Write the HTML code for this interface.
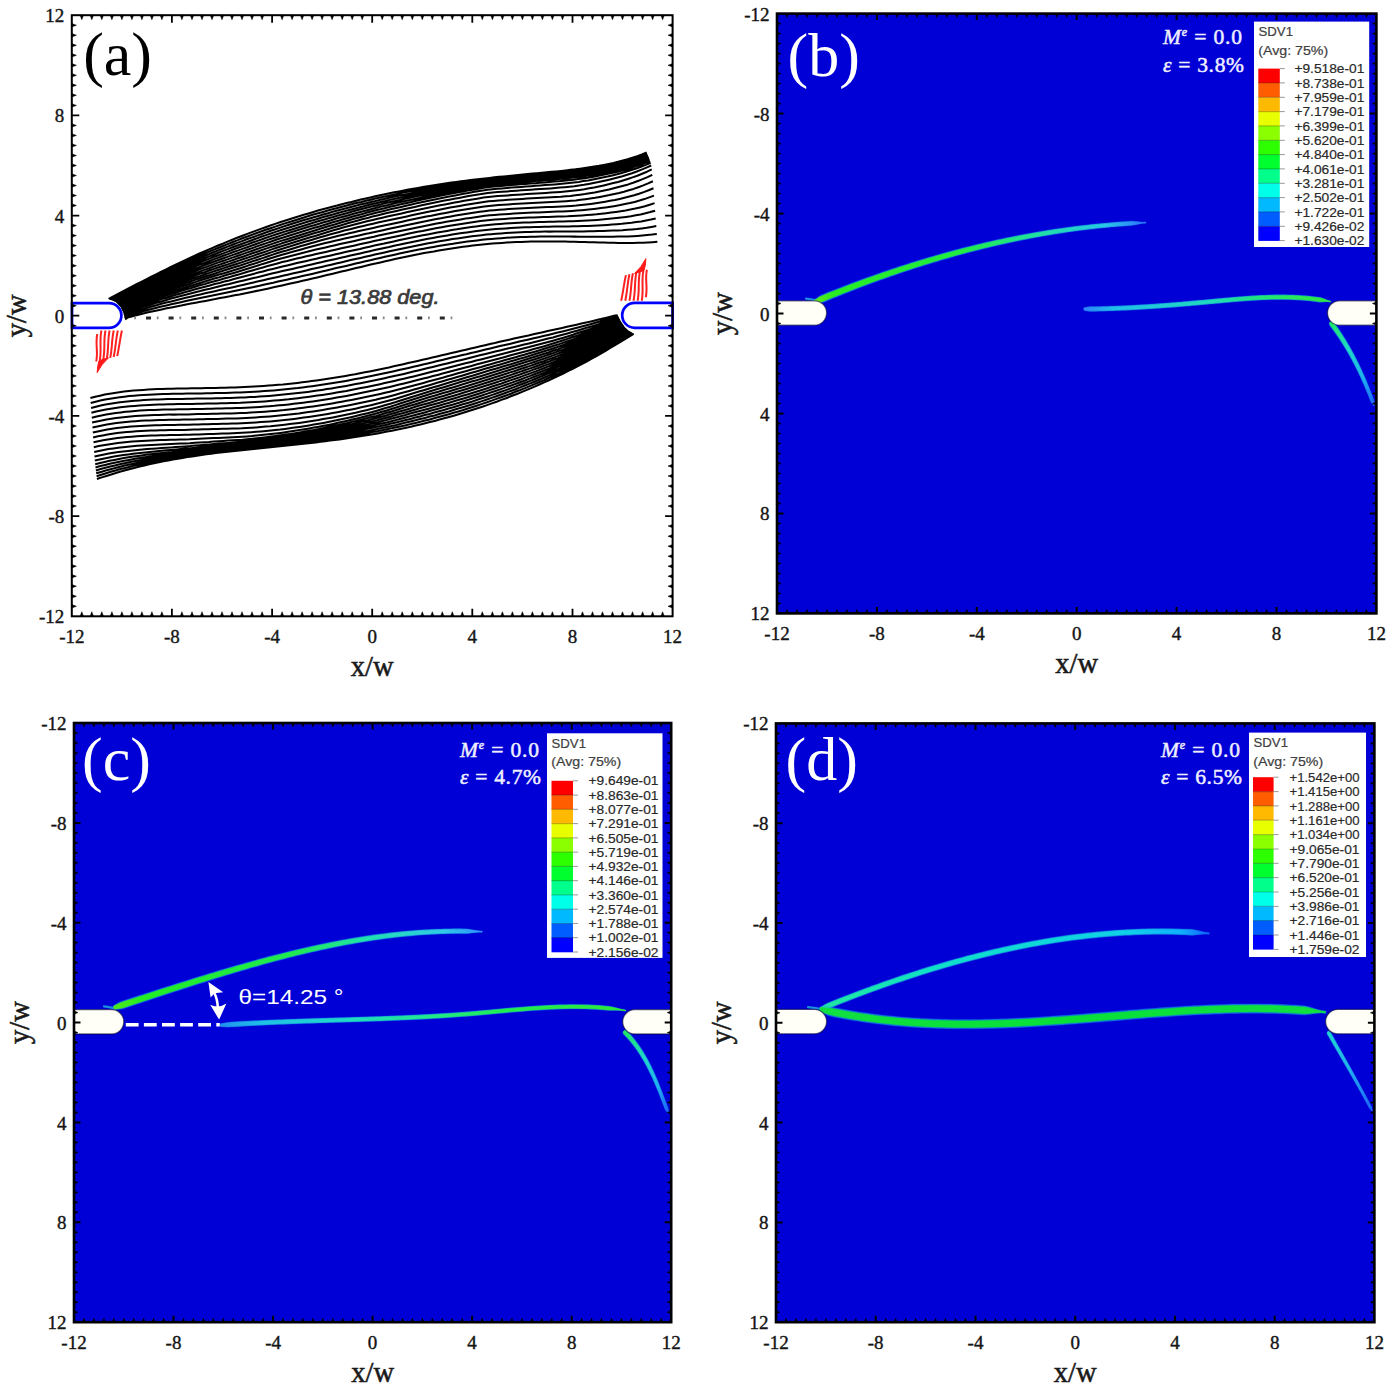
<!DOCTYPE html><html><head><meta charset="utf-8"><title>Figure</title><style>html,body{margin:0;padding:0;background:#fff;overflow:hidden;}svg{display:block;font-family:"Liberation Serif",serif;}</style></head><body><svg width="1395" height="1390" viewBox="0 0 1395 1390"><rect x="71.8" y="15.2" width="600.8" height="601.1" fill="#ffffff"/><path d="M125.2 319.4L127.7 317.5 132.6 316.2 137.4 315 142.3 313.7 147.1 312.6 152 311.5 156.9 310.4 161.7 309.4 166.6 308.3 171.4 307.4 176.3 306.4 181.2 305.5 186 304.5 190.9 303.6 195.7 302.7 200.6 301.8 205.5 300.9 210.3 300 215.2 299.1 220 298.1 224.9 297.2 229.8 296.3 234.6 295.3 239.5 294.4 244.3 293.4 249.2 292.4 254.1 291.4 258.9 290.4 263.8 289.4 268.6 288.4 273.5 287.3 278.3 286.3 283.2 285.2 288.1 284.1 292.9 283 297.8 281.9 302.6 280.8 307.5 279.7 312.4 278.5 317.2 277.4 322.1 276.2 326.9 275.1 331.8 273.9 336.7 272.7 341.5 271.6 346.4 270.4 351.2 269.2 356.1 268.1 361 266.9 365.8 265.8 370.7 264.6 375.5 263.5 380.4 262.4 385.3 261.3 390.1 260.2 395 259.1 399.8 258.1 404.7 257 409.6 256 414.4 255 419.3 254.1 424.1 253.1 429 252.2 433.9 251.4 438.7 250.5 443.6 249.7 448.4 248.9 453.3 248.2 458.2 247.5 463 246.8 467.9 246.2 472.7 245.6 477.6 245 482.5 244.5 487.3 244.1 492.2 243.6 497 243.2 501.9 242.9 506.8 242.6 511.6 242.3 516.5 242.1 521.3 241.9 526.2 241.7 531 241.6 535.9 241.5 540.8 241.4 545.6 241.4 550.5 241.4 555.3 241.4 560.2 241.5 565.1 241.6 569.9 241.7 574.8 241.8 579.6 241.9 584.5 242 589.4 242.2 594.2 242.3 599.1 242.5 603.9 242.6 608.8 242.7 613.7 242.8 618.5 242.9 623.4 242.9 628.2 242.9 633.1 242.9 638 242.8 642.8 242.7 647.7 242.5 652.5 242.2 657.4 241.8M124.8 318L127.5 315.8 132.4 314.3 137.2 312.9 142.1 311.5 146.9 310.2 151.8 308.9 156.6 307.7 161.5 306.6 166.4 305.4 171.2 304.3 176.1 303.2 180.9 302.2 185.8 301.1 190.6 300.1 195.5 299.1 200.3 298.1 205.2 297.1 210.1 296.1 214.9 295.1 219.8 294.1 224.6 293.1 229.5 292.1 234.3 291.1 239.2 290.1 244.1 289 248.9 288 253.8 286.9 258.6 285.9 263.5 284.8 268.3 283.7 273.2 282.7 278 281.6 282.9 280.5 287.8 279.4 292.6 278.3 297.5 277.2 302.3 276.1 307.2 275 312 273.9 316.9 272.7 321.8 271.6 326.6 270.4 331.5 269.3 336.3 268.1 341.2 267 346 265.9 350.9 264.7 355.7 263.6 360.6 262.4 365.5 261.3 370.3 260.2 375.2 259 380 257.9 384.9 256.8 389.7 255.8 394.6 254.7 399.5 253.6 404.3 252.6 409.2 251.6 414 250.6 418.9 249.6 423.7 248.7 428.6 247.8 433.4 246.9 438.3 246 443.2 245.2 448 244.4 452.9 243.7 457.7 242.9 462.6 242.2 467.4 241.6 472.3 241 477.2 240.4 482 239.8 486.9 239.3 491.7 238.9 496.6 238.5 501.4 238.2 506.3 237.8 511.1 237.5 516 237.3 520.9 237.1 525.7 236.9 530.6 236.8 535.4 236.7 540.3 236.6 545.1 236.5 550 236.5 554.9 236.5 559.7 236.5 564.6 236.5 569.4 236.6 574.3 236.6 579.1 236.7 584 236.7 588.8 236.7 593.7 236.8 598.6 236.8 603.4 236.8 608.3 236.8 613.1 236.7 618 236.6 622.8 236.5 627.7 236.4 632.6 236.2 637.4 235.9 642.3 235.5 647.1 235.1 652 234.6 656.8 234M124.5 316.5L127.5 314 132.4 312.4 137.2 310.9 142.1 309.4 146.9 307.9 151.8 306.5 156.6 305.2 161.5 303.8 166.3 302.6 171.2 301.4 176 300.2 180.9 299 185.7 297.8 190.6 296.7 195.4 295.6 200.3 294.4 205.1 293.3 210 292.2 214.8 291.2 219.7 290.1 224.5 289 229.4 287.9 234.2 286.9 239.1 285.8 243.9 284.7 248.8 283.6 253.6 282.4 258.5 281.3 263.3 280.2 268.2 279.1 273 278 277.9 276.9 282.7 275.8 287.6 274.7 292.4 273.6 297.3 272.5 302.1 271.4 307 270.3 311.8 269.1 316.7 268 321.5 266.9 326.4 265.8 331.2 264.7 336.1 263.5 340.9 262.4 345.8 261.3 350.7 260.1 355.5 259 360.4 257.9 365.2 256.8 370.1 255.7 374.9 254.6 379.8 253.5 384.6 252.4 389.5 251.3 394.3 250.3 399.2 249.2 404 248.2 408.9 247.2 413.7 246.2 418.6 245.2 423.4 244.2 428.3 243.3 433.1 242.4 438 241.5 442.8 240.7 447.7 239.9 452.5 239.1 457.4 238.4 462.2 237.7 467.1 237 471.9 236.3 476.8 235.7 481.6 235.2 486.5 234.6 491.3 234.2 496.2 233.8 501 233.4 505.9 233.1 510.7 232.8 515.6 232.5 520.4 232.3 525.3 232.1 530.1 232 535 231.8 539.8 231.7 544.7 231.6 549.5 231.6 554.4 231.5 559.3 231.5 564.1 231.5 569 231.5 573.8 231.4 578.7 231.4 583.5 231.4 588.4 231.3 593.2 231.2 598.1 231.1 602.9 231 607.8 230.8 612.6 230.6 617.5 230.4 622.3 230.2 627.2 229.8 632 229.4 636.9 229 641.7 228.4 646.6 227.8 651.4 227 656.3 226.1M124.1 315.1L127.5 312.4 132.3 310.7 137.2 309 142 307.4 146.9 305.8 151.7 304.3 156.6 302.8 161.4 301.4 166.3 300 171.1 298.6 176 297.3 180.8 296 185.7 294.8 190.5 293.5 195.3 292.3 200.2 291.1 205 289.8 209.9 288.7 214.7 287.5 219.6 286.3 224.4 285.1 229.3 284 234.1 282.8 239 281.6 243.8 280.4 248.6 279.3 253.5 278.1 258.3 276.9 263.2 275.7 268 274.5 272.9 273.3 277.7 272.2 282.6 271.1 287.4 270 292.3 268.9 297.1 267.8 302 266.7 306.8 265.6 311.6 264.4 316.5 263.3 321.3 262.2 326.2 261.1 331 260 335.9 258.9 340.7 257.8 345.6 256.7 350.4 255.6 355.3 254.5 360.1 253.4 365 252.3 369.8 251.2 374.6 250.1 379.5 249 384.3 247.9 389.2 246.9 394 245.8 398.9 244.8 403.7 243.7 408.6 242.7 413.4 241.7 418.3 240.7 423.1 239.8 428 238.8 432.8 237.9 437.6 237.1 442.5 236.2 447.3 235.4 452.2 234.6 457 233.8 461.9 233.1 466.7 232.4 471.6 231.7 476.4 231.1 481.3 230.5 486.1 229.9 490.9 229.5 495.8 229.1 500.6 228.7 505.5 228.4 510.3 228.1 515.2 227.8 520 227.6 524.9 227.3 529.7 227.2 534.6 227 539.4 226.9 544.3 226.8 549.1 226.7 553.9 226.6 558.8 226.5 563.6 226.5 568.5 226.4 573.3 226.3 578.2 226.2 583 226 587.9 225.9 592.7 225.7 597.6 225.5 602.4 225.2 607.3 224.9 612.1 224.6 616.9 224.2 621.8 223.8 626.6 223.3 631.5 222.8 636.3 222.1 641.2 221.4 646 220.5 650.9 219.5 655.7 218.4M123.8 313.6L127.5 310.9 132.3 309.1 137.2 307.3 142 305.6 146.9 303.9 151.7 302.3 156.5 300.7 161.4 299.1 166.2 297.7 171.1 296.2 175.9 294.8 180.7 293.4 185.6 292 190.4 290.7 195.3 289.3 200.1 288 205 286.7 209.8 285.4 214.6 284.1 219.5 282.9 224.3 281.6 229.2 280.4 234 279.1 238.8 277.8 243.7 276.5 248.5 275.2 253.4 273.9 258.2 272.6 263 271.4 267.9 270.1 272.7 268.9 277.6 267.7 282.4 266.5 287.2 265.4 292.1 264.2 296.9 263.1 301.8 262 306.6 260.9 311.5 259.8 316.3 258.7 321.1 257.6 326 256.5 330.8 255.4 335.7 254.3 340.5 253.2 345.3 252.1 350.2 251 355 249.9 359.9 248.9 364.7 247.8 369.5 246.7 374.4 245.6 379.2 244.5 384.1 243.5 388.9 242.4 393.7 241.4 398.6 240.3 403.4 239.3 408.3 238.3 413.1 237.3 417.9 236.3 422.8 235.3 427.6 234.4 432.5 233.5 437.3 232.6 442.2 231.7 447 230.9 451.8 230 456.7 229.3 461.5 228.5 466.4 227.8 471.2 227.1 476 226.4 480.9 225.8 485.7 225.2 490.6 224.7 495.4 224.3 500.2 224 505.1 223.6 509.9 223.3 514.8 223 519.6 222.8 524.4 222.6 529.3 222.4 534.1 222.2 539 222 543.8 221.9 548.6 221.8 553.5 221.7 558.3 221.5 563.2 221.4 568 221.3 572.9 221.2 577.7 221 582.5 220.7 587.4 220.5 592.2 220.2 597.1 219.9 601.9 219.5 606.7 219.1 611.6 218.6 616.4 218.1 621.3 217.5 626.1 216.9 630.9 216.2 635.8 215.3 640.6 214.4 645.5 213.3 650.3 212.1 655.1 210.7M123.2 312.2L127.5 309.4 132.3 307.5 137.2 305.7 142 303.9 146.8 302.2 151.7 300.5 156.5 298.8 161.3 297.1 166.2 295.6 171 294 175.9 292.5 180.7 291.1 185.5 289.6 190.4 288.2 195.2 286.7 200 285.3 204.9 284 209.7 282.6 214.5 281.2 219.4 279.9 224.2 278.5 229 277.2 233.9 275.8 238.7 274.5 243.6 273.1 248.4 271.6 253.2 270.2 258.1 268.8 262.9 267.4 267.7 266 272.6 264.7 277.4 263.4 282.2 262.1 287.1 261 291.9 259.8 296.7 258.6 301.6 257.5 306.4 256.3 311.3 255.2 316.1 254.1 320.9 253 325.8 251.9 330.6 250.8 335.4 249.7 340.3 248.6 345.1 247.5 349.9 246.5 354.8 245.4 359.6 244.3 364.4 243.3 369.3 242.2 374.1 241.1 379 240.1 383.8 239 388.6 238 393.5 236.9 398.3 235.9 403.1 234.9 408 233.8 412.8 232.8 417.6 231.8 422.5 230.9 427.3 229.9 432.1 229 437 228.1 441.8 227.2 446.7 226.3 451.5 225.5 456.3 224.7 461.2 223.9 466 223.2 470.8 222.5 475.7 221.8 480.5 221.1 485.3 220.5 490.2 220 495 219.6 499.8 219.2 504.7 218.9 509.5 218.6 514.4 218.3 519.2 218 524 217.8 528.9 217.6 533.7 217.4 538.5 217.2 543.4 217 548.2 216.9 553 216.7 557.9 216.6 562.7 216.4 567.5 216.3 572.4 216 577.2 215.8 582 215.5 586.9 215.1 591.7 214.7 596.6 214.3 601.4 213.8 606.2 213.2 611.1 212.6 615.9 212 620.7 211.3 625.6 210.5 630.4 209.6 635.2 208.6 640.1 207.4 644.9 206.2 649.7 204.7 654.6 203.1M122.6 310.9L127.5 307.9 132.3 306 137.2 304.2 142 302.3 146.8 300.5 151.7 298.7 156.5 297 161.3 295.3 166.1 293.6 171 292 175.8 290.4 180.6 288.9 185.5 287.4 190.3 285.9 195.1 284.4 200 282.9 204.8 281.5 209.6 280 214.4 278.6 219.3 277.2 224.1 275.7 228.9 274.3 233.8 272.9 238.6 271.5 243.4 270 248.3 268.5 253.1 267 257.9 265.5 262.8 263.9 267.6 262.5 272.4 261 277.2 259.6 282.1 258.2 286.9 256.9 291.7 255.7 296.6 254.4 301.4 253.2 306.2 252 311.1 250.8 315.9 249.6 320.7 248.5 325.5 247.4 330.4 246.3 335.2 245.2 340 244.1 344.9 243 349.7 242 354.5 240.9 359.4 239.8 364.2 238.8 369 237.7 373.9 236.7 378.7 235.6 383.5 234.6 388.3 233.5 393.2 232.5 398 231.5 402.8 230.4 407.7 229.4 412.5 228.4 417.3 227.4 422.2 226.4 427 225.5 431.8 224.5 436.6 223.6 441.5 222.7 446.3 221.8 451.1 221 456 220.2 460.8 219.4 465.6 218.6 470.5 217.9 475.3 217.2 480.1 216.5 485 215.8 489.8 215.3 494.6 214.9 499.4 214.5 504.3 214.2 509.1 213.9 513.9 213.6 518.8 213.3 523.6 213 528.4 212.8 533.3 212.6 538.1 212.4 542.9 212.2 547.8 212 552.6 211.8 557.4 211.6 562.2 211.4 567.1 211.2 571.9 210.9 576.7 210.6 581.6 210.2 586.4 209.8 591.2 209.3 596.1 208.7 600.9 208.1 605.7 207.4 610.5 206.7 615.4 205.9 620.2 205.1 625 204.1 629.9 203.1 634.7 201.9 639.5 200.6 644.4 199.1 649.2 197.4 654 195.6M122 309.6L127.5 306.5 132.3 304.5 137.2 302.6 142 300.7 146.8 298.8 151.6 297 156.5 295.2 161.3 293.4 166.1 291.7 170.9 290.1 175.8 288.4 180.6 286.8 185.4 285.2 190.2 283.7 195.1 282.1 199.9 280.6 204.7 279.1 209.5 277.6 214.4 276.1 219.2 274.6 224 273.2 228.8 271.7 233.7 270.2 238.5 268.7 243.3 267.2 248.1 265.6 253 264.1 257.8 262.5 262.6 260.9 267.4 259.3 272.3 257.8 277.1 256.3 281.9 254.8 286.7 253.4 291.6 252.1 296.4 250.7 301.2 249.4 306 248.1 310.9 246.8 315.7 245.5 320.5 244.3 325.3 243.1 330.2 241.9 335 240.8 339.8 239.7 344.6 238.6 349.5 237.5 354.3 236.4 359.1 235.4 363.9 234.3 368.8 233.3 373.6 232.2 378.4 231.2 383.2 230.2 388.1 229.1 392.9 228.1 397.7 227.1 402.5 226 407.4 225 412.2 224 417 223 421.8 222 426.7 221 431.5 220.1 436.3 219.1 441.1 218.2 446 217.3 450.8 216.5 455.6 215.6 460.4 214.8 465.3 214 470.1 213.3 474.9 212.5 479.7 211.8 484.6 211.2 489.4 210.6 494.2 210.2 499 209.8 503.9 209.5 508.7 209.1 513.5 208.8 518.3 208.5 523.2 208.3 528 208 532.8 207.8 537.7 207.5 542.5 207.3 547.3 207.1 552.1 206.9 557 206.7 561.8 206.5 566.6 206.2 571.4 205.9 576.3 205.5 581.1 205 585.9 204.5 590.7 203.9 595.6 203.2 600.4 202.5 605.2 201.7 610 200.8 614.9 199.9 619.7 198.9 624.5 197.8 629.3 196.6 634.2 195.3 639 193.8 643.8 192.1 648.6 190.3 653.5 188.3M121.3 308.2L127.5 305 132.3 303 137.1 301.1 142 299.1 146.8 297.2 151.6 295.3 156.4 293.4 161.2 291.6 166.1 289.9 170.9 288.1 175.7 286.4 180.5 284.8 185.3 283.1 190.2 281.5 195 279.9 199.8 278.3 204.6 276.8 209.4 275.2 214.3 273.7 219.1 272.1 223.9 270.6 228.7 269.1 233.5 267.6 238.4 266.1 243.2 264.5 248 262.9 252.8 261.3 257.6 259.7 262.5 258.1 267.3 256.5 272.1 254.9 276.9 253.3 281.7 251.8 286.6 250.4 291.4 248.9 296.2 247.5 301 246.1 305.8 244.7 310.7 243.3 315.5 241.9 320.3 240.6 325.1 239.2 329.9 238 334.8 236.8 339.6 235.6 344.4 234.4 349.2 233.3 354 232.2 358.9 231.1 363.7 230 368.5 228.9 373.3 227.9 378.1 226.8 383 225.8 387.8 224.8 392.6 223.7 397.4 222.7 402.2 221.7 407.1 220.6 411.9 219.6 416.7 218.6 421.5 217.6 426.3 216.6 431.2 215.7 436 214.7 440.8 213.8 445.6 212.9 450.4 212 455.3 211.1 460.1 210.3 464.9 209.5 469.7 208.7 474.5 208 479.4 207.2 484.2 206.5 489 205.9 493.8 205.5 498.7 205.1 503.5 204.8 508.3 204.5 513.1 204.1 517.9 203.8 522.8 203.6 527.6 203.3 532.4 203 537.2 202.8 542 202.5 546.9 202.3 551.7 202 556.5 201.8 561.3 201.5 566.1 201.2 571 200.8 575.8 200.4 580.6 199.8 585.4 199.2 590.2 198.5 595.1 197.8 599.9 196.9 604.7 196 609.5 195.1 614.3 194 619.2 192.9 624 191.7 628.8 190.3 633.6 188.9 638.4 187.2 643.3 185.4 648.1 183.4 652.9 181.2M120.7 306.9L127.5 303.5 132.3 301.5 137.1 299.5 141.9 297.5 146.8 295.5 151.6 293.6 156.4 291.7 161.2 289.8 166 288 170.8 286.2 175.6 284.5 180.5 282.8 185.3 281 190.1 279.4 194.9 277.7 199.7 276.1 204.5 274.5 209.4 272.9 214.2 271.3 219 269.7 223.8 268.1 228.6 266.6 233.4 265 238.2 263.5 243.1 261.9 247.9 260.3 252.7 258.6 257.5 257 262.3 255.4 267.1 253.7 271.9 252.1 276.8 250.5 281.6 249 286.4 247.5 291.2 246.1 296 244.6 300.8 243.1 305.7 241.6 310.5 240.2 315.3 238.7 320.1 237.3 324.9 235.9 329.7 234.5 334.5 233.2 339.4 231.9 344.2 230.6 349 229.4 353.8 228.2 358.6 227 363.4 225.9 368.2 224.8 373.1 223.7 377.9 222.6 382.7 221.6 387.5 220.5 392.3 219.5 397.1 218.4 402 217.4 406.8 216.4 411.6 215.3 416.4 214.3 421.2 213.3 426 212.3 430.8 211.3 435.7 210.4 440.5 209.4 445.3 208.5 450.1 207.6 454.9 206.7 459.7 205.9 464.5 205.1 469.4 204.2 474.2 203.5 479 202.7 483.8 202 488.6 201.3 493.4 200.9 498.3 200.5 503.1 200.2 507.9 199.8 512.7 199.5 517.5 199.2 522.3 198.9 527.1 198.6 532 198.3 536.8 198 541.6 197.8 546.4 197.5 551.2 197.2 556 196.9 560.8 196.7 565.7 196.3 570.5 195.9 575.3 195.3 580.1 194.7 584.9 194.1 589.7 193.3 594.6 192.5 599.4 191.5 604.2 190.5 609 189.5 613.8 188.3 618.6 187.1 623.4 185.8 628.3 184.4 633.1 182.8 637.9 181 642.7 179.1 647.5 177.1 652.3 174.8M119.7 305.7L127.5 302.1 132.3 300 137.1 298 141.9 295.9 146.7 293.9 151.5 291.9 156.4 290 161.2 288 166 286.2 170.8 284.3 175.6 282.5 180.4 280.7 185.2 279 190 277.2 194.8 275.5 199.6 273.8 204.5 272.2 209.3 270.5 214.1 268.9 218.9 267.3 223.7 265.7 228.5 264.1 233.3 262.5 238.1 260.9 242.9 259.3 247.7 257.6 252.6 256 257.4 254.3 262.2 252.7 267 251.1 271.8 249.4 276.6 247.8 281.4 246.3 286.2 244.8 291 243.3 295.8 241.8 300.7 240.3 305.5 238.8 310.3 237.3 315.1 235.9 319.9 234.4 324.7 232.9 329.5 231.5 334.3 230.1 339.1 228.7 343.9 227.3 348.8 226 353.6 224.7 358.4 223.5 363.2 222.3 368 221.1 372.8 219.9 377.6 218.8 382.4 217.7 387.2 216.6 392 215.5 396.8 214.5 401.7 213.4 406.5 212.3 411.3 211.3 416.1 210.3 420.9 209.2 425.7 208.2 430.5 207.2 435.3 206.3 440.1 205.3 444.9 204.4 449.8 203.4 454.6 202.5 459.4 201.7 464.2 200.8 469 200 473.8 199.2 478.6 198.4 483.4 197.6 488.2 196.9 493 196.5 497.9 196.1 502.7 195.7 507.5 195.4 512.3 195.1 517.1 194.7 521.9 194.4 526.7 194.1 531.5 193.8 536.3 193.5 541.1 193.2 546 192.9 550.8 192.6 555.6 192.3 560.4 192 565.2 191.6 570 191.1 574.8 190.5 579.6 189.9 584.4 189.2 589.2 188.3 594.1 187.5 598.9 186.5 603.7 185.4 608.5 184.3 613.3 183.1 618.1 181.9 622.9 180.5 627.7 179 632.5 177.4 637.3 175.7 642.1 173.7 647 171.7 651.8 169.4M118.7 304.7L127.5 300.6 132.3 298.5 137.1 296.4 141.9 294.3 146.7 292.3 151.5 290.2 156.3 288.2 161.1 286.2 165.9 284.3 170.7 282.4 175.5 280.6 180.4 278.7 185.2 276.9 190 275.1 194.8 273.4 199.6 271.6 204.4 269.9 209.2 268.2 214 266.5 218.8 264.9 223.6 263.2 228.4 261.6 233.2 260 238 258.3 242.8 256.7 247.6 255 252.4 253.3 257.2 251.7 262 250 266.8 248.4 271.6 246.8 276.4 245.2 281.2 243.6 286.1 242.1 290.9 240.6 295.7 239.1 300.5 237.6 305.3 236.1 310.1 234.6 314.9 233.1 319.7 231.7 324.5 230.2 329.3 228.7 334.1 227.3 338.9 225.9 343.7 224.5 348.5 223.1 353.3 221.7 358.1 220.4 362.9 219.1 367.7 217.9 372.5 216.6 377.3 215.4 382.1 214.3 387 213.1 391.8 212 396.6 210.9 401.4 209.8 406.2 208.8 411 207.7 415.8 206.7 420.6 205.6 425.4 204.6 430.2 203.6 435 202.6 439.8 201.6 444.6 200.6 449.4 199.7 454.2 198.8 459 197.9 463.8 197 468.6 196.1 473.4 195.3 478.2 194.5 483 193.7 487.8 193 492.7 192.5 497.5 192.1 502.3 191.7 507.1 191.4 511.9 191 516.7 190.7 521.5 190.3 526.3 190 531.1 189.7 535.9 189.3 540.7 189 545.5 188.7 550.3 188.4 555.1 188 559.9 187.6 564.7 187.2 569.5 186.7 574.3 186.2 579.1 185.5 583.9 184.8 588.7 183.9 593.5 183 598.4 182.1 603.2 181 608 179.9 612.8 178.7 617.6 177.5 622.4 176.2 627.2 174.7 632 173.2 636.8 171.5 641.6 169.6 646.4 167.6 651.2 165.5M117.6 303.6L127.5 299.2 132.3 297 137.1 294.9 141.9 292.7 146.7 290.6 151.5 288.5 156.3 286.5 161.1 284.5 165.9 282.5 170.7 280.5 175.5 278.6 180.3 276.7 185.1 274.8 189.9 273 194.7 271.2 199.5 269.4 204.3 267.6 209.1 265.9 213.9 264.1 218.7 262.4 223.5 260.7 228.3 259.1 233.1 257.4 237.9 255.7 242.7 254.1 247.5 252.4 252.3 250.7 257.1 249 261.9 247.4 266.7 245.7 271.5 244.1 276.3 242.5 281.1 240.9 285.9 239.4 290.7 237.9 295.5 236.4 300.3 234.9 305.1 233.4 309.9 232 314.7 230.5 319.5 229 324.3 227.5 329.1 226.1 333.9 224.7 338.7 223.2 343.5 221.8 348.3 220.4 353.1 219.1 357.9 217.7 362.7 216.4 367.5 215.1 372.3 213.8 377.1 212.6 381.9 211.4 386.7 210.2 391.5 209.1 396.3 207.9 401.1 206.9 405.9 205.8 410.7 204.7 415.5 203.6 420.3 202.6 425.1 201.6 429.9 200.5 434.7 199.5 439.5 198.5 444.3 197.6 449.1 196.6 453.9 195.7 458.7 194.7 463.5 193.8 468.3 193 473.1 192.1 477.9 191.3 482.7 190.5 487.5 189.7 492.3 189.2 497.1 188.8 501.9 188.4 506.7 188 511.5 187.6 516.3 187.2 521.1 186.9 525.9 186.5 530.7 186.2 535.5 185.8 540.3 185.5 545.1 185.1 549.9 184.8 554.7 184.4 559.5 184 564.3 183.6 569.1 183.1 573.9 182.5 578.7 181.9 583.4 181.1 588.2 180.4 593 179.5 597.8 178.6 602.6 177.6 607.4 176.6 612.2 175.4 617 174.3 621.8 173 626.6 171.6 631.4 170.1 636.2 168.5 641 166.8 645.8 164.9 650.6 162.8M116.6 302.6L127.5 297.7 132.3 295.5 137.1 293.3 141.9 291.1 146.7 289 151.5 286.8 156.3 284.7 161.1 282.7 165.9 280.6 170.6 278.6 175.4 276.6 180.2 274.7 185 272.8 189.8 270.9 194.6 269 199.4 267.2 204.2 265.3 209 263.5 213.8 261.8 218.6 260 223.4 258.3 228.2 256.6 233 254.9 237.8 253.2 242.6 251.5 247.4 249.8 252.2 248.1 256.9 246.4 261.7 244.7 266.5 243.1 271.3 241.5 276.1 239.8 280.9 238.3 285.7 236.8 290.5 235.2 295.3 233.7 300.1 232.3 304.9 230.8 309.7 229.3 314.5 227.8 319.3 226.4 324.1 224.9 328.9 223.5 333.7 222.1 338.4 220.7 343.2 219.3 348 217.9 352.8 216.5 357.6 215.2 362.4 213.9 367.2 212.6 372 211.3 376.8 210.1 381.6 208.9 386.4 207.7 391.2 206.5 396 205.4 400.8 204.3 405.6 203.2 410.4 202.2 415.2 201.1 420 200.1 424.7 199.1 429.5 198 434.3 197 439.1 196.1 443.9 195.1 448.7 194.1 453.5 193.2 458.3 192.3 463.1 191.4 467.9 190.5 472.7 189.7 477.5 188.9 482.3 188.1 487.1 187.3 491.9 186.7 496.7 186.3 501.5 185.9 506.2 185.5 511 185 515.8 184.7 520.6 184.3 525.4 183.9 530.2 183.5 535 183.2 539.8 182.8 544.6 182.4 549.4 182 554.2 181.6 559 181.2 563.8 180.8 568.6 180.3 573.4 179.7 578.2 179.1 583 178.4 587.8 177.7 592.5 176.9 597.3 176 602.1 175.1 606.9 174.1 611.7 173.1 616.5 171.9 621.3 170.7 626.1 169.4 630.9 168 635.7 166.4 640.5 164.7 645.3 162.9 650.1 160.9M115.5 301.5L127.5 296.3 132.3 294 137.1 291.8 141.9 289.5 146.7 287.3 151.4 285.2 156.2 283 161 280.9 165.8 278.8 170.6 276.7 175.4 274.7 180.2 272.7 185 270.7 189.8 268.8 194.5 266.8 199.3 264.9 204.1 263.1 208.9 261.2 213.7 259.4 218.5 257.6 223.3 255.8 228.1 254.1 232.9 252.3 237.7 250.6 242.4 248.9 247.2 247.2 252 245.5 256.8 243.8 261.6 242.1 266.4 240.4 271.2 238.8 276 237.2 280.8 235.6 285.5 234.1 290.3 232.6 295.1 231.1 299.9 229.6 304.7 228.1 309.5 226.6 314.3 225.2 319.1 223.7 323.9 222.3 328.6 220.9 333.4 219.5 338.2 218.1 343 216.8 347.8 215.4 352.6 214.1 357.4 212.8 362.2 211.5 367 210.2 371.7 209 376.5 207.7 381.3 206.5 386.1 205.4 390.9 204.2 395.7 203.1 400.5 202 405.3 201 410.1 199.9 414.8 198.9 419.6 197.9 424.4 196.9 429.2 195.9 434 194.9 438.8 194 443.6 193 448.4 192.1 453.2 191.2 458 190.3 462.7 189.4 467.5 188.6 472.3 187.8 477.1 187 481.9 186.2 486.7 185.4 491.5 184.9 496.3 184.4 501.1 184 505.8 183.5 510.6 183.1 515.4 182.7 520.2 182.3 525 181.9 529.8 181.5 534.6 181.1 539.4 180.7 544.2 180.3 548.9 179.9 553.7 179.5 558.5 179.1 563.3 178.7 568.1 178.2 572.9 177.6 577.7 177 582.5 176.4 587.3 175.7 592 174.9 596.8 174.1 601.6 173.2 606.4 172.3 611.2 171.3 616 170.2 620.8 169 625.6 167.7 630.4 166.3 635.1 164.8 639.9 163.1 644.7 161.3 649.5 159.3M114.1 301L127.5 294.8 132.3 292.5 137.1 290.2 141.9 288 146.6 285.7 151.4 283.5 156.2 281.3 161 279.1 165.8 276.9 170.6 274.8 175.3 272.7 180.1 270.7 184.9 268.6 189.7 266.6 194.5 264.7 199.3 262.7 204 260.8 208.8 258.9 213.6 257 218.4 255.2 223.2 253.4 228 251.6 232.7 249.8 237.5 248 242.3 246.3 247.1 244.6 251.9 242.8 256.7 241.1 261.5 239.5 266.2 237.8 271 236.1 275.8 234.5 280.6 233 285.4 231.4 290.2 229.9 294.9 228.4 299.7 226.9 304.5 225.5 309.3 224 314.1 222.6 318.9 221.1 323.6 219.7 328.4 218.3 333.2 217 338 215.6 342.8 214.3 347.6 212.9 352.3 211.6 357.1 210.3 361.9 209.1 366.7 207.8 371.5 206.6 376.3 205.4 381.1 204.3 385.8 203.1 390.6 202 395.4 200.9 400.2 199.9 405 198.8 409.8 197.8 414.5 196.8 419.3 195.8 424.1 194.9 428.9 193.9 433.7 193 438.5 192 443.2 191.1 448 190.3 452.8 189.4 457.6 188.5 462.4 187.7 467.2 186.9 471.9 186.1 476.7 185.4 481.5 184.6 486.3 183.9 491.1 183.3 495.9 182.8 500.6 182.4 505.4 181.9 510.2 181.5 515 181.1 519.8 180.7 524.6 180.2 529.4 179.8 534.1 179.4 538.9 179 543.7 178.6 548.5 178.2 553.3 177.8 558.1 177.4 562.8 176.9 567.6 176.4 572.4 175.9 577.2 175.3 582 174.7 586.8 174 591.5 173.3 596.3 172.5 601.1 171.6 605.9 170.7 610.7 169.7 615.5 168.6 620.2 167.4 625 166.2 629.8 164.8 634.6 163.3 639.4 161.6 644.2 159.8 649 157.9M112.8 300.4L127.5 293.4 132.3 291 137.1 288.7 141.8 286.4 146.6 284.1 151.4 281.8 156.2 279.5 161 277.3 165.7 275.1 170.5 272.9 175.3 270.8 180.1 268.7 184.8 266.6 189.6 264.5 194.4 262.5 199.2 260.5 204 258.5 208.7 256.6 213.5 254.7 218.3 252.8 223.1 250.9 227.9 249.1 232.6 247.3 237.4 245.5 242.2 243.7 247 242 251.7 240.2 256.5 238.5 261.3 236.8 266.1 235.1 270.9 233.5 275.6 231.9 280.4 230.3 285.2 228.8 290 227.2 294.8 225.7 299.5 224.3 304.3 222.8 309.1 221.3 313.9 219.9 318.7 218.5 323.4 217.1 328.2 215.7 333 214.4 337.8 213.1 342.5 211.8 347.3 210.5 352.1 209.2 356.9 207.9 361.7 206.7 366.4 205.5 371.2 204.3 376 203.2 380.8 202 385.6 200.9 390.3 199.8 395.1 198.8 399.9 197.7 404.7 196.7 409.4 195.8 414.2 194.8 419 193.8 423.8 192.9 428.6 192 433.3 191.1 438.1 190.2 442.9 189.3 447.7 188.5 452.5 187.7 457.2 186.9 462 186.1 466.8 185.3 471.6 184.6 476.4 183.9 481.1 183.2 485.9 182.5 490.7 181.9 495.5 181.4 500.2 180.9 505 180.5 509.8 180 514.6 179.6 519.4 179.2 524.1 178.8 528.9 178.3 533.7 177.9 538.5 177.5 543.3 177.1 548 176.7 552.8 176.3 557.6 175.8 562.4 175.3 567.1 174.8 571.9 174.3 576.7 173.7 581.5 173.1 586.3 172.4 591 171.7 595.8 170.9 600.6 170.1 605.4 169.2 610.2 168.2 614.9 167.1 619.7 166 624.5 164.7 629.3 163.4 634.1 161.9 638.8 160.2 643.6 158.5 648.4 156.5M111.4 299.9L127.5 291.9 132.3 289.5 137 287.1 141.8 284.8 146.6 282.4 151.4 280.1 156.1 277.8 160.9 275.5 165.7 273.2 170.5 271 175.2 268.8 180 266.7 184.8 264.5 189.6 262.4 194.3 260.3 199.1 258.3 203.9 256.2 208.7 254.3 213.4 252.3 218.2 250.4 223 248.5 227.7 246.6 232.5 244.7 237.3 242.9 242.1 241.1 246.8 239.3 251.6 237.6 256.4 235.9 261.2 234.2 265.9 232.5 270.7 230.8 275.5 229.2 280.3 227.6 285 226.1 289.8 224.6 294.6 223.1 299.4 221.6 304.1 220.1 308.9 218.7 313.7 217.3 318.4 215.9 323.2 214.5 328 213.2 332.8 211.8 337.5 210.5 342.3 209.3 347.1 208 351.9 206.7 356.6 205.5 361.4 204.3 366.2 203.2 371 202 375.7 200.9 380.5 199.8 385.3 198.7 390 197.6 394.8 196.6 399.6 195.6 404.4 194.7 409.1 193.7 413.9 192.8 418.7 191.8 423.5 190.9 428.2 190.1 433 189.2 437.8 188.4 442.6 187.6 447.3 186.8 452.1 186 456.9 185.2 461.7 184.5 466.4 183.8 471.2 183.1 476 182.4 480.7 181.7 485.5 181.1 490.3 180.5 495.1 180 499.8 179.6 504.6 179.1 509.4 178.6 514.2 178.2 518.9 177.8 523.7 177.3 528.5 176.9 533.3 176.5 538 176.1 542.8 175.6 547.6 175.2 552.4 174.8 557.1 174.3 561.9 173.8 566.7 173.3 571.4 172.8 576.2 172.2 581 171.6 585.8 171 590.5 170.2 595.3 169.5 600.1 168.6 604.9 167.7 609.6 166.8 614.4 165.7 619.2 164.6 624 163.3 628.7 162 633.5 160.5 638.3 158.9 643.1 157.1 647.8 155.2M110 299.3L127.5 290.5 132.3 288 137 285.6 141.8 283.2 146.6 280.8 151.3 278.4 156.1 276 160.9 273.7 165.6 271.4 170.4 269.1 175.2 266.9 180 264.6 184.7 262.5 189.5 260.3 194.3 258.2 199 256 203.8 254 208.6 251.9 213.3 249.9 218.1 248 222.9 246 227.6 244.1 232.4 242.2 237.2 240.4 241.9 238.5 246.7 236.7 251.5 235 256.2 233.2 261 231.5 265.8 229.8 270.6 228.2 275.3 226.6 280.1 225 284.9 223.4 289.6 221.9 294.4 220.4 299.2 218.9 303.9 217.5 308.7 216 313.5 214.6 318.2 213.3 323 211.9 327.8 210.6 332.5 209.3 337.3 208 342.1 206.7 346.8 205.5 351.6 204.3 356.4 203.1 361.2 202 365.9 200.8 370.7 199.7 375.5 198.6 380.2 197.5 385 196.5 389.8 195.5 394.5 194.5 399.3 193.5 404.1 192.6 408.8 191.6 413.6 190.7 418.4 189.9 423.1 189 427.9 188.2 432.7 187.4 437.5 186.6 442.2 185.8 447 185 451.8 184.3 456.5 183.6 461.3 182.9 466.1 182.2 470.8 181.6 475.6 180.9 480.4 180.3 485.1 179.7 489.9 179.2 494.7 178.7 499.4 178.2 504.2 177.7 509 177.3 513.7 176.8 518.5 176.4 523.3 175.9 528.1 175.5 532.8 175.1 537.6 174.6 542.4 174.2 547.1 173.7 551.9 173.3 556.7 172.8 561.4 172.4 566.2 171.8 571 171.3 575.7 170.7 580.5 170.1 585.3 169.5 590 168.8 594.8 168 599.6 167.2 604.3 166.3 609.1 165.3 613.9 164.3 618.7 163.2 623.4 161.9 628.2 160.6 633 159.1 637.7 157.5 642.5 155.8 647.3 153.9M108.6 298.8L127.5 289 132.3 286.5 137 284 141.8 281.6 146.6 279.1 151.3 276.7 156.1 274.3 160.8 271.9 165.6 269.6 170.4 267.2 175.1 264.9 179.9 262.6 184.7 260.4 189.4 258.2 194.2 256 198.9 253.8 203.7 251.7 208.5 249.6 213.2 247.6 218 245.5 222.8 243.6 227.5 241.6 232.3 239.7 237.1 237.8 241.8 236 246.6 234.1 251.3 232.4 256.1 230.6 260.9 228.9 265.6 227.2 270.4 225.5 275.2 223.9 279.9 222.3 284.7 220.8 289.5 219.2 294.2 217.7 299 216.3 303.7 214.8 308.5 213.4 313.3 212 318 210.6 322.8 209.3 327.6 208 332.3 206.7 337.1 205.5 341.8 204.2 346.6 203 351.4 201.9 356.1 200.7 360.9 199.6 365.7 198.5 370.4 197.4 375.2 196.3 380 195.3 384.7 194.3 389.5 193.3 394.2 192.3 399 191.4 403.8 190.5 408.5 189.6 413.3 188.7 418.1 187.9 422.8 187.1 427.6 186.3 432.4 185.5 437.1 184.7 441.9 184 446.6 183.3 451.4 182.6 456.2 181.9 460.9 181.3 465.7 180.7 470.5 180.1 475.2 179.5 480 178.9 484.7 178.4 489.5 177.9 494.3 177.3 499 176.8 503.8 176.4 508.6 175.9 513.3 175.4 518.1 175 522.9 174.5 527.6 174.1 532.4 173.6 537.1 173.2 541.9 172.8 546.7 172.3 551.4 171.8 556.2 171.4 561 170.9 565.7 170.4 570.5 169.8 575.3 169.3 580 168.7 584.8 168 589.5 167.3 594.3 166.6 599.1 165.8 603.8 164.9 608.6 163.9 613.4 162.9 618.1 161.8 622.9 160.5 627.6 159.2 632.4 157.7 637.2 156.1 641.9 154.4 646.7 152.5M90.4 398.1 95.2 396.8 100 395.7 104.8 394.6 109.7 393.7 114.5 392.9 119.3 392.2 124.1 391.6 128.9 391.1 133.7 390.6 138.5 390.2 143.4 389.9 148.2 389.6 153 389.3 157.8 389.1 162.6 388.9 167.4 388.8 172.2 388.7 177 388.6 181.9 388.5 186.7 388.4 191.5 388.3 196.3 388.3 201.1 388.2 205.9 388.1 210.7 388 215.6 387.9 220.4 387.8 225.2 387.7 230 387.6 234.8 387.4 239.6 387.2 244.4 387 249.3 386.8 254.1 386.6 258.9 386.3 263.7 386 268.5 385.6 273.3 385.2 278.1 384.8 283 384.4 287.8 383.9 292.6 383.4 297.4 382.9 302.2 382.3 307 381.7 311.8 381.1 316.6 380.5 321.5 379.8 326.3 379.1 331.1 378.3 335.9 377.5 340.7 376.7 345.5 375.9 350.3 375 355.2 374.2 360 373.2 364.8 372.3 369.6 371.4 374.4 370.4 379.2 369.4 384 368.4 388.9 367.4 393.7 366.3 398.5 365.3 403.3 364.2 408.1 363.1 412.9 362 417.7 360.9 422.5 359.8 427.4 358.7 432.2 357.6 437 356.4 441.8 355.3 446.6 354.2 451.4 353.1 456.2 351.9 461.1 350.8 465.9 349.7 470.7 348.5 475.5 347.4 480.3 346.3 485.1 345.2 489.9 344.1 494.8 343 499.6 341.8 504.4 340.8 509.2 339.7 514 338.6 518.8 337.5 523.6 336.4 528.5 335.4 533.3 334.3 538.1 333.2 542.9 332.2 547.7 331.1 552.5 330 557.3 329 562.1 327.9 567 326.8 571.8 325.8 576.6 324.7 581.4 323.6 586.2 322.5 591 321.4 595.8 320.2 600.7 319.1 605.5 317.9 610.3 316.7 615.1 315.4L617.6 315.2M90.7 403 95.6 401.7 100.4 400.6 105.2 399.6 110 398.7 114.8 397.9 119.6 397.3 124.4 396.7 129.3 396.1 134.1 395.7 138.9 395.3 143.7 395 148.5 394.7 153.3 394.5 158.1 394.3 163 394.1 167.8 394 172.6 393.8 177.4 393.7 182.2 393.7 187 393.6 191.8 393.5 196.7 393.4 201.5 393.4 206.3 393.3 211.1 393.2 215.9 393.1 220.7 393 225.5 392.9 230.4 392.7 235.2 392.6 240 392.4 244.8 392.2 249.6 392 254.4 391.7 259.2 391.4 264.1 391.1 268.9 390.7 273.7 390.4 278.5 390 283.3 389.5 288.1 389 292.9 388.5 297.8 388 302.6 387.4 307.4 386.8 312.2 386.2 317 385.5 321.8 384.8 326.6 384.1 331.5 383.3 336.3 382.5 341.1 381.7 345.9 380.9 350.7 380 355.5 379.1 360.3 378.2 365.2 377.2 370 376.3 374.8 375.3 379.6 374.3 384.4 373.3 389.2 372.2 394 371.2 398.9 370.1 403.7 369 408.5 367.9 413.3 366.8 418.1 365.7 422.9 364.5 427.7 363.4 432.6 362.3 437.4 361.1 442.2 360 447 358.8 451.8 357.6 456.6 356.5 461.4 355.3 466.3 354.2 471.1 353 475.9 351.9 480.7 350.7 485.5 349.6 490.3 348.4 495.1 347.3 500 346.1 504.8 345 509.6 343.9 514.4 342.8 519.2 341.6 524 340.5 528.8 339.4 533.7 338.3 538.5 337.2 543.3 336 548.1 334.9 552.9 333.8 557.7 332.6 562.5 331.4 567.4 330.2 572.2 329 577 327.7 581.8 326.5 586.6 325.2 591.4 323.9 596.2 322.6 601.1 321.3 605.9 319.9 610.7 318.6 615.5 317.2L618.2 316.4M91.1 407.9 95.9 406.7 100.7 405.6 105.5 404.6 110.3 403.7 115.1 403 120 402.3 124.8 401.7 129.6 401.2 134.4 400.8 139.2 400.4 144 400.1 148.8 399.8 153.6 399.6 158.4 399.4 163.3 399.3 168.1 399.1 172.9 399 177.7 398.9 182.5 398.9 187.3 398.8 192.1 398.7 196.9 398.6 201.7 398.5 206.6 398.4 211.4 398.4 216.2 398.3 221 398.2 225.8 398 230.6 397.9 235.4 397.7 240.2 397.6 245 397.4 249.9 397.1 254.7 396.9 259.5 396.6 264.3 396.2 269.1 395.9 273.9 395.5 278.7 395.1 283.5 394.6 288.3 394.1 293.2 393.6 298 393.1 302.8 392.5 307.6 391.9 312.4 391.2 317.2 390.6 322 389.9 326.8 389.1 331.6 388.4 336.5 387.6 341.3 386.7 346.1 385.9 350.9 385 355.7 384.1 360.5 383.2 365.3 382.2 370.1 381.2 374.9 380.3 379.8 379.2 384.6 378.2 389.4 377.1 394.2 376.1 399 375 403.8 373.9 408.6 372.7 413.4 371.6 418.2 370.5 423.1 369.3 427.9 368.1 432.7 367 437.5 365.8 442.3 364.6 447.1 363.4 451.9 362.3 456.7 361.1 461.5 359.9 466.4 358.7 471.2 357.5 476 356.3 480.8 355.1 485.6 353.9 490.4 352.8 495.2 351.6 500 350.4 504.8 349.2 509.7 348.1 514.5 346.9 519.3 345.7 524.1 344.6 528.9 343.4 533.7 342.2 538.5 341 543.3 339.8 548.1 338.6 553 337.4 557.8 336.1 562.6 334.8 567.4 333.5 572.2 332.1 577 330.7 581.8 329.3 586.6 327.8 591.4 326.4 596.3 324.9 601.1 323.5 605.9 322 610.7 320.5 615.5 318.9L618.8 317.6M91.4 412.8 96.2 411.6 101 410.5 105.9 409.6 110.7 408.7 115.5 408 120.3 407.3 125.1 406.8 129.9 406.3 134.7 405.9 139.5 405.5 144.3 405.2 149.1 405 153.9 404.7 158.7 404.6 163.5 404.4 168.4 404.3 173.2 404.2 178 404.1 182.8 404 187.6 404 192.4 403.9 197.2 403.8 202 403.7 206.8 403.6 211.6 403.5 216.4 403.4 221.2 403.3 226.1 403.2 230.9 403.1 235.7 402.9 240.5 402.8 245.3 402.5 250.1 402.3 254.9 402 259.7 401.7 264.5 401.4 269.3 401 274.1 400.6 278.9 400.2 283.7 399.7 288.6 399.3 293.4 398.7 298.2 398.2 303 397.6 307.8 397 312.6 396.3 317.4 395.6 322.2 394.9 327 394.2 331.8 393.4 336.6 392.6 341.4 391.7 346.3 390.9 351.1 390 355.9 389.1 360.7 388.1 365.5 387.2 370.3 386.2 375.1 385.2 379.9 384.2 384.7 383.1 389.5 382 394.3 380.9 399.1 379.8 403.9 378.7 408.8 377.5 413.6 376.4 418.4 375.2 423.2 374 428 372.8 432.8 371.6 437.6 370.4 442.4 369.2 447.2 368 452 366.8 456.8 365.5 461.6 364.3 466.5 363.1 471.3 361.9 476.1 360.6 480.9 359.4 485.7 358.2 490.5 356.9 495.3 355.7 500.1 354.5 504.9 353.2 509.7 352 514.5 350.8 519.3 349.6 524.1 348.3 529 347.1 533.8 345.8 538.6 344.6 543.4 343.3 548.2 342 553 340.7 557.8 339.3 562.6 337.9 567.4 336.4 572.2 334.9 577 333.3 581.8 331.8 586.7 330.2 591.5 328.6 596.3 327 601.1 325.5 605.9 323.9 610.7 322.2 615.5 320.6L619.4 318.8M91.8 417.7 96.6 416.5 101.4 415.5 106.2 414.6 111 413.7 115.8 413 120.6 412.4 125.4 411.8 130.2 411.4 135 411 139.8 410.6 144.6 410.3 149.4 410.1 154.2 409.9 159 409.7 163.8 409.6 168.6 409.5 173.5 409.4 178.3 409.3 183.1 409.2 187.9 409.2 192.7 409.1 197.5 409 202.3 408.9 207.1 408.8 211.9 408.7 216.7 408.6 221.5 408.5 226.3 408.3 231.1 408.2 235.9 408.1 240.7 407.9 245.5 407.7 250.3 407.5 255.1 407.2 259.9 406.9 264.7 406.5 269.5 406.2 274.4 405.8 279.2 405.3 284 404.9 288.8 404.4 293.6 403.8 298.4 403.3 303.2 402.7 308 402 312.8 401.4 317.6 400.7 322.4 400 327.2 399.2 332 398.4 336.8 397.6 341.6 396.7 346.4 395.9 351.2 395 356 394.1 360.8 393.1 365.6 392.1 370.5 391.1 375.3 390.1 380.1 389.1 384.9 388 389.7 386.9 394.5 385.8 399.3 384.6 404.1 383.5 408.9 382.3 413.7 381.1 418.5 379.8 423.3 378.6 428.1 377.4 432.9 376.1 437.7 374.9 442.5 373.6 447.3 372.3 452.1 371.1 456.9 369.8 461.7 368.5 466.5 367.2 471.4 365.9 476.2 364.6 481 363.3 485.8 362 490.6 360.7 495.4 359.4 500.2 358.2 505 356.9 509.8 355.6 514.6 354.3 519.4 353 524.2 351.7 529 350.4 533.8 349.1 538.6 347.7 543.4 346.4 548.2 345 553 343.6 557.8 342.1 562.6 340.5 567.5 338.9 572.3 337.3 577.1 335.7 581.9 334 586.7 332.3 591.5 330.7 596.3 329 601.1 327.3 605.9 325.6 610.7 323.9 615.5 322.2L620 319.9M92.1 422.6 96.9 421.5 101.7 420.5 106.5 419.5 111.3 418.8 116.1 418 120.9 417.4 125.7 416.9 130.5 416.5 135.3 416.1 140.1 415.7 144.9 415.5 149.7 415.2 154.5 415 159.3 414.9 164.1 414.7 168.9 414.6 173.7 414.6 178.5 414.5 183.3 414.4 188.1 414.4 192.9 414.2 197.7 414.1 202.6 414 207.4 413.9 212.2 413.8 217 413.7 221.8 413.6 226.6 413.5 231.4 413.4 236.2 413.2 241 413.1 245.8 412.9 250.6 412.6 255.4 412.3 260.2 412 265 411.7 269.8 411.3 274.6 410.9 279.4 410.4 284.2 410 289 409.4 293.8 408.9 298.6 408.3 303.4 407.7 308.2 407.1 313 406.4 317.8 405.7 322.6 405 327.4 404.2 332.2 403.4 337 402.6 341.8 401.7 346.6 400.8 351.4 399.9 356.2 399 361 398 365.8 397 370.6 396 375.4 395 380.2 393.9 385 392.8 389.8 391.7 394.6 390.5 399.4 389.3 404.2 388.1 409 386.8 413.8 385.5 418.6 384.2 423.4 382.9 428.2 381.6 433 380.3 437.8 379 442.6 377.7 447.4 376.3 452.2 375 457 373.6 461.8 372.3 466.6 370.9 471.4 369.6 476.2 368.2 481.1 366.9 485.9 365.5 490.7 364.2 495.5 362.8 500.3 361.4 505.1 360.1 509.9 358.8 514.7 357.4 519.5 356 524.3 354.7 529.1 353.3 533.9 351.9 538.7 350.5 543.5 349.1 548.3 347.6 553.1 346.1 557.9 344.6 562.7 342.9 567.5 341.3 572.3 339.6 577.1 337.9 581.9 336.1 586.7 334.4 591.5 332.6 596.3 330.9 601.1 329.1 605.9 327.3 610.7 325.5 615.5 323.7L620.6 321.1M92.5 427.5 97.3 426.4 102 425.4 106.8 424.5 111.6 423.8 116.4 423.1 121.2 422.5 126 422 130.8 421.5 135.6 421.2 140.4 420.8 145.2 420.6 150 420.4 154.8 420.2 159.6 420 164.4 419.9 169.2 419.8 174 419.7 178.8 419.7 183.6 419.6 188.4 419.5 193.2 419.4 198 419.3 202.8 419.2 207.6 419.1 212.4 419 217.2 418.9 222 418.7 226.8 418.6 231.6 418.5 236.4 418.4 241.2 418.2 246 418 250.8 417.7 255.6 417.4 260.4 417.1 265.2 416.8 270 416.4 274.8 416 279.6 415.5 284.4 415 289.2 414.5 294 413.9 298.8 413.4 303.6 412.7 308.4 412.1 313.2 411.4 318 410.7 322.8 409.9 327.6 409.1 332.4 408.3 337.2 407.5 342 406.6 346.8 405.7 351.6 404.8 356.4 403.8 361.2 402.8 366 401.8 370.8 400.7 375.6 399.7 380.4 398.5 385.2 397.4 390 396.2 394.8 394.9 399.6 393.6 404.4 392.3 409.2 391 414 389.6 418.8 388.2 423.6 386.8 428.4 385.4 433.2 384 438 382.6 442.8 381.2 447.5 379.8 452.3 378.4 457.1 377.1 461.9 375.7 466.7 374.3 471.5 372.8 476.3 371.4 481.1 370 485.9 368.6 490.7 367.2 495.5 365.8 500.3 364.4 505.1 363 509.9 361.6 514.7 360.2 519.5 358.8 524.3 357.4 529.1 356 533.9 354.5 538.7 353.1 543.5 351.6 548.3 350.1 553.1 348.5 557.9 346.9 562.7 345.2 567.5 343.5 572.3 341.7 577.1 339.9 581.9 338.1 586.7 336.3 591.5 334.5 596.3 332.7 601.1 330.9 605.9 329 610.7 327.1 615.5 325.2L621.3 322.2M92.8 432.5 97.6 431.4 102.4 430.4 107.2 429.5 112 428.8 116.8 428.1 121.6 427.5 126.4 427 131.2 426.6 136 426.2 140.7 425.9 145.5 425.7 150.3 425.5 155.1 425.3 159.9 425.2 164.7 425.1 169.5 425 174.3 424.9 179.1 424.8 183.9 424.8 188.7 424.7 193.5 424.6 198.3 424.4 203.1 424.3 207.9 424.2 212.7 424.1 217.5 424 222.3 423.8 227.1 423.7 231.9 423.6 236.7 423.5 241.5 423.3 246.2 423.1 251 422.8 255.8 422.5 260.6 422.1 265.4 421.8 270.2 421.4 275 420.9 279.8 420.5 284.6 420 289.4 419.4 294.2 418.9 299 418.3 303.8 417.6 308.6 416.9 313.4 416.2 318.2 415.5 323 414.7 327.8 413.9 332.6 413.1 337.4 412.2 342.2 411.3 347 410.3 351.7 409.4 356.5 408.4 361.3 407.3 366.1 406.3 370.9 405.2 375.7 404 380.5 402.8 385.3 401.6 390.1 400.3 394.9 398.9 399.7 397.5 404.5 396.1 409.3 394.6 414.1 393.1 418.9 391.6 423.7 390.2 428.5 388.7 433.3 387.3 438.1 385.9 442.9 384.4 447.7 383 452.5 381.6 457.2 380.2 462 378.7 466.8 377.3 471.6 375.9 476.4 374.4 481.2 373 486 371.6 490.8 370.1 495.6 368.7 500.4 367.3 505.2 365.8 510 364.4 514.8 363 519.6 361.5 524.4 360.1 529.2 358.6 534 357.1 538.8 355.6 543.6 354 548.4 352.5 553.2 350.8 558 349.2 562.7 347.4 567.5 345.7 572.3 343.8 577.1 342 581.9 340.1 586.7 338.3 591.5 336.4 596.3 334.5 601.1 332.6 605.9 330.7 610.7 328.7 615.5 326.7L622 323.3M93.1 437.4 97.9 436.3 102.7 435.4 107.5 434.5 112.3 433.8 117.1 433.1 121.9 432.6 126.7 432.1 131.5 431.7 136.3 431.3 141.1 431 145.9 430.8 150.6 430.6 155.4 430.4 160.2 430.3 165 430.2 169.8 430.1 174.6 430 179.4 429.9 184.2 429.9 189 429.8 193.8 429.6 198.6 429.5 203.4 429.3 208.2 429.2 212.9 429.1 217.7 428.9 222.5 428.8 227.3 428.7 232.1 428.5 236.9 428.4 241.7 428.3 246.5 428 251.3 427.7 256.1 427.4 260.9 427 265.7 426.6 270.5 426.2 275.2 425.7 280 425.2 284.8 424.7 289.6 424.1 294.4 423.5 299.2 422.9 304 422.2 308.8 421.5 313.6 420.7 318.4 420 323.2 419.1 328 418.3 332.8 417.4 337.5 416.5 342.3 415.5 347.1 414.5 351.9 413.5 356.7 412.4 361.5 411.3 366.3 410.2 371.1 409 375.9 407.8 380.7 406.5 385.5 405.1 390.3 403.7 395.1 402.3 399.8 400.8 404.6 399.3 409.4 397.7 414.2 396.2 419 394.7 423.8 393.2 428.6 391.7 433.4 390.3 438.2 388.8 443 387.4 447.8 386 452.6 384.5 457.4 383.1 462.1 381.6 466.9 380.2 471.7 378.8 476.5 377.3 481.3 375.9 486.1 374.4 490.9 373 495.7 371.5 500.5 370 505.3 368.6 510.1 367.1 514.9 365.6 519.7 364.1 524.4 362.6 529.2 361.1 534 359.6 538.8 358 543.6 356.4 548.4 354.8 553.2 353.1 558 351.4 562.8 349.6 567.6 347.8 572.4 345.9 577.2 344 582 342.1 586.7 340.2 591.5 338.2 596.3 336.3 601.1 334.3 605.9 332.3 610.7 330.3 615.5 328.2L622.8 324.4M93.5 442.3 98.3 441.2 103.1 440.3 107.8 439.5 112.6 438.7 117.4 438.1 122.2 437.6 127 437.1 131.8 436.7 136.6 436.3 141.4 436.1 146.2 435.8 150.9 435.6 155.7 435.4 160.5 435.3 165.3 435.2 170.1 435.1 174.9 435 179.7 434.9 184.5 434.8 189.3 434.7 194.1 434.5 198.8 434.4 203.6 434.2 208.4 434 213.2 433.9 218 433.7 222.8 433.5 227.6 433.4 232.4 433.2 237.2 433 241.9 432.8 246.7 432.5 251.5 432.2 256.3 431.8 261.1 431.4 265.9 431 270.7 430.5 275.5 430 280.3 429.5 285 428.9 289.8 428.3 294.6 427.6 299.4 426.9 304.2 426.2 309 425.4 313.8 424.6 318.6 423.8 323.4 422.9 328.1 422 332.9 421 337.7 420 342.5 419 347.3 418 352.1 416.9 356.9 415.8 361.7 414.6 366.5 413.4 371.3 412.2 376 410.9 380.8 409.5 385.6 408.1 390.4 406.7 395.2 405.1 400 403.6 404.8 402.1 409.6 400.5 414.4 399 419.1 397.5 423.9 396 428.7 394.6 433.5 393.1 438.3 391.7 443.1 390.3 447.9 388.8 452.7 387.4 457.5 386 462.2 384.5 467 383.1 471.8 381.6 476.6 380.2 481.4 378.7 486.2 377.2 491 375.7 495.8 374.3 500.6 372.8 505.3 371.3 510.1 369.8 514.9 368.3 519.7 366.7 524.5 365.2 529.3 363.6 534.1 362 538.9 360.4 543.7 358.8 548.5 357.1 553.2 355.4 558 353.6 562.8 351.8 567.6 349.9 572.4 348 577.2 346.1 582 344.1 586.8 342.1 591.6 340.1 596.3 338.1 601.1 336 605.9 334 610.7 331.9 615.5 329.7L623.5 325.5M93.8 447.2 98.6 446.1 103.4 445.2 108.2 444.4 113 443.7 117.8 443 122.5 442.5 127.3 442 132.1 441.6 136.9 441.2 141.7 440.9 146.5 440.7 151.3 440.5 156 440.3 160.8 440.1 165.6 440 170.4 439.8 175.2 439.7 180 439.6 184.8 439.4 189.5 439.3 194.3 439 199.1 438.8 203.9 438.6 208.7 438.3 213.5 438.1 218.3 437.9 223 437.7 227.8 437.5 232.6 437.2 237.4 437 242.2 436.7 247 436.4 251.8 436 256.5 435.5 261.3 435.1 266.1 434.6 270.9 434 275.7 433.5 280.5 432.9 285.3 432.2 290 431.5 294.8 430.8 299.6 430.1 304.4 429.3 309.2 428.5 314 427.6 318.8 426.7 323.6 425.8 328.3 424.9 333.1 423.9 337.9 422.8 342.7 421.8 347.5 420.7 352.3 419.6 357.1 418.4 361.8 417.2 366.6 416 371.4 414.8 376.2 413.5 381 412.1 385.8 410.7 390.6 409.2 395.3 407.8 400.1 406.2 404.9 404.7 409.7 403.2 414.5 401.7 419.3 400.2 424.1 398.8 428.8 397.3 433.6 395.9 438.4 394.5 443.2 393.1 448 391.7 452.8 390.2 457.6 388.8 462.3 387.4 467.1 385.9 471.9 384.4 476.7 383 481.5 381.5 486.3 380 491.1 378.5 495.8 377 500.6 375.5 505.4 374 510.2 372.4 515 370.9 519.8 369.3 524.6 367.7 529.4 366.1 534.1 364.5 538.9 362.8 543.7 361.2 548.5 359.4 553.3 357.7 558.1 355.9 562.9 354 567.6 352 572.4 350.1 577.2 348.1 582 346.1 586.8 344 591.6 342 596.4 339.9 601.1 337.8 605.9 335.6 610.7 333.5 615.5 331.2L624.3 326.6M94.2 451.9 98.9 450.9 103.7 449.9 108.5 449.1 113.3 448.4 118.1 447.7 122.9 447.2 127.6 446.7 132.4 446.2 137.2 445.8 142 445.5 146.8 445.2 151.6 444.9 156.3 444.7 161.1 444.4 165.9 444.2 170.7 444 175.5 443.8 180.3 443.6 185 443.4 189.8 443.2 194.6 442.8 199.4 442.5 204.2 442.2 209 441.9 213.7 441.5 218.5 441.2 223.3 440.9 228.1 440.6 232.9 440.3 237.7 440 242.4 439.7 247.2 439.2 252 438.8 256.8 438.3 261.6 437.7 266.3 437.2 271.1 436.6 275.9 436 280.7 435.3 285.5 434.6 290.3 433.9 295 433.2 299.8 432.4 304.6 431.6 309.4 430.8 314.2 429.9 319 429 323.7 428.1 328.5 427.1 333.3 426.1 338.1 425.1 342.9 424 347.7 422.9 352.4 421.8 357.2 420.7 362 419.5 366.8 418.3 371.6 417.1 376.4 415.9 381.1 414.5 385.9 413.1 390.7 411.7 395.5 410.2 400.3 408.8 405.1 407.3 409.8 405.8 414.6 404.4 419.4 402.9 424.2 401.5 429 400.1 433.7 398.7 438.5 397.3 443.3 395.9 448.1 394.5 452.9 393.1 457.7 391.6 462.4 390.2 467.2 388.7 472 387.3 476.8 385.8 481.6 384.3 486.4 382.8 491.1 381.3 495.9 379.8 500.7 378.2 505.5 376.7 510.3 375.1 515.1 373.5 519.8 371.9 524.6 370.3 529.4 368.6 534.2 367 539 365.3 543.8 363.5 548.5 361.8 553.3 359.9 558.1 358.1 562.9 356.1 567.7 354.2 572.5 352.2 577.2 350.1 582 348 586.8 345.9 591.6 343.8 596.4 341.7 601.2 339.5 605.9 337.3 610.7 335 615.5 332.7L625.1 327.6M94.5 456.4 99.3 455.4 104.1 454.4 108.8 453.6 113.6 452.8 118.4 452.1 123.2 451.4 128 450.9 132.7 450.4 137.5 449.9 142.3 449.5 147.1 449.1 151.9 448.7 156.6 448.4 161.4 448 166.2 447.7 171 447.4 175.8 447.1 180.5 446.8 185.3 446.4 190.1 446.1 194.9 445.6 199.7 445.2 204.4 444.8 209.2 444.4 214 444 218.8 443.6 223.6 443.2 228.3 442.9 233.1 442.5 237.9 442.1 242.7 441.7 247.5 441.2 252.2 440.7 257 440.2 261.8 439.6 266.6 439 271.4 438.4 276.1 437.8 280.9 437.1 285.7 436.4 290.5 435.7 295.3 435 300 434.2 304.8 433.4 309.6 432.6 314.4 431.7 319.2 430.8 323.9 429.9 328.7 429 333.5 428 338.3 427 343.1 426 347.8 424.9 352.6 423.9 357.4 422.8 362.2 421.6 367 420.5 371.7 419.3 376.5 418.1 381.3 416.8 386.1 415.5 390.9 414.1 395.6 412.7 400.4 411.3 405.2 409.9 410 408.5 414.7 407 419.5 405.6 424.3 404.2 429.1 402.9 433.9 401.5 438.6 400.1 443.4 398.7 448.2 397.3 453 395.9 457.8 394.5 462.5 393 467.3 391.6 472.1 390.1 476.9 388.6 481.7 387.1 486.4 385.6 491.2 384 496 382.5 500.8 380.9 505.6 379.4 510.3 377.8 515.1 376.1 519.9 374.5 524.7 372.8 529.5 371.1 534.2 369.4 539 367.7 543.8 365.9 548.6 364.1 553.4 362.2 558.1 360.3 562.9 358.3 567.7 356.3 572.5 354.2 577.3 352.1 582 350 586.8 347.9 591.6 345.7 596.4 343.5 601.2 341.2 605.9 338.9 610.7 336.6 615.5 334.2L626.1 328.6M94.8 460.6 99.6 459.4 104.4 458.4 109.2 457.5 114 456.6 118.7 455.8 123.5 455.1 128.3 454.4 133.1 453.8 137.8 453.2 142.6 452.7 147.4 452.2 152.2 451.7 156.9 451.2 161.7 450.8 166.5 450.3 171.3 449.9 176.1 449.5 180.8 449.1 185.6 448.6 190.4 448.2 195.2 447.7 199.9 447.2 204.7 446.7 209.5 446.2 214.3 445.8 219 445.3 223.8 444.9 228.6 444.5 233.4 444.1 238.1 443.7 242.9 443.2 247.7 442.7 252.5 442.2 257.3 441.6 262 441 266.8 440.5 271.6 439.8 276.4 439.2 281.1 438.6 285.9 437.9 290.7 437.2 295.5 436.5 300.2 435.7 305 434.9 309.8 434.1 314.6 433.3 319.3 432.5 324.1 431.6 328.9 430.7 333.7 429.8 338.5 428.8 343.2 427.8 348 426.8 352.8 425.8 357.6 424.8 362.3 423.7 367.1 422.6 371.9 421.5 376.7 420.3 381.4 419 386.2 417.8 391 416.5 395.8 415.1 400.6 413.8 405.3 412.4 410.1 411 414.9 409.7 419.7 408.3 424.4 407 429.2 405.6 434 404.3 438.8 402.9 443.5 401.5 448.3 400.1 453.1 398.7 457.9 397.3 462.6 395.8 467.4 394.4 472.2 392.9 477 391.4 481.8 389.9 486.5 388.4 491.3 386.8 496.1 385.2 500.9 383.7 505.6 382 510.4 380.4 515.2 378.8 520 377.1 524.7 375.4 529.5 373.6 534.3 371.9 539.1 370.1 543.9 368.2 548.6 366.4 553.4 364.5 558.2 362.5 563 360.5 567.7 358.4 572.5 356.3 577.3 354.2 582.1 352 586.8 349.8 591.6 347.5 596.4 345.3 601.2 342.9 605.9 340.6 610.7 338.2 615.5 335.7L627 329.5M95.2 464.2 100 463 104.7 461.9 109.5 460.8 114.3 459.9 119.1 459 123.8 458.1 128.6 457.3 133.4 456.6 138.2 455.9 142.9 455.2 147.7 454.6 152.5 454 157.2 453.5 162 452.9 166.8 452.4 171.6 451.9 176.3 451.3 181.1 450.8 185.9 450.3 190.7 449.8 195.4 449.3 200.2 448.7 205 448.2 209.8 447.7 214.5 447.2 219.3 446.7 224.1 446.2 228.8 445.8 233.6 445.3 238.4 444.9 243.2 444.4 247.9 443.9 252.7 443.4 257.5 442.8 262.3 442.3 267 441.7 271.8 441.1 276.6 440.5 281.4 439.9 286.1 439.2 290.9 438.5 295.7 437.8 300.4 437.1 305.2 436.4 310 435.6 314.8 434.9 319.5 434 324.3 433.2 329.1 432.4 333.9 431.5 338.6 430.6 343.4 429.7 348.2 428.7 353 427.7 357.7 426.7 362.5 425.7 367.3 424.7 372.1 423.6 376.8 422.5 381.6 421.3 386.4 420.1 391.1 418.8 395.9 417.6 400.7 416.3 405.5 415 410.2 413.6 415 412.3 419.8 411 424.6 409.7 429.3 408.4 434.1 407 438.9 405.7 443.7 404.3 448.4 402.9 453.2 401.5 458 400.1 462.7 398.7 467.5 397.2 472.3 395.7 477.1 394.2 481.8 392.7 486.6 391.1 491.4 389.6 496.2 388 500.9 386.4 505.7 384.7 510.5 383.1 515.3 381.4 520 379.7 524.8 377.9 529.6 376.1 534.4 374.3 539.1 372.5 543.9 370.6 548.7 368.7 553.4 366.7 558.2 364.7 563 362.7 567.8 360.5 572.5 358.4 577.3 356.2 582.1 354 586.9 351.7 591.6 349.4 596.4 347 601.2 344.7 606 342.2 610.7 339.8 615.5 337.2L627.9 330.4M95.5 467.4 100.3 466.1 105.1 464.9 109.8 463.8 114.6 462.7 119.4 461.7 124.2 460.8 128.9 459.9 133.7 459 138.5 458.2 143.2 457.5 148 456.7 152.8 456 157.5 455.4 162.3 454.7 167.1 454.1 171.9 453.5 176.6 452.9 181.4 452.4 186.2 451.8 190.9 451.2 195.7 450.6 200.5 450.1 205.2 449.5 210 449 214.8 448.4 219.6 447.9 224.3 447.5 229.1 447 233.9 446.5 238.6 446 243.4 445.6 248.2 445 253 444.5 257.7 444 262.5 443.4 267.3 442.9 272 442.3 276.8 441.7 281.6 441.1 286.3 440.5 291.1 439.8 295.9 439.2 300.7 438.5 305.4 437.8 310.2 437.1 315 436.4 319.7 435.6 324.5 434.8 329.3 434 334 433.2 338.8 432.3 343.6 431.5 348.4 430.6 353.1 429.6 357.9 428.7 362.7 427.7 367.4 426.7 372.2 425.7 377 424.6 381.8 423.5 386.5 422.4 391.3 421.2 396.1 420 400.8 418.8 405.6 417.5 410.4 416.2 415.1 415 419.9 413.7 424.7 412.4 429.5 411.1 434.2 409.8 439 408.5 443.8 407.1 448.5 405.8 453.3 404.4 458.1 402.9 462.8 401.5 467.6 400 472.4 398.5 477.2 397 481.9 395.5 486.7 393.9 491.5 392.3 496.2 390.7 501 389.1 505.8 387.4 510.6 385.7 515.3 384 520.1 382.2 524.9 380.5 529.6 378.6 534.4 376.8 539.2 374.9 543.9 373 548.7 371 553.5 369 558.3 366.9 563 364.8 567.8 362.7 572.6 360.5 577.3 358.2 582.1 355.9 586.9 353.6 591.6 351.2 596.4 348.8 601.2 346.4 606 343.9 610.7 341.4 615.5 338.7L629 331.2M95.9 470.4 100.6 469.1 105.4 467.8 110.2 466.5 114.9 465.4 119.7 464.3 124.5 463.2 129.2 462.2 134 461.3 138.8 460.4 143.5 459.5 148.3 458.7 153.1 457.9 157.8 457.2 162.6 456.4 167.4 455.7 172.1 455.1 176.9 454.4 181.7 453.8 186.5 453.2 191.2 452.6 196 451.9 200.8 451.3 205.5 450.7 210.3 450.2 215.1 449.6 219.8 449.1 224.6 448.6 229.4 448.1 234.1 447.6 238.9 447.1 243.7 446.7 248.4 446.1 253.2 445.6 258 445.1 262.7 444.6 267.5 444 272.3 443.5 277 442.9 281.8 442.3 286.6 441.7 291.3 441.1 296.1 440.5 300.9 439.9 305.6 439.2 310.4 438.6 315.2 437.9 319.9 437.1 324.7 436.4 329.5 435.7 334.2 434.9 339 434.1 343.8 433.3 348.5 432.4 353.3 431.6 358.1 430.7 362.8 429.7 367.6 428.8 372.4 427.8 377.1 426.8 381.9 425.8 386.7 424.7 391.4 423.6 396.2 422.4 401 421.2 405.7 420.1 410.5 418.9 415.3 417.6 420 416.4 424.8 415.1 429.6 413.9 434.3 412.6 439.1 411.3 443.9 409.9 448.6 408.6 453.4 407.2 458.2 405.8 462.9 404.3 467.7 402.9 472.5 401.4 477.3 399.8 482 398.3 486.8 396.7 491.6 395.1 496.3 393.5 501.1 391.8 505.9 390.1 510.6 388.4 515.4 386.6 520.2 384.8 524.9 383 529.7 381.1 534.5 379.2 539.2 377.3 544 375.3 548.8 373.3 553.5 371.3 558.3 369.2 563.1 367 567.8 364.8 572.6 362.5 577.4 360.2 582.1 357.9 586.9 355.5 591.7 353.1 596.4 350.6 601.2 348.1 606 345.6 610.7 342.9 615.5 340.3L630.1 331.9M96.2 473.3 101 471.9 105.7 470.5 110.5 469.2 115.3 467.9 120 466.7 124.8 465.6 129.6 464.5 134.3 463.4 139.1 462.4 143.9 461.5 148.6 460.6 153.4 459.7 158.1 458.9 162.9 458.1 167.7 457.3 172.4 456.6 177.2 455.9 182 455.2 186.7 454.5 191.5 453.8 196.3 453.2 201 452.6 205.8 452 210.6 451.4 215.3 450.8 220.1 450.3 224.8 449.7 229.6 449.2 234.4 448.7 239.1 448.2 243.9 447.7 248.7 447.2 253.4 446.7 258.2 446.2 263 445.7 267.7 445.2 272.5 444.6 277.3 444.1 282 443.5 286.8 443 291.5 442.4 296.3 441.8 301.1 441.2 305.8 440.6 310.6 440 315.4 439.4 320.1 438.7 324.9 438 329.7 437.3 334.4 436.6 339.2 435.8 343.9 435.1 348.7 434.3 353.5 433.5 358.2 432.6 363 431.8 367.8 430.9 372.5 430 377.3 429 382.1 428 386.8 427 391.6 425.9 396.4 424.9 401.1 423.7 405.9 422.6 410.6 421.5 415.4 420.3 420.2 419.1 424.9 417.9 429.7 416.6 434.5 415.4 439.2 414.1 444 412.7 448.8 411.4 453.5 410 458.3 408.6 463 407.2 467.8 405.7 472.6 404.2 477.3 402.7 482.1 401.1 486.9 399.5 491.6 397.9 496.4 396.2 501.2 394.5 505.9 392.8 510.7 391 515.5 389.2 520.2 387.4 525 385.5 529.7 383.6 534.5 381.7 539.3 379.7 544 377.7 548.8 375.6 553.6 373.5 558.3 371.4 563.1 369.2 567.9 366.9 572.6 364.6 577.4 362.3 582.2 359.9 586.9 357.4 591.7 355 596.4 352.4 601.2 349.8 606 347.2 610.7 344.5 615.5 341.8L631.3 332.5M96.6 476.2 101.3 474.7 106.1 473.2 110.8 471.8 115.6 470.4 120.4 469.1 125.1 467.9 129.9 466.7 134.6 465.6 139.4 464.5 144.2 463.4 148.9 462.4 153.7 461.5 158.5 460.6 163.2 459.7 168 458.8 172.7 458 177.5 457.3 182.3 456.5 187 455.8 191.8 455.1 196.5 454.4 201.3 453.8 206.1 453.2 210.8 452.5 215.6 452 220.3 451.4 225.1 450.9 229.9 450.3 234.6 449.8 239.4 449.3 244.1 448.8 248.9 448.3 253.7 447.8 258.4 447.3 263.2 446.8 268 446.3 272.7 445.8 277.5 445.3 282.2 444.8 287 444.2 291.8 443.7 296.5 443.2 301.3 442.6 306 442 310.8 441.5 315.6 440.9 320.3 440.2 325.1 439.6 329.8 439 334.6 438.3 339.4 437.6 344.1 436.9 348.9 436.1 353.6 435.4 358.4 434.6 363.2 433.8 367.9 433 372.7 432.1 377.5 431.2 382.2 430.3 387 429.3 391.7 428.3 396.5 427.3 401.3 426.2 406 425.2 410.8 424.1 415.5 422.9 420.3 421.8 425.1 420.6 429.8 419.4 434.6 418.1 439.3 416.8 444.1 415.5 448.9 414.2 453.6 412.8 458.4 411.4 463.2 410 467.9 408.5 472.7 407 477.4 405.5 482.2 403.9 487 402.3 491.7 400.6 496.5 398.9 501.2 397.2 506 395.5 510.8 393.7 515.5 391.8 520.3 390 525 388.1 529.8 386.1 534.6 384.1 539.3 382.1 544.1 380.1 548.8 377.9 553.6 375.8 558.4 373.6 563.1 371.3 567.9 369 572.7 366.7 577.4 364.3 582.2 361.8 586.9 359.3 591.7 356.8 596.5 354.2 601.2 351.6 606 348.9 610.7 346.1 615.5 343.3L632.4 333.2M96.9 479 101.7 477.4 106.4 475.9 111.2 474.4 115.9 472.9 120.7 471.5 125.4 470.2 130.2 468.9 135 467.7 139.7 466.5 144.5 465.4 149.2 464.3 154 463.2 158.8 462.2 163.5 461.3 168.3 460.4 173 459.5 177.8 458.7 182.5 457.9 187.3 457.1 192.1 456.4 196.8 455.7 201.6 455 206.3 454.3 211.1 453.7 215.8 453.1 220.6 452.5 225.4 452 230.1 451.4 234.9 450.9 239.6 450.4 244.4 449.9 249.1 449.4 253.9 448.9 258.7 448.4 263.4 447.9 268.2 447.4 272.9 446.9 277.7 446.5 282.5 446 287.2 445.5 292 445 296.7 444.5 301.5 444 306.2 443.5 311 442.9 315.8 442.4 320.5 441.8 325.3 441.2 330 440.6 334.8 440 339.5 439.4 344.3 438.7 349.1 438 353.8 437.3 358.6 436.6 363.3 435.8 368.1 435 372.9 434.2 377.6 433.4 382.4 432.5 387.1 431.6 391.9 430.7 396.6 429.7 401.4 428.7 406.2 427.7 410.9 426.7 415.7 425.6 420.4 424.5 425.2 423.3 429.9 422.1 434.7 420.9 439.5 419.6 444.2 418.3 449 417 453.7 415.7 458.5 414.3 463.3 412.8 468 411.3 472.8 409.8 477.5 408.3 482.3 406.7 487 405.1 491.8 403.4 496.6 401.7 501.3 399.9 506.1 398.2 510.8 396.3 515.6 394.5 520.3 392.6 525.1 390.6 529.9 388.6 534.6 386.6 539.4 384.5 544.1 382.4 548.9 380.2 553.6 378 558.4 375.8 563.2 373.5 567.9 371.1 572.7 368.8 577.4 366.3 582.2 363.8 587 361.3 591.7 358.7 596.5 356 601.2 353.3 606 350.5 610.7 347.7 615.5 344.8L633.6 333.8" fill="none" stroke="#000" stroke-width="2.05" stroke-linejoin="round"/><path d="M108.6 298.8 111.6 297.3 114.7 295.7 117.7 294.1 120.7 292.5 123.8 290.9 126.8 289.4 129.9 287.8 132.9 286.2 135.9 284.6 139 283 142 281.5 142 312.7 140 314.2 137.5 314.9 135 315.5 132.5 316.2 130 316.8 127.5 317.5 125.2 319.4 123.6 313 120.5 306.5 115.5 301.5 108.6 298.8Z" fill="#000"/><path d="M634 332.8 630.9 334.9 627.8 336.9 624.7 338.9 621.6 340.9 618.5 342.9 615.5 344.8 612.4 346.7 609.3 348.6 606.2 350.4 603.1 352.2 600 354 600 320.3 602 318.8 604.7 318.2 607.4 317.5 610.1 316.8 612.8 316.1 615.5 315.4 617.6 315.2 620.5 321 624.5 327 628.5 331 633.6 333.8Z" fill="#000"/><line x1="146.0" y1="317.9" x2="453" y2="317.9" stroke="#2a2a2a" stroke-width="3" stroke-dasharray="5 17.6"/><line x1="134.2" y1="317.9" x2="453" y2="317.9" stroke="#8a8a8a" stroke-width="2.6" stroke-dasharray="1.8 20.8"/><text x="300.5" y="304.2" font-family="Liberation Sans" font-style="italic" font-size="19.5" fill="#3a3a3a" stroke="#3a3a3a" stroke-width="0.7" textLength="139" lengthAdjust="spacingAndGlyphs">θ = 13.88 deg.</text><g><path d="M97.3 334C95.1 344 98.4 351.5 96.2 361.5M101.4 330.5C99.2 340.5 101.9 350.6 99.7 360.6M105.5 330.5C103.3 340.5 105.4 349.7 103.2 359.7M109.6 330.5C107.4 340.5 108.9 348.8 106.7 358.8M113.7 330.5C111.5 340.5 112.4 347.9 110.2 357.9M117.8 330.5C115.6 340.5 115.9 347 113.7 357M121.9 330.5C119.7 340.5 119.4 346.1 117.2 356.1" fill="none" stroke="#ff2020" stroke-width="2.0"/><path d="M99 360.8Q104 359 108.5 357.8Q101.5 364 97.2 372.6Q97.4 365.5 99 360.8Z" fill="#ff1818" stroke="#ff1818" stroke-width="1" stroke-linejoin="round"/></g><g transform="rotate(180 371.55 315.6)"><path d="M97.3 334C95.1 344 98.4 351.5 96.2 361.5M101.4 330.5C99.2 340.5 101.9 350.6 99.7 360.6M105.5 330.5C103.3 340.5 105.4 349.7 103.2 359.7M109.6 330.5C107.4 340.5 108.9 348.8 106.7 358.8M113.7 330.5C111.5 340.5 112.4 347.9 110.2 357.9M117.8 330.5C115.6 340.5 115.9 347 113.7 357M121.9 330.5C119.7 340.5 119.4 346.1 117.2 356.1" fill="none" stroke="#ff2020" stroke-width="2.0"/><path d="M99 360.8Q104 359 108.5 357.8Q101.5 364 97.2 372.6Q97.4 365.5 99 360.8Z" fill="#ff1818" stroke="#ff1818" stroke-width="1" stroke-linejoin="round"/></g><path d="M72 303.2H109.1A12.3 12.3 0 0 1 109.1 327.8H72Z" fill="#fff" stroke="#0000ff" stroke-width="2.7"/><path d="M672.6 302.8H634.7A12.5 12.5 0 0 0 634.7 327.8H672.6Z" fill="#fff" stroke="#0000ff" stroke-width="2.7"/><rect x="71.8" y="15.2" width="600.8" height="601.1" fill="none" stroke="#000" stroke-width="2.0"/><path d="M80.1 616.3L81.8 611.7L83.5 616.3ZM80.1 15.2L81.8 19.8L83.5 15.2ZM71.8 23.5L76.4 25.2L71.8 26.9ZM672.6 23.5L668 25.2L672.6 26.9ZM90.1 616.3L91.8 611.7L93.5 616.3ZM90.1 15.2L91.8 19.8L93.5 15.2ZM71.8 33.5L76.4 35.2L71.8 36.9ZM672.6 33.5L668 35.2L672.6 36.9ZM100.1 616.3L101.8 611.7L103.5 616.3ZM100.1 15.2L101.8 19.8L103.5 15.2ZM71.8 43.6L76.4 45.3L71.8 47ZM672.6 43.6L668 45.3L672.6 47ZM110.2 616.3L111.9 611.7L113.6 616.3ZM110.2 15.2L111.9 19.8L113.6 15.2ZM71.8 53.6L76.4 55.3L71.8 57ZM672.6 53.6L668 55.3L672.6 57ZM120.2 616.3L121.9 611.7L123.6 616.3ZM120.2 15.2L121.9 19.8L123.6 15.2ZM71.8 63.6L76.4 65.3L71.8 67ZM672.6 63.6L668 65.3L672.6 67ZM130.2 616.3L131.9 611.7L133.6 616.3ZM130.2 15.2L131.9 19.8L133.6 15.2ZM71.8 73.6L76.4 75.3L71.8 77ZM672.6 73.6L668 75.3L672.6 77ZM140.2 616.3L141.9 611.7L143.6 616.3ZM140.2 15.2L141.9 19.8L143.6 15.2ZM71.8 83.6L76.4 85.3L71.8 87ZM672.6 83.6L668 85.3L672.6 87ZM150.2 616.3L151.9 611.7L153.6 616.3ZM150.2 15.2L151.9 19.8L153.6 15.2ZM71.8 93.6L76.4 95.3L71.8 97ZM672.6 93.6L668 95.3L672.6 97ZM160.2 616.3L161.9 611.7L163.6 616.3ZM160.2 15.2L161.9 19.8L163.6 15.2ZM71.8 103.7L76.4 105.4L71.8 107.1ZM672.6 103.7L668 105.4L672.6 107.1ZM180.2 616.3L181.9 611.7L183.6 616.3ZM180.2 15.2L181.9 19.8L183.6 15.2ZM71.8 123.7L76.4 125.4L71.8 127.1ZM672.6 123.7L668 125.4L672.6 127.1ZM190.3 616.3L192 611.7L193.7 616.3ZM190.3 15.2L192 19.8L193.7 15.2ZM71.8 133.7L76.4 135.4L71.8 137.1ZM672.6 133.7L668 135.4L672.6 137.1ZM200.3 616.3L202 611.7L203.7 616.3ZM200.3 15.2L202 19.8L203.7 15.2ZM71.8 143.7L76.4 145.4L71.8 147.1ZM672.6 143.7L668 145.4L672.6 147.1ZM210.3 616.3L212 611.7L213.7 616.3ZM210.3 15.2L212 19.8L213.7 15.2ZM71.8 153.8L76.4 155.5L71.8 157.2ZM672.6 153.8L668 155.5L672.6 157.2ZM220.3 616.3L222 611.7L223.7 616.3ZM220.3 15.2L222 19.8L223.7 15.2ZM71.8 163.8L76.4 165.5L71.8 167.2ZM672.6 163.8L668 165.5L672.6 167.2ZM230.3 616.3L232 611.7L233.7 616.3ZM230.3 15.2L232 19.8L233.7 15.2ZM71.8 173.8L76.4 175.5L71.8 177.2ZM672.6 173.8L668 175.5L672.6 177.2ZM240.3 616.3L242 611.7L243.7 616.3ZM240.3 15.2L242 19.8L243.7 15.2ZM71.8 183.8L76.4 185.5L71.8 187.2ZM672.6 183.8L668 185.5L672.6 187.2ZM250.3 616.3L252 611.7L253.7 616.3ZM250.3 15.2L252 19.8L253.7 15.2ZM71.8 193.8L76.4 195.5L71.8 197.2ZM672.6 193.8L668 195.5L672.6 197.2ZM260.4 616.3L262.1 611.7L263.8 616.3ZM260.4 15.2L262.1 19.8L263.8 15.2ZM71.8 203.8L76.4 205.5L71.8 207.2ZM672.6 203.8L668 205.5L672.6 207.2ZM280.4 616.3L282.1 611.7L283.8 616.3ZM280.4 15.2L282.1 19.8L283.8 15.2ZM71.8 223.9L76.4 225.6L71.8 227.3ZM672.6 223.9L668 225.6L672.6 227.3ZM290.4 616.3L292.1 611.7L293.8 616.3ZM290.4 15.2L292.1 19.8L293.8 15.2ZM71.8 233.9L76.4 235.6L71.8 237.3ZM672.6 233.9L668 235.6L672.6 237.3ZM300.4 616.3L302.1 611.7L303.8 616.3ZM300.4 15.2L302.1 19.8L303.8 15.2ZM71.8 243.9L76.4 245.6L71.8 247.3ZM672.6 243.9L668 245.6L672.6 247.3ZM310.4 616.3L312.1 611.7L313.8 616.3ZM310.4 15.2L312.1 19.8L313.8 15.2ZM71.8 253.9L76.4 255.6L71.8 257.3ZM672.6 253.9L668 255.6L672.6 257.3ZM320.4 616.3L322.1 611.7L323.8 616.3ZM320.4 15.2L322.1 19.8L323.8 15.2ZM71.8 264L76.4 265.7L71.8 267.4ZM672.6 264L668 265.7L672.6 267.4ZM330.4 616.3L332.1 611.7L333.8 616.3ZM330.4 15.2L332.1 19.8L333.8 15.2ZM71.8 274L76.4 275.7L71.8 277.4ZM672.6 274L668 275.7L672.6 277.4ZM340.5 616.3L342.2 611.7L343.9 616.3ZM340.5 15.2L342.2 19.8L343.9 15.2ZM71.8 284L76.4 285.7L71.8 287.4ZM672.6 284L668 285.7L672.6 287.4ZM350.5 616.3L352.2 611.7L353.9 616.3ZM350.5 15.2L352.2 19.8L353.9 15.2ZM71.8 294L76.4 295.7L71.8 297.4ZM672.6 294L668 295.7L672.6 297.4ZM360.5 616.3L362.2 611.7L363.9 616.3ZM360.5 15.2L362.2 19.8L363.9 15.2ZM71.8 304L76.4 305.7L71.8 307.4ZM672.6 304L668 305.7L672.6 307.4ZM380.5 616.3L382.2 611.7L383.9 616.3ZM380.5 15.2L382.2 19.8L383.9 15.2ZM71.8 324.1L76.4 325.8L71.8 327.5ZM672.6 324.1L668 325.8L672.6 327.5ZM390.5 616.3L392.2 611.7L393.9 616.3ZM390.5 15.2L392.2 19.8L393.9 15.2ZM71.8 334.1L76.4 335.8L71.8 337.5ZM672.6 334.1L668 335.8L672.6 337.5ZM400.5 616.3L402.2 611.7L403.9 616.3ZM400.5 15.2L402.2 19.8L403.9 15.2ZM71.8 344.1L76.4 345.8L71.8 347.5ZM672.6 344.1L668 345.8L672.6 347.5ZM410.6 616.3L412.3 611.7L414 616.3ZM410.6 15.2L412.3 19.8L414 15.2ZM71.8 354.1L76.4 355.8L71.8 357.5ZM672.6 354.1L668 355.8L672.6 357.5ZM420.6 616.3L422.3 611.7L424 616.3ZM420.6 15.2L422.3 19.8L424 15.2ZM71.8 364.1L76.4 365.8L71.8 367.5ZM672.6 364.1L668 365.8L672.6 367.5ZM430.6 616.3L432.3 611.7L434 616.3ZM430.6 15.2L432.3 19.8L434 15.2ZM71.8 374.2L76.4 375.9L71.8 377.6ZM672.6 374.2L668 375.9L672.6 377.6ZM440.6 616.3L442.3 611.7L444 616.3ZM440.6 15.2L442.3 19.8L444 15.2ZM71.8 384.2L76.4 385.9L71.8 387.6ZM672.6 384.2L668 385.9L672.6 387.6ZM450.6 616.3L452.3 611.7L454 616.3ZM450.6 15.2L452.3 19.8L454 15.2ZM71.8 394.2L76.4 395.9L71.8 397.6ZM672.6 394.2L668 395.9L672.6 397.6ZM460.6 616.3L462.3 611.7L464 616.3ZM460.6 15.2L462.3 19.8L464 15.2ZM71.8 404.2L76.4 405.9L71.8 407.6ZM672.6 404.2L668 405.9L672.6 407.6ZM480.6 616.3L482.3 611.7L484 616.3ZM480.6 15.2L482.3 19.8L484 15.2ZM71.8 424.3L76.4 426L71.8 427.7ZM672.6 424.3L668 426L672.6 427.7ZM490.7 616.3L492.4 611.7L494.1 616.3ZM490.7 15.2L492.4 19.8L494.1 15.2ZM71.8 434.3L76.4 436L71.8 437.7ZM672.6 434.3L668 436L672.6 437.7ZM500.7 616.3L502.4 611.7L504.1 616.3ZM500.7 15.2L502.4 19.8L504.1 15.2ZM71.8 444.3L76.4 446L71.8 447.7ZM672.6 444.3L668 446L672.6 447.7ZM510.7 616.3L512.4 611.7L514.1 616.3ZM510.7 15.2L512.4 19.8L514.1 15.2ZM71.8 454.3L76.4 456L71.8 457.7ZM672.6 454.3L668 456L672.6 457.7ZM520.7 616.3L522.4 611.7L524.1 616.3ZM520.7 15.2L522.4 19.8L524.1 15.2ZM71.8 464.3L76.4 466L71.8 467.7ZM672.6 464.3L668 466L672.6 467.7ZM530.7 616.3L532.4 611.7L534.1 616.3ZM530.7 15.2L532.4 19.8L534.1 15.2ZM71.8 474.3L76.4 476L71.8 477.7ZM672.6 474.3L668 476L672.6 477.7ZM540.7 616.3L542.4 611.7L544.1 616.3ZM540.7 15.2L542.4 19.8L544.1 15.2ZM71.8 484.4L76.4 486.1L71.8 487.8ZM672.6 484.4L668 486.1L672.6 487.8ZM550.7 616.3L552.4 611.7L554.1 616.3ZM550.7 15.2L552.4 19.8L554.1 15.2ZM71.8 494.4L76.4 496.1L71.8 497.8ZM672.6 494.4L668 496.1L672.6 497.8ZM560.8 616.3L562.5 611.7L564.2 616.3ZM560.8 15.2L562.5 19.8L564.2 15.2ZM71.8 504.4L76.4 506.1L71.8 507.8ZM672.6 504.4L668 506.1L672.6 507.8ZM580.8 616.3L582.5 611.7L584.2 616.3ZM580.8 15.2L582.5 19.8L584.2 15.2ZM71.8 524.4L76.4 526.1L71.8 527.8ZM672.6 524.4L668 526.1L672.6 527.8ZM590.8 616.3L592.5 611.7L594.2 616.3ZM590.8 15.2L592.5 19.8L594.2 15.2ZM71.8 534.5L76.4 536.2L71.8 537.9ZM672.6 534.5L668 536.2L672.6 537.9ZM600.8 616.3L602.5 611.7L604.2 616.3ZM600.8 15.2L602.5 19.8L604.2 15.2ZM71.8 544.5L76.4 546.2L71.8 547.9ZM672.6 544.5L668 546.2L672.6 547.9ZM610.8 616.3L612.5 611.7L614.2 616.3ZM610.8 15.2L612.5 19.8L614.2 15.2ZM71.8 554.5L76.4 556.2L71.8 557.9ZM672.6 554.5L668 556.2L672.6 557.9ZM620.8 616.3L622.5 611.7L624.2 616.3ZM620.8 15.2L622.5 19.8L624.2 15.2ZM71.8 564.5L76.4 566.2L71.8 567.9ZM672.6 564.5L668 566.2L672.6 567.9ZM630.8 616.3L632.5 611.7L634.2 616.3ZM630.8 15.2L632.5 19.8L634.2 15.2ZM71.8 574.5L76.4 576.2L71.8 577.9ZM672.6 574.5L668 576.2L672.6 577.9ZM640.9 616.3L642.6 611.7L644.3 616.3ZM640.9 15.2L642.6 19.8L644.3 15.2ZM71.8 584.5L76.4 586.2L71.8 587.9ZM672.6 584.5L668 586.2L672.6 587.9ZM650.9 616.3L652.6 611.7L654.3 616.3ZM650.9 15.2L652.6 19.8L654.3 15.2ZM71.8 594.6L76.4 596.3L71.8 598ZM672.6 594.6L668 596.3L672.6 598ZM660.9 616.3L662.6 611.7L664.3 616.3ZM660.9 15.2L662.6 19.8L664.3 15.2ZM71.8 604.6L76.4 606.3L71.8 608ZM672.6 604.6L668 606.3L672.6 608Z" fill="#000" stroke="#000" stroke-width="0.5" stroke-linejoin="round"/><path d="M171.9 616.3v-7.5M171.9 15.2v7.5M71.8 115.4h7.5M672.6 115.4h-7.5M272.1 616.3v-7.5M272.1 15.2v7.5M71.8 215.6h7.5M672.6 215.6h-7.5M372.2 616.3v-7.5M372.2 15.2v7.5M71.8 315.7h7.5M672.6 315.7h-7.5M472.3 616.3v-7.5M472.3 15.2v7.5M71.8 415.9h7.5M672.6 415.9h-7.5M572.5 616.3v-7.5M572.5 15.2v7.5M71.8 516.1h7.5M672.6 516.1h-7.5" stroke="#000" stroke-width="1.8" fill="none"/><g font-family="Liberation Serif" font-size="19" fill="#151515" stroke="#151515" stroke-width="0.4"><text x="71.8" y="643.1" text-anchor="middle">-12</text><text x="171.9" y="643.1" text-anchor="middle">-8</text><text x="272.1" y="643.1" text-anchor="middle">-4</text><text x="372.2" y="643.1" text-anchor="middle">0</text><text x="472.3" y="643.1" text-anchor="middle">4</text><text x="572.5" y="643.1" text-anchor="middle">8</text><text x="672.6" y="643.1" text-anchor="middle">12</text><text x="64.3" y="22.2" text-anchor="end">12</text><text x="64.3" y="122.4" text-anchor="end">8</text><text x="64.3" y="222.6" text-anchor="end">4</text><text x="64.3" y="322.7" text-anchor="end">0</text><text x="64.3" y="422.9" text-anchor="end">-4</text><text x="64.3" y="523.1" text-anchor="end">-8</text><text x="64.3" y="623.3" text-anchor="end">-12</text><text x="372.2" y="675.8" text-anchor="middle" font-size="28.5" fill="#1a1a1a" stroke="#1a1a1a" stroke-width="0.55">x/w</text><text transform="translate(26.3 315.8) rotate(-90)" text-anchor="middle" font-size="28.5" fill="#1a1a1a" stroke="#1a1a1a" stroke-width="0.55">y/w</text></g><text x="83.2" y="74.8" font-family="Liberation Serif" font-size="62" fill="#000">(a)</text><rect x="777" y="13.6" width="599.4" height="599.8" fill="#0000D6"/><path d="M806 298.6Q811 299.4 816 300.4" fill="none" stroke="#20a8e0" stroke-opacity="0.85" stroke-width="2.2" stroke-linecap="round"/><linearGradient id="gb1" gradientUnits="userSpaceOnUse" x1="815.3" y1="301.6" x2="1145.9" y2="222.6"><stop offset="0" stop-color="#60e818"/><stop offset="0.06" stop-color="#28ee22"/><stop offset="0.45" stop-color="#22ec40"/><stop offset="0.68" stop-color="#20e0a0"/><stop offset="0.88" stop-color="#28c8e8"/><stop offset="1" stop-color="#3070ff"/></linearGradient><path d="M816.1 303.6 819 303.2 821.9 302.7 824.7 301.9 827.3 300.8 830 299.7 832.6 298.6 835.2 297.5 837.9 296.5 840.6 295.4 843.2 294.3 845.9 293.3 848.5 292.2 851.2 291.2 853.9 290.2 856.5 289.1 859.2 288.1 861.9 287.1 864.6 286.1 867.2 285.1 869.9 284.1 872.6 283.1 875.3 282.1 878 281.1 880.7 280.1 883.4 279.2 886.1 278.2 888.8 277.3 891.5 276.3 894.2 275.4 896.9 274.5 899.6 273.5 902.3 272.6 905 271.7 907.7 270.8 910.5 269.9 913.2 269 915.9 268.1 918.6 267.3 921.4 266.4 924.1 265.5 926.8 264.7 929.6 263.9 932.3 263 935 262.2 937.8 261.4 940.5 260.6 943.3 259.7 946 259 948.8 258.2 951.5 257.4 954.3 256.6 957 255.8 959.8 255.1 962.5 254.3 965.3 253.6 968.1 252.8 970.8 252.1 973.6 251.4 976.4 250.7 979.2 250 981.9 249.3 984.7 248.6 987.5 247.9 990.3 247.3 993.1 246.6 995.8 246 998.6 245.3 1001.4 244.7 1004.2 244.1 1007 243.4 1009.8 242.8 1012.6 242.2 1015.4 241.6 1018.2 241.1 1021 240.5 1023.8 239.9 1026.6 239.4 1029.4 238.8 1032.2 238.3 1035 237.8 1037.9 237.2 1040.7 236.7 1043.5 236.2 1046.3 235.7 1049.1 235.3 1051.9 234.8 1054.8 234.3 1057.6 233.9 1060.4 233.4 1063.2 233 1066.1 232.6 1068.9 232.1 1071.7 231.7 1074.6 231.3 1077.4 231 1080.3 230.6 1083.1 230.2 1085.9 229.9 1088.8 229.5 1091.6 229.2 1094.5 228.9 1097.3 228.5 1100.2 228.2 1103 227.9 1105.9 227.7 1108.7 227.4 1111.6 227.1 1114.4 226.9 1117.3 226.6 1120.1 226.4 1123 226.2 1125.9 226 1128.7 225.8 1131.6 225.6 1134.4 225 1137.3 224.4 1140.1 223.8 1143 223.3 1145.9 223.2 L1145.8 222.1 1142.9 222.2 1140.1 221.9 1137.1 221.6 1134.2 221.3 1131.3 221.1 1128.4 221.3 1125.6 221.4 1122.7 221.6 1119.8 221.8 1116.9 222 1114.1 222.2 1111.2 222.5 1108.3 222.7 1105.4 223 1102.6 223.2 1099.7 223.5 1096.8 223.8 1094 224 1091.1 224.3 1088.2 224.7 1085.4 225 1082.5 225.3 1079.6 225.6 1076.8 226 1073.9 226.3 1071.1 226.7 1068.2 227.1 1065.4 227.5 1062.5 227.9 1059.6 228.3 1056.8 228.7 1054 229.1 1051.1 229.6 1048.3 230 1045.4 230.5 1042.6 230.9 1039.7 231.4 1036.9 231.9 1034.1 232.4 1031.2 232.9 1028.4 233.4 1025.6 233.9 1022.7 234.5 1019.9 235 1017.1 235.5 1014.3 236.1 1011.4 236.7 1008.6 237.2 1005.8 237.8 1003 238.4 1000.2 239 997.4 239.6 994.5 240.2 991.7 240.9 988.9 241.5 986.1 242.1 983.3 242.8 980.5 243.5 977.7 244.1 974.9 244.8 972.1 245.5 969.3 246.2 966.5 246.9 963.7 247.6 961 248.3 958.2 249.1 955.4 249.8 952.6 250.5 949.8 251.3 947 252 944.3 252.8 941.5 253.6 938.7 254.4 936 255.2 933.2 256 930.4 256.8 927.7 257.6 924.9 258.4 922.1 259.2 919.4 260.1 916.6 260.9 913.9 261.8 911.1 262.6 908.4 263.5 905.6 264.4 902.9 265.2 900.2 266.1 897.4 267 894.7 267.9 891.9 268.8 889.2 269.7 886.5 270.7 883.8 271.6 881 272.5 878.3 273.5 875.6 274.4 872.9 275.4 870.2 276.3 867.5 277.3 864.7 278.3 862 279.3 859.3 280.3 856.6 281.3 853.9 282.3 851.2 283.3 848.5 284.3 845.9 285.3 843.2 286.3 840.5 287.4 837.8 288.4 835.1 289.4 832.4 290.5 829.8 291.6 827.1 292.6 824.4 293.7 821.8 294.8 819.2 296.1 816.8 297.9 814.4 299.6Z" fill="#18c0e0" fill-opacity="0.6" stroke="#1880f0" stroke-opacity="0.3" stroke-width="0.8" stroke-linejoin="round"/><path d="M815.8 303 818.7 302.3 821.5 301.7 824.2 300.8 826.9 299.7 829.5 298.6 832.2 297.5 834.8 296.5 837.5 295.4 840.1 294.3 842.8 293.3 845.5 292.2 848.1 291.2 850.8 290.1 853.5 289.1 856.1 288.1 858.8 287.1 861.5 286 864.2 285 866.9 284 869.5 283 872.2 282 874.9 281.1 877.6 280.1 880.3 279.1 883 278.2 885.7 277.2 888.4 276.3 891.1 275.3 893.8 274.4 896.5 273.5 899.3 272.5 902 271.6 904.7 270.7 907.4 269.8 910.1 268.9 912.9 268 915.6 267.2 918.3 266.3 921.1 265.4 923.8 264.6 926.5 263.7 929.3 262.9 932 262.1 934.7 261.2 937.5 260.4 940.2 259.6 943 258.8 945.7 258 948.5 257.2 951.3 256.4 954 255.7 956.8 254.9 959.5 254.2 962.3 253.4 965.1 252.7 967.8 251.9 970.6 251.2 973.4 250.5 976.2 249.8 978.9 249.1 981.7 248.4 984.5 247.7 987.3 247.1 990.1 246.4 992.9 245.7 995.6 245.1 998.4 244.4 1001.2 243.8 1004 243.2 1006.8 242.6 1009.6 242 1012.4 241.4 1015.2 240.8 1018 240.2 1020.8 239.6 1023.6 239.1 1026.4 238.5 1029.3 238 1032.1 237.5 1034.9 236.9 1037.7 236.4 1040.5 235.9 1043.3 235.4 1046.2 234.9 1049 234.5 1051.8 234 1054.6 233.5 1057.5 233.1 1060.3 232.6 1063.1 232.2 1066 231.8 1068.8 231.4 1071.6 231 1074.5 230.6 1077.3 230.2 1080.2 229.8 1083 229.5 1085.8 229.1 1088.7 228.8 1091.5 228.4 1094.4 228.1 1097.2 227.8 1100.1 227.5 1102.9 227.2 1105.8 226.9 1108.7 226.7 1111.5 226.4 1114.4 226.2 1117.2 225.9 1120.1 225.7 1123 225.5 1125.8 225.3 1128.7 225.1 1131.6 224.9 1134.4 224.5 1137.3 224 1140.1 223.5 1143 223.1 1145.9 223 L1145.8 222.2 1143 222.4 1140.1 222.2 1137.2 222 1134.3 221.9 1131.4 221.8 1128.5 222 1125.6 222.1 1122.7 222.3 1119.9 222.5 1117 222.7 1114.1 222.9 1111.2 223.2 1108.4 223.4 1105.5 223.7 1102.6 223.9 1099.8 224.2 1096.9 224.5 1094 224.8 1091.2 225.1 1088.3 225.4 1085.4 225.7 1082.6 226.1 1079.7 226.4 1076.9 226.7 1074 227.1 1071.2 227.5 1068.3 227.9 1065.5 228.3 1062.6 228.7 1059.8 229.1 1056.9 229.5 1054.1 229.9 1051.2 230.4 1048.4 230.8 1045.6 231.3 1042.7 231.7 1039.9 232.2 1037 232.7 1034.2 233.2 1031.4 233.7 1028.6 234.2 1025.7 234.8 1022.9 235.3 1020.1 235.8 1017.3 236.4 1014.4 236.9 1011.6 237.5 1008.8 238.1 1006 238.7 1003.2 239.3 1000.4 239.9 997.6 240.5 994.7 241.1 991.9 241.7 989.1 242.4 986.3 243 983.5 243.7 980.7 244.4 977.9 245 975.1 245.7 972.3 246.4 969.6 247.1 966.8 247.8 964 248.5 961.2 249.2 958.4 250 955.6 250.7 952.9 251.5 950.1 252.2 947.3 253 944.5 253.7 941.8 254.5 939 255.3 936.2 256.1 933.5 256.9 930.7 257.7 927.9 258.5 925.2 259.4 922.4 260.2 919.7 261 916.9 261.9 914.2 262.7 911.4 263.6 908.7 264.5 906 265.3 903.2 266.2 900.5 267.1 897.7 268 895 268.9 892.3 269.8 889.6 270.7 886.8 271.7 884.1 272.6 881.4 273.5 878.7 274.5 876 275.4 873.2 276.4 870.5 277.4 867.8 278.3 865.1 279.3 862.4 280.3 859.7 281.3 857 282.3 854.3 283.3 851.6 284.3 849 285.3 846.3 286.4 843.6 287.4 840.9 288.4 838.2 289.5 835.5 290.5 832.9 291.6 830.2 292.6 827.5 293.7 824.9 294.8 822.2 295.9 819.6 297.1 817.2 298.7 814.7 300.2Z" fill="url(#gb1)" stroke="url(#gb1)" stroke-width="0.6" stroke-linejoin="round"/><linearGradient id="gb2" gradientUnits="userSpaceOnUse" x1="1084" y1="309.1" x2="1330.5" y2="301.6"><stop offset="0" stop-color="#3080ff"/><stop offset="0.12" stop-color="#20c0e8"/><stop offset="0.5" stop-color="#20d8c0"/><stop offset="0.75" stop-color="#20e870"/><stop offset="1" stop-color="#30e838"/></linearGradient><path d="M1084 310.4 1086.1 310.9 1088.1 311.3 1090.2 311.5 1092.3 311.4 1094.4 311.4 1096.5 311.4 1098.6 311.3 1100.7 311.3 1102.8 311.2 1104.9 311.2 1106.9 311.1 1109 311.1 1111.1 311 1113.2 310.9 1115.3 310.8 1117.4 310.8 1119.5 310.7 1121.5 310.6 1123.6 310.5 1125.7 310.4 1127.8 310.3 1129.9 310.2 1132 310.1 1134 310 1136.1 309.9 1138.2 309.8 1140.3 309.6 1142.4 309.5 1144.4 309.4 1146.5 309.3 1148.6 309.1 1150.7 309 1152.7 308.9 1154.8 308.7 1156.9 308.6 1159 308.4 1161.1 308.3 1163.1 308.1 1165.2 308 1167.3 307.8 1169.4 307.7 1171.4 307.5 1173.5 307.4 1175.6 307.2 1177.7 307 1179.7 306.9 1181.8 306.7 1183.9 306.5 1185.9 306.3 1188 306.2 1190.1 306 1192.2 305.8 1194.2 305.6 1196.3 305.4 1198.4 305.3 1200.4 305.1 1202.5 304.9 1204.6 304.7 1206.7 304.5 1208.7 304.3 1210.8 304.1 1212.9 304 1214.9 303.8 1217 303.6 1219.1 303.4 1221.1 303.2 1223.2 303 1225.3 302.8 1227.3 302.6 1229.4 302.4 1231.5 302.3 1233.5 302.1 1235.6 301.9 1237.6 301.7 1239.7 301.6 1241.8 301.4 1243.8 301.3 1245.9 301.1 1247.9 301 1250 300.8 1252.1 300.7 1254.1 300.6 1256.2 300.4 1258.2 300.3 1260.3 300.2 1262.4 300.1 1264.4 300.1 1266.5 300 1268.5 299.9 1270.6 299.8 1272.6 299.8 1274.7 299.8 1276.7 299.7 1278.8 299.7 1280.8 299.7 1282.9 299.7 1284.9 299.8 1287 299.8 1289 299.8 1291.1 299.9 1293.1 300 1295.2 300.1 1297.2 300.2 1299.3 300.3 1301.3 300.4 1303.4 300.6 1305.4 300.7 1307.5 300.9 1309.5 301.1 1311.6 301.3 1313.6 301.6 1315.7 301.8 1317.7 302.1 1319.8 302.4 1321.9 302.3 1324 302.1 1326.1 301.9 1328.3 301.8 1330.4 302.2 L1330.6 300.9 1328.5 300.5 1326.5 299.7 1324.5 298.8 1322.5 298 1320.5 297.2 1318.4 297 1316.3 296.7 1314.2 296.4 1312.1 296.2 1310 296 1308 295.8 1305.9 295.6 1303.8 295.4 1301.7 295.3 1299.6 295.1 1297.5 295 1295.4 294.9 1293.3 294.8 1291.3 294.8 1289.2 294.7 1287.1 294.7 1285 294.6 1282.9 294.6 1280.8 294.6 1278.8 294.6 1276.7 294.6 1274.6 294.6 1272.5 294.7 1270.4 294.7 1268.4 294.8 1266.3 294.9 1264.2 295 1262.1 295 1260 295.1 1258 295.2 1255.9 295.4 1253.8 295.5 1251.7 295.6 1249.7 295.7 1247.6 295.9 1245.5 296 1243.4 296.2 1241.4 296.4 1239.3 296.5 1237.2 296.7 1235.2 296.9 1233.1 297 1231 297.2 1228.9 297.4 1226.9 297.6 1224.8 297.8 1222.7 298 1220.7 298.2 1218.6 298.3 1216.5 298.5 1214.5 298.7 1212.4 298.9 1210.3 299.1 1208.3 299.3 1206.2 299.5 1204.1 299.7 1202.1 299.9 1200 300.1 1197.9 300.3 1195.9 300.4 1193.8 300.6 1191.7 300.8 1189.7 301 1187.6 301.2 1185.5 301.3 1183.4 301.5 1181.4 301.7 1179.3 301.9 1177.2 302 1175.2 302.2 1173.1 302.4 1171 302.5 1169 302.7 1166.9 302.9 1164.8 303 1162.8 303.2 1160.7 303.3 1158.6 303.5 1156.6 303.6 1154.5 303.8 1152.4 303.9 1150.3 304 1148.3 304.2 1146.2 304.3 1144.1 304.4 1142.1 304.6 1140 304.7 1137.9 304.8 1135.8 304.9 1133.8 305 1131.7 305.2 1129.6 305.3 1127.5 305.4 1125.5 305.5 1123.4 305.6 1121.3 305.7 1119.3 305.7 1117.2 305.8 1115.1 305.9 1113 306 1111 306.1 1108.9 306.1 1106.8 306.2 1104.7 306.3 1102.6 306.3 1100.6 306.4 1098.5 306.4 1096.4 306.5 1094.3 306.5 1092.3 306.5 1090.2 306.6 1088.1 306.8 1086 307.3 1083.9 307.7Z" fill="#18c0e0" fill-opacity="0.6" stroke="#1880f0" stroke-opacity="0.3" stroke-width="0.8" stroke-linejoin="round"/><path d="M1084 310 1086 310.3 1088.1 310.6 1090.2 310.7 1092.3 310.7 1094.4 310.7 1096.5 310.6 1098.6 310.6 1100.7 310.5 1102.8 310.5 1104.8 310.4 1106.9 310.4 1109 310.3 1111.1 310.2 1113.2 310.2 1115.3 310.1 1117.3 310 1119.4 309.9 1121.5 309.8 1123.6 309.7 1125.7 309.7 1127.8 309.6 1129.8 309.5 1131.9 309.3 1134 309.2 1136.1 309.1 1138.2 309 1140.2 308.9 1142.3 308.8 1144.4 308.6 1146.5 308.5 1148.5 308.4 1150.6 308.2 1152.7 308.1 1154.8 308 1156.8 307.8 1158.9 307.7 1161 307.5 1163.1 307.4 1165.1 307.2 1167.2 307.1 1169.3 306.9 1171.4 306.8 1173.4 306.6 1175.5 306.4 1177.6 306.3 1179.7 306.1 1181.7 305.9 1183.8 305.7 1185.9 305.6 1187.9 305.4 1190 305.2 1192.1 305 1194.2 304.9 1196.2 304.7 1198.3 304.5 1200.4 304.3 1202.4 304.1 1204.5 303.9 1206.6 303.8 1208.7 303.6 1210.7 303.4 1212.8 303.2 1214.9 303 1216.9 302.8 1219 302.6 1221.1 302.4 1223.1 302.2 1225.2 302 1227.3 301.9 1229.3 301.7 1231.4 301.5 1233.5 301.3 1235.5 301.1 1237.6 301 1239.6 300.8 1241.7 300.6 1243.8 300.5 1245.8 300.3 1247.9 300.2 1250 300.1 1252 299.9 1254.1 299.8 1256.1 299.7 1258.2 299.6 1260.3 299.5 1262.3 299.4 1264.4 299.3 1266.4 299.2 1268.5 299.1 1270.6 299.1 1272.6 299 1274.7 299 1276.7 299 1278.8 298.9 1280.8 298.9 1282.9 298.9 1284.9 299 1287 299 1289.1 299 1291.1 299.1 1293.2 299.2 1295.2 299.3 1297.3 299.4 1299.3 299.5 1301.4 299.6 1303.4 299.8 1305.5 299.9 1307.6 300.1 1309.6 300.3 1311.7 300.5 1313.7 300.8 1315.8 301 1317.8 301.3 1319.9 301.6 1322 301.6 1324.1 301.6 1326.2 301.5 1328.3 301.6 1330.4 302 L1330.6 301.1 1328.5 300.7 1326.5 300.1 1324.5 299.3 1322.4 298.6 1320.4 298 1318.3 297.7 1316.2 297.5 1314.1 297.2 1312 297 1310 296.8 1307.9 296.6 1305.8 296.4 1303.7 296.2 1301.6 296.1 1299.6 295.9 1297.5 295.8 1295.4 295.7 1293.3 295.6 1291.2 295.5 1289.2 295.5 1287.1 295.4 1285 295.4 1282.9 295.4 1280.8 295.4 1278.8 295.4 1276.7 295.4 1274.6 295.4 1272.5 295.5 1270.5 295.5 1268.4 295.6 1266.3 295.7 1264.2 295.7 1262.2 295.8 1260.1 295.9 1258 296 1255.9 296.1 1253.9 296.3 1251.8 296.4 1249.7 296.5 1247.6 296.7 1245.6 296.8 1243.5 297 1241.4 297.1 1239.4 297.3 1237.3 297.5 1235.2 297.6 1233.2 297.8 1231.1 298 1229 298.2 1226.9 298.4 1224.9 298.5 1222.8 298.7 1220.7 298.9 1218.7 299.1 1216.6 299.3 1214.5 299.5 1212.5 299.7 1210.4 299.9 1208.3 300.1 1206.3 300.3 1204.2 300.5 1202.1 300.6 1200.1 300.8 1198 301 1195.9 301.2 1193.9 301.4 1191.8 301.6 1189.7 301.7 1187.7 301.9 1185.6 302.1 1183.5 302.3 1181.4 302.5 1179.4 302.6 1177.3 302.8 1175.2 303 1173.2 303.1 1171.1 303.3 1169 303.5 1167 303.6 1164.9 303.8 1162.8 303.9 1160.7 304.1 1158.7 304.2 1156.6 304.4 1154.5 304.5 1152.5 304.7 1150.4 304.8 1148.3 304.9 1146.2 305.1 1144.2 305.2 1142.1 305.3 1140 305.4 1138 305.6 1135.9 305.7 1133.8 305.8 1131.7 305.9 1129.7 306 1127.6 306.1 1125.5 306.2 1123.4 306.3 1121.4 306.4 1119.3 306.5 1117.2 306.6 1115.1 306.7 1113.1 306.7 1111 306.8 1108.9 306.9 1106.8 307 1104.7 307 1102.7 307.1 1100.6 307.1 1098.5 307.2 1096.4 307.2 1094.3 307.3 1092.3 307.3 1090.2 307.3 1088.1 307.5 1086 307.8 1083.9 308.1Z" fill="url(#gb2)" stroke="url(#gb2)" stroke-width="0.6" stroke-linejoin="round"/><linearGradient id="gb3" gradientUnits="userSpaceOnUse" x1="1330.4" y1="322" x2="1374" y2="405.5"><stop offset="0" stop-color="#20e860"/><stop offset="0.35" stop-color="#20d8c8"/><stop offset="0.7" stop-color="#20b0f0"/><stop offset="1" stop-color="#2060ff"/></linearGradient><path d="M1329.2 323 1329.2 324 1329.3 324.9 1329.6 325.7 1330.1 326.3 1330.5 326.9 1331 327.5 1331.5 328.2 1332 328.8 1332.4 329.4 1332.9 330.1 1333.4 330.7 1333.8 331.3 1334.3 332 1334.7 332.6 1335.2 333.3 1335.6 333.9 1336.1 334.5 1336.5 335.2 1337 335.8 1337.4 336.5 1337.9 337.1 1338.3 337.8 1338.8 338.4 1339.2 339.1 1339.6 339.7 1340.1 340.4 1340.5 341.1 1340.9 341.7 1341.3 342.4 1341.8 343 1342.2 343.7 1342.6 344.4 1343 345 1343.4 345.7 1343.9 346.4 1344.3 347 1344.7 347.7 1345.1 348.4 1345.5 349.1 1345.9 349.7 1346.3 350.4 1346.7 351.1 1347.1 351.8 1347.5 352.4 1347.9 353.1 1348.3 353.8 1348.7 354.5 1349.1 355.2 1349.4 355.8 1349.8 356.5 1350.2 357.2 1350.6 357.9 1351 358.6 1351.3 359.3 1351.7 360 1352.1 360.7 1352.5 361.4 1352.8 362.1 1353.2 362.8 1353.6 363.5 1353.9 364.2 1354.3 364.9 1354.7 365.6 1355 366.3 1355.4 367 1355.7 367.7 1356.1 368.4 1356.4 369.1 1356.8 369.8 1357.1 370.5 1357.5 371.2 1357.8 371.9 1358.2 372.6 1358.5 373.3 1358.9 374 1359.2 374.7 1359.5 375.5 1359.9 376.2 1360.2 376.9 1360.5 377.6 1360.9 378.3 1361.2 379 1361.5 379.8 1361.9 380.5 1362.2 381.2 1362.5 381.9 1362.8 382.6 1363.1 383.4 1363.5 384.1 1363.8 384.8 1364.1 385.5 1364.4 386.3 1364.7 387 1365 387.7 1365.3 388.4 1365.7 389.2 1366 389.9 1366.3 390.6 1366.6 391.4 1366.9 392.1 1367.2 392.8 1367.5 393.5 1367.8 394.3 1368.1 395 1368.4 395.7 1368.7 396.5 1369 397.2 1369.2 398 1369.5 398.7 1369.8 399.4 1370.1 400.2 1370.4 400.9 1370.7 401.6 1371 402.4 1371.5 403 1372.1 403.6 1372.8 404.3 1373.3 404.9 1373.6 405.7 L1374.4 405.4 1374.1 404.6 1374.1 403.8 1374.2 402.9 1374.3 402 1374.3 401.2 1374 400.4 1373.8 399.7 1373.5 398.9 1373.2 398.2 1372.9 397.4 1372.7 396.7 1372.4 395.9 1372.1 395.2 1371.8 394.4 1371.6 393.7 1371.3 392.9 1371 392.2 1370.7 391.4 1370.4 390.7 1370.1 389.9 1369.9 389.2 1369.6 388.4 1369.3 387.7 1369 386.9 1368.7 386.2 1368.4 385.5 1368.1 384.7 1367.8 384 1367.5 383.2 1367.2 382.5 1366.9 381.8 1366.6 381 1366.3 380.3 1366 379.5 1365.6 378.8 1365.3 378.1 1365 377.3 1364.7 376.6 1364.4 375.9 1364.1 375.1 1363.7 374.4 1363.4 373.7 1363.1 372.9 1362.8 372.2 1362.4 371.5 1362.1 370.8 1361.8 370 1361.5 369.3 1361.1 368.6 1360.8 367.9 1360.4 367.1 1360.1 366.4 1359.8 365.7 1359.4 365 1359.1 364.2 1358.7 363.5 1358.4 362.8 1358 362.1 1357.7 361.4 1357.3 360.7 1357 359.9 1356.6 359.2 1356.2 358.5 1355.9 357.8 1355.5 357.1 1355.1 356.4 1354.8 355.7 1354.4 355 1354 354.2 1353.7 353.5 1353.3 352.8 1352.9 352.1 1352.5 351.4 1352.1 350.7 1351.8 350 1351.4 349.3 1351 348.6 1350.6 347.9 1350.2 347.2 1349.8 346.5 1349.4 345.8 1349 345.1 1348.6 344.4 1348.2 343.8 1347.8 343.1 1347.4 342.4 1347 341.7 1346.6 341 1346.2 340.3 1345.7 339.6 1345.3 338.9 1344.9 338.3 1344.5 337.6 1344.1 336.9 1343.6 336.2 1343.2 335.5 1342.8 334.9 1342.3 334.2 1341.9 333.5 1341.5 332.8 1341 332.2 1340.6 331.5 1340.1 330.8 1339.7 330.2 1339.2 329.5 1338.8 328.8 1338.3 328.2 1337.9 327.5 1337.4 326.8 1337 326.2 1336.5 325.5 1336 324.9 1335.6 324.2 1335.1 323.5 1334.6 322.9 1334.2 322.2 1333.5 321.7 1332.6 321.4 1331.7 321.1Z" fill="#18c0e0" fill-opacity="0.6" stroke="#1880f0" stroke-opacity="0.3" stroke-width="0.8" stroke-linejoin="round"/><path d="M1329.6 322.7 1329.7 323.6 1329.9 324.4 1330.3 325.1 1330.8 325.8 1331.2 326.4 1331.7 327 1332.2 327.7 1332.7 328.3 1333.1 328.9 1333.6 329.6 1334 330.2 1334.5 330.9 1335 331.5 1335.4 332.1 1335.9 332.8 1336.3 333.4 1336.8 334.1 1337.2 334.7 1337.7 335.4 1338.1 336 1338.6 336.7 1339 337.3 1339.4 338 1339.9 338.6 1340.3 339.3 1340.7 340 1341.2 340.6 1341.6 341.3 1342 342 1342.4 342.6 1342.9 343.3 1343.3 344 1343.7 344.6 1344.1 345.3 1344.5 346 1344.9 346.6 1345.3 347.3 1345.7 348 1346.1 348.7 1346.5 349.3 1346.9 350 1347.3 350.7 1347.7 351.4 1348.1 352.1 1348.5 352.7 1348.9 353.4 1349.3 354.1 1349.7 354.8 1350.1 355.5 1350.5 356.2 1350.8 356.9 1351.2 357.6 1351.6 358.3 1352 359 1352.4 359.6 1352.7 360.3 1353.1 361 1353.5 361.7 1353.8 362.4 1354.2 363.1 1354.6 363.8 1354.9 364.5 1355.3 365.2 1355.6 365.9 1356 366.7 1356.3 367.4 1356.7 368.1 1357.1 368.8 1357.4 369.5 1357.7 370.2 1358.1 370.9 1358.4 371.6 1358.8 372.3 1359.1 373 1359.5 373.8 1359.8 374.5 1360.1 375.2 1360.5 375.9 1360.8 376.6 1361.1 377.3 1361.5 378.1 1361.8 378.8 1362.1 379.5 1362.4 380.2 1362.8 380.9 1363.1 381.7 1363.4 382.4 1363.7 383.1 1364 383.8 1364.4 384.6 1364.7 385.3 1365 386 1365.3 386.7 1365.6 387.5 1365.9 388.2 1366.2 388.9 1366.5 389.7 1366.8 390.4 1367.1 391.1 1367.4 391.9 1367.7 392.6 1368 393.3 1368.3 394.1 1368.6 394.8 1368.9 395.5 1369.2 396.3 1369.5 397 1369.8 397.8 1370.1 398.5 1370.3 399.2 1370.6 400 1370.9 400.7 1371.2 401.5 1371.5 402.2 1371.9 402.9 1372.4 403.5 1373 404.2 1373.4 404.9 1373.7 405.6 L1374.3 405.4 1374 404.7 1373.9 403.8 1373.9 403 1373.9 402.2 1373.8 401.3 1373.5 400.6 1373.2 399.8 1373 399.1 1372.7 398.3 1372.4 397.6 1372.1 396.9 1371.9 396.1 1371.6 395.4 1371.3 394.6 1371 393.9 1370.7 393.1 1370.5 392.4 1370.2 391.6 1369.9 390.9 1369.6 390.1 1369.3 389.4 1369 388.7 1368.7 387.9 1368.4 387.2 1368.1 386.4 1367.8 385.7 1367.5 385 1367.2 384.2 1366.9 383.5 1366.6 382.7 1366.3 382 1366 381.3 1365.7 380.5 1365.4 379.8 1365.1 379.1 1364.8 378.3 1364.4 377.6 1364.1 376.9 1363.8 376.1 1363.5 375.4 1363.2 374.7 1362.8 373.9 1362.5 373.2 1362.2 372.5 1361.8 371.8 1361.5 371 1361.2 370.3 1360.8 369.6 1360.5 368.9 1360.2 368.1 1359.8 367.4 1359.5 366.7 1359.1 366 1358.8 365.3 1358.5 364.6 1358.1 363.8 1357.8 363.1 1357.4 362.4 1357 361.7 1356.7 361 1356.3 360.3 1356 359.6 1355.6 358.8 1355.2 358.1 1354.9 357.4 1354.5 356.7 1354.1 356 1353.8 355.3 1353.4 354.6 1353 353.9 1352.6 353.2 1352.3 352.5 1351.9 351.8 1351.5 351.1 1351.1 350.4 1350.7 349.7 1350.3 349 1349.9 348.3 1349.5 347.6 1349.1 346.9 1348.7 346.2 1348.3 345.5 1347.9 344.8 1347.5 344.2 1347.1 343.5 1346.7 342.8 1346.3 342.1 1345.9 341.4 1345.5 340.7 1345.1 340 1344.7 339.4 1344.2 338.7 1343.8 338 1343.4 337.3 1343 336.7 1342.5 336 1342.1 335.3 1341.7 334.6 1341.2 334 1340.8 333.3 1340.3 332.6 1339.9 332 1339.5 331.3 1339 330.6 1338.6 330 1338.1 329.3 1337.7 328.6 1337.2 328 1336.7 327.3 1336.3 326.7 1335.8 326 1335.3 325.4 1334.9 324.7 1334.4 324.1 1333.9 323.4 1333.5 322.8 1332.9 322.2 1332.1 321.8 1331.3 321.4Z" fill="url(#gb3)" stroke="url(#gb3)" stroke-width="0.6" stroke-linejoin="round"/><path d="M777 300.8H814.4A12.2 12.2 0 0 1 814.4 325.2H777Z" fill="#fffff8" stroke="#000028" stroke-opacity="0.55" stroke-width="1.3"/><path d="M1376.4 300.8H1339.7A12.2 12.2 0 0 0 1339.7 325.2H1376.4Z" fill="#fffff8" stroke="#000028" stroke-opacity="0.55" stroke-width="1.3"/><rect x="1254" y="21.6" width="115.2" height="225.4" fill="#fff"/><rect x="1258.3" y="68.6" width="21.5" height="14.6" fill="#ff0000"/><rect x="1258.3" y="82.9" width="21.5" height="14.6" fill="#ff5d00"/><rect x="1258.3" y="97.3" width="21.5" height="14.6" fill="#ffb900"/><rect x="1258.3" y="111.6" width="21.5" height="14.6" fill="#e8ff00"/><rect x="1258.3" y="125.9" width="21.5" height="14.6" fill="#8bff00"/><rect x="1258.3" y="140.3" width="21.5" height="14.6" fill="#2eff00"/><rect x="1258.3" y="154.6" width="21.5" height="14.6" fill="#00ff2e"/><rect x="1258.3" y="168.9" width="21.5" height="14.6" fill="#00ff8b"/><rect x="1258.3" y="183.3" width="21.5" height="14.6" fill="#00ffe8"/><rect x="1258.3" y="197.6" width="21.5" height="14.6" fill="#00b9ff"/><rect x="1258.3" y="211.9" width="21.5" height="14.6" fill="#005dff"/><rect x="1258.3" y="226.3" width="21.5" height="14.6" fill="#0000ff"/><path d="M1258.3 82.9H1279.8M1258.3 97.3H1279.8M1258.3 111.6H1279.8M1258.3 125.9H1279.8M1258.3 140.3H1279.8M1258.3 154.6H1279.8M1258.3 168.9H1279.8M1258.3 183.3H1279.8M1258.3 197.6H1279.8M1258.3 211.9H1279.8M1258.3 226.3H1279.8" stroke="#000" stroke-opacity="0.22" stroke-width="1.2"/><path d="M1279.8 68.6h5M1279.8 82.9h5M1279.8 97.3h5M1279.8 111.6h5M1279.8 125.9h5M1279.8 140.3h5M1279.8 154.6h5M1279.8 168.9h5M1279.8 183.3h5M1279.8 197.6h5M1279.8 211.9h5M1279.8 226.3h5M1279.8 240.6h5" stroke="#999" stroke-width="1"/><g font-family="Liberation Sans" fill="#262626" font-size="13" stroke="#333" stroke-width="0.2"><text x="1258.5" y="36.2" fill="#444" textLength="34.5" lengthAdjust="spacingAndGlyphs">SDV1</text><text x="1258.2" y="54.6" fill="#444" textLength="70" lengthAdjust="spacingAndGlyphs">(Avg: 75%)</text><text x="1294.4" y="73.2" textLength="70" lengthAdjust="spacingAndGlyphs">+9.518e-01</text><text x="1294.4" y="87.5" textLength="70" lengthAdjust="spacingAndGlyphs">+8.738e-01</text><text x="1294.4" y="101.9" textLength="70" lengthAdjust="spacingAndGlyphs">+7.959e-01</text><text x="1294.4" y="116.2" textLength="70" lengthAdjust="spacingAndGlyphs">+7.179e-01</text><text x="1294.4" y="130.5" textLength="70" lengthAdjust="spacingAndGlyphs">+6.399e-01</text><text x="1294.4" y="144.9" textLength="70" lengthAdjust="spacingAndGlyphs">+5.620e-01</text><text x="1294.4" y="159.2" textLength="70" lengthAdjust="spacingAndGlyphs">+4.840e-01</text><text x="1294.4" y="173.5" textLength="70" lengthAdjust="spacingAndGlyphs">+4.061e-01</text><text x="1294.4" y="187.9" textLength="70" lengthAdjust="spacingAndGlyphs">+3.281e-01</text><text x="1294.4" y="202.2" textLength="70" lengthAdjust="spacingAndGlyphs">+2.502e-01</text><text x="1294.4" y="216.5" textLength="70" lengthAdjust="spacingAndGlyphs">+1.722e-01</text><text x="1294.4" y="230.9" textLength="70" lengthAdjust="spacingAndGlyphs">+9.426e-02</text><text x="1294.4" y="245.2" textLength="70" lengthAdjust="spacingAndGlyphs">+1.630e-02</text></g><g font-family="Liberation Serif" font-size="21.5" fill="#eef" stroke="#eef" stroke-width="0.5"><text x="1163" y="44.4" textLength="79" lengthAdjust="spacing"><tspan font-style="italic">M</tspan><tspan font-style="italic" font-size="12" dy="-8">e</tspan><tspan dy="8"> = 0.0</tspan></text><text x="1163" y="71.6" textLength="81" lengthAdjust="spacing"><tspan font-style="italic">ε</tspan> = 3.8%</text></g><rect x="777" y="13.6" width="599.4" height="599.8" fill="none" stroke="#000" stroke-width="2.6"/><path d="M785.4 613.4L787 609.4L788.6 613.4ZM785.4 13.6L787 17.6L788.6 13.6ZM777 22L781 23.6L777 25.2ZM1376.4 22L1372.4 23.6L1376.4 25.2ZM795.4 613.4L797 609.4L798.6 613.4ZM795.4 13.6L797 17.6L798.6 13.6ZM777 32L781 33.6L777 35.2ZM1376.4 32L1372.4 33.6L1376.4 35.2ZM805.4 613.4L807 609.4L808.6 613.4ZM805.4 13.6L807 17.6L808.6 13.6ZM777 42L781 43.6L777 45.2ZM1376.4 42L1372.4 43.6L1376.4 45.2ZM815.4 613.4L817 609.4L818.6 613.4ZM815.4 13.6L817 17.6L818.6 13.6ZM777 52L781 53.6L777 55.2ZM1376.4 52L1372.4 53.6L1376.4 55.2ZM825.4 613.4L827 609.4L828.6 613.4ZM825.4 13.6L827 17.6L828.6 13.6ZM777 62L781 63.6L777 65.2ZM1376.4 62L1372.4 63.6L1376.4 65.2ZM835.3 613.4L836.9 609.4L838.5 613.4ZM835.3 13.6L836.9 17.6L838.5 13.6ZM777 72L781 73.6L777 75.2ZM1376.4 72L1372.4 73.6L1376.4 75.2ZM845.3 613.4L846.9 609.4L848.5 613.4ZM845.3 13.6L846.9 17.6L848.5 13.6ZM777 82L781 83.6L777 85.2ZM1376.4 82L1372.4 83.6L1376.4 85.2ZM855.3 613.4L856.9 609.4L858.5 613.4ZM855.3 13.6L856.9 17.6L858.5 13.6ZM777 92L781 93.6L777 95.2ZM1376.4 92L1372.4 93.6L1376.4 95.2ZM865.3 613.4L866.9 609.4L868.5 613.4ZM865.3 13.6L866.9 17.6L868.5 13.6ZM777 102L781 103.6L777 105.2ZM1376.4 102L1372.4 103.6L1376.4 105.2ZM885.3 613.4L886.9 609.4L888.5 613.4ZM885.3 13.6L886.9 17.6L888.5 13.6ZM777 122L781 123.6L777 125.2ZM1376.4 122L1372.4 123.6L1376.4 125.2ZM895.3 613.4L896.9 609.4L898.5 613.4ZM895.3 13.6L896.9 17.6L898.5 13.6ZM777 132L781 133.6L777 135.2ZM1376.4 132L1372.4 133.6L1376.4 135.2ZM905.3 613.4L906.9 609.4L908.5 613.4ZM905.3 13.6L906.9 17.6L908.5 13.6ZM777 142L781 143.6L777 145.2ZM1376.4 142L1372.4 143.6L1376.4 145.2ZM915.3 613.4L916.9 609.4L918.5 613.4ZM915.3 13.6L916.9 17.6L918.5 13.6ZM777 152L781 153.6L777 155.2ZM1376.4 152L1372.4 153.6L1376.4 155.2ZM925.2 613.4L926.9 609.4L928.5 613.4ZM925.2 13.6L926.9 17.6L928.5 13.6ZM777 161.9L781 163.5L777 165.1ZM1376.4 161.9L1372.4 163.5L1376.4 165.1ZM935.2 613.4L936.8 609.4L938.4 613.4ZM935.2 13.6L936.8 17.6L938.4 13.6ZM777 171.9L781 173.5L777 175.1ZM1376.4 171.9L1372.4 173.5L1376.4 175.1ZM945.2 613.4L946.8 609.4L948.4 613.4ZM945.2 13.6L946.8 17.6L948.4 13.6ZM777 181.9L781 183.5L777 185.1ZM1376.4 181.9L1372.4 183.5L1376.4 185.1ZM955.2 613.4L956.8 609.4L958.4 613.4ZM955.2 13.6L956.8 17.6L958.4 13.6ZM777 191.9L781 193.5L777 195.1ZM1376.4 191.9L1372.4 193.5L1376.4 195.1ZM965.2 613.4L966.8 609.4L968.4 613.4ZM965.2 13.6L966.8 17.6L968.4 13.6ZM777 201.9L781 203.5L777 205.1ZM1376.4 201.9L1372.4 203.5L1376.4 205.1ZM985.2 613.4L986.8 609.4L988.4 613.4ZM985.2 13.6L986.8 17.6L988.4 13.6ZM777 221.9L781 223.5L777 225.1ZM1376.4 221.9L1372.4 223.5L1376.4 225.1ZM995.2 613.4L996.8 609.4L998.4 613.4ZM995.2 13.6L996.8 17.6L998.4 13.6ZM777 231.9L781 233.5L777 235.1ZM1376.4 231.9L1372.4 233.5L1376.4 235.1ZM1005.2 613.4L1006.8 609.4L1008.4 613.4ZM1005.2 13.6L1006.8 17.6L1008.4 13.6ZM777 241.9L781 243.5L777 245.1ZM1376.4 241.9L1372.4 243.5L1376.4 245.1ZM1015.2 613.4L1016.8 609.4L1018.4 613.4ZM1015.2 13.6L1016.8 17.6L1018.4 13.6ZM777 251.9L781 253.5L777 255.1ZM1376.4 251.9L1372.4 253.5L1376.4 255.1ZM1025.2 613.4L1026.8 609.4L1028.3 613.4ZM1025.2 13.6L1026.8 17.6L1028.3 13.6ZM777 261.9L781 263.5L777 265.1ZM1376.4 261.9L1372.4 263.5L1376.4 265.1ZM1035.1 613.4L1036.7 609.4L1038.3 613.4ZM1035.1 13.6L1036.7 17.6L1038.3 13.6ZM777 271.9L781 273.5L777 275.1ZM1376.4 271.9L1372.4 273.5L1376.4 275.1ZM1045.1 613.4L1046.7 609.4L1048.3 613.4ZM1045.1 13.6L1046.7 17.6L1048.3 13.6ZM777 281.9L781 283.5L777 285.1ZM1376.4 281.9L1372.4 283.5L1376.4 285.1ZM1055.1 613.4L1056.7 609.4L1058.3 613.4ZM1055.1 13.6L1056.7 17.6L1058.3 13.6ZM777 291.9L781 293.5L777 295.1ZM1376.4 291.9L1372.4 293.5L1376.4 295.1ZM1065.1 613.4L1066.7 609.4L1068.3 613.4ZM1065.1 13.6L1066.7 17.6L1068.3 13.6ZM777 301.9L781 303.5L777 305.1ZM1376.4 301.9L1372.4 303.5L1376.4 305.1ZM1085.1 613.4L1086.7 609.4L1088.3 613.4ZM1085.1 13.6L1086.7 17.6L1088.3 13.6ZM777 321.9L781 323.5L777 325.1ZM1376.4 321.9L1372.4 323.5L1376.4 325.1ZM1095.1 613.4L1096.7 609.4L1098.3 613.4ZM1095.1 13.6L1096.7 17.6L1098.3 13.6ZM777 331.9L781 333.5L777 335.1ZM1376.4 331.9L1372.4 333.5L1376.4 335.1ZM1105.1 613.4L1106.7 609.4L1108.3 613.4ZM1105.1 13.6L1106.7 17.6L1108.3 13.6ZM777 341.9L781 343.5L777 345.1ZM1376.4 341.9L1372.4 343.5L1376.4 345.1ZM1115.1 613.4L1116.7 609.4L1118.3 613.4ZM1115.1 13.6L1116.7 17.6L1118.3 13.6ZM777 351.9L781 353.5L777 355.1ZM1376.4 351.9L1372.4 353.5L1376.4 355.1ZM1125.1 613.4L1126.7 609.4L1128.2 613.4ZM1125.1 13.6L1126.7 17.6L1128.2 13.6ZM777 361.9L781 363.5L777 365.1ZM1376.4 361.9L1372.4 363.5L1376.4 365.1ZM1135 613.4L1136.6 609.4L1138.2 613.4ZM1135 13.6L1136.6 17.6L1138.2 13.6ZM777 371.9L781 373.5L777 375.1ZM1376.4 371.9L1372.4 373.5L1376.4 375.1ZM1145 613.4L1146.6 609.4L1148.2 613.4ZM1145 13.6L1146.6 17.6L1148.2 13.6ZM777 381.9L781 383.5L777 385.1ZM1376.4 381.9L1372.4 383.5L1376.4 385.1ZM1155 613.4L1156.6 609.4L1158.2 613.4ZM1155 13.6L1156.6 17.6L1158.2 13.6ZM777 391.9L781 393.5L777 395.1ZM1376.4 391.9L1372.4 393.5L1376.4 395.1ZM1165 613.4L1166.6 609.4L1168.2 613.4ZM1165 13.6L1166.6 17.6L1168.2 13.6ZM777 401.9L781 403.5L777 405.1ZM1376.4 401.9L1372.4 403.5L1376.4 405.1ZM1185 613.4L1186.6 609.4L1188.2 613.4ZM1185 13.6L1186.6 17.6L1188.2 13.6ZM777 421.9L781 423.5L777 425.1ZM1376.4 421.9L1372.4 423.5L1376.4 425.1ZM1195 613.4L1196.6 609.4L1198.2 613.4ZM1195 13.6L1196.6 17.6L1198.2 13.6ZM777 431.9L781 433.5L777 435.1ZM1376.4 431.9L1372.4 433.5L1376.4 435.1ZM1205 613.4L1206.6 609.4L1208.2 613.4ZM1205 13.6L1206.6 17.6L1208.2 13.6ZM777 441.9L781 443.5L777 445.1ZM1376.4 441.9L1372.4 443.5L1376.4 445.1ZM1215 613.4L1216.6 609.4L1218.2 613.4ZM1215 13.6L1216.6 17.6L1218.2 13.6ZM777 451.9L781 453.5L777 455.1ZM1376.4 451.9L1372.4 453.5L1376.4 455.1ZM1225 613.4L1226.6 609.4L1228.2 613.4ZM1225 13.6L1226.6 17.6L1228.2 13.6ZM777 461.8L781 463.4L777 465.1ZM1376.4 461.8L1372.4 463.4L1376.4 465.1ZM1234.9 613.4L1236.5 609.4L1238.1 613.4ZM1234.9 13.6L1236.5 17.6L1238.1 13.6ZM777 471.8L781 473.4L777 475ZM1376.4 471.8L1372.4 473.4L1376.4 475ZM1244.9 613.4L1246.5 609.4L1248.1 613.4ZM1244.9 13.6L1246.5 17.6L1248.1 13.6ZM777 481.8L781 483.4L777 485ZM1376.4 481.8L1372.4 483.4L1376.4 485ZM1254.9 613.4L1256.5 609.4L1258.1 613.4ZM1254.9 13.6L1256.5 17.6L1258.1 13.6ZM777 491.8L781 493.4L777 495ZM1376.4 491.8L1372.4 493.4L1376.4 495ZM1264.9 613.4L1266.5 609.4L1268.1 613.4ZM1264.9 13.6L1266.5 17.6L1268.1 13.6ZM777 501.8L781 503.4L777 505ZM1376.4 501.8L1372.4 503.4L1376.4 505ZM1284.9 613.4L1286.5 609.4L1288.1 613.4ZM1284.9 13.6L1286.5 17.6L1288.1 13.6ZM777 521.8L781 523.4L777 525ZM1376.4 521.8L1372.4 523.4L1376.4 525ZM1294.9 613.4L1296.5 609.4L1298.1 613.4ZM1294.9 13.6L1296.5 17.6L1298.1 13.6ZM777 531.8L781 533.4L777 535ZM1376.4 531.8L1372.4 533.4L1376.4 535ZM1304.9 613.4L1306.5 609.4L1308.1 613.4ZM1304.9 13.6L1306.5 17.6L1308.1 13.6ZM777 541.8L781 543.4L777 545ZM1376.4 541.8L1372.4 543.4L1376.4 545ZM1314.9 613.4L1316.5 609.4L1318.1 613.4ZM1314.9 13.6L1316.5 17.6L1318.1 13.6ZM777 551.8L781 553.4L777 555ZM1376.4 551.8L1372.4 553.4L1376.4 555ZM1324.9 613.4L1326.5 609.4L1328 613.4ZM1324.9 13.6L1326.5 17.6L1328 13.6ZM777 561.8L781 563.4L777 565ZM1376.4 561.8L1372.4 563.4L1376.4 565ZM1334.8 613.4L1336.4 609.4L1338 613.4ZM1334.8 13.6L1336.4 17.6L1338 13.6ZM777 571.8L781 573.4L777 575ZM1376.4 571.8L1372.4 573.4L1376.4 575ZM1344.8 613.4L1346.4 609.4L1348 613.4ZM1344.8 13.6L1346.4 17.6L1348 13.6ZM777 581.8L781 583.4L777 585ZM1376.4 581.8L1372.4 583.4L1376.4 585ZM1354.8 613.4L1356.4 609.4L1358 613.4ZM1354.8 13.6L1356.4 17.6L1358 13.6ZM777 591.8L781 593.4L777 595ZM1376.4 591.8L1372.4 593.4L1376.4 595ZM1364.8 613.4L1366.4 609.4L1368 613.4ZM1364.8 13.6L1366.4 17.6L1368 13.6ZM777 601.8L781 603.4L777 605ZM1376.4 601.8L1372.4 603.4L1376.4 605Z" fill="#000" stroke="#000" stroke-width="0.5" stroke-linejoin="round"/><path d="M876.9 613.4v-6.5M876.9 13.6v6.5M777 113.6h6.5M1376.4 113.6h-6.5M976.8 613.4v-6.5M976.8 13.6v6.5M777 213.5h6.5M1376.4 213.5h-6.5M1076.7 613.4v-6.5M1076.7 13.6v6.5M777 313.5h6.5M1376.4 313.5h-6.5M1176.6 613.4v-6.5M1176.6 13.6v6.5M777 413.5h6.5M1376.4 413.5h-6.5M1276.5 613.4v-6.5M1276.5 13.6v6.5M777 513.4h6.5M1376.4 513.4h-6.5" stroke="#000" stroke-width="2.0" fill="none"/><g font-family="Liberation Serif" font-size="19" fill="#151515" stroke="#151515" stroke-width="0.4"><text x="777" y="640.2" text-anchor="middle">-12</text><text x="876.9" y="640.2" text-anchor="middle">-8</text><text x="976.8" y="640.2" text-anchor="middle">-4</text><text x="1076.7" y="640.2" text-anchor="middle">0</text><text x="1176.6" y="640.2" text-anchor="middle">4</text><text x="1276.5" y="640.2" text-anchor="middle">8</text><text x="1376.4" y="640.2" text-anchor="middle">12</text><text x="769.5" y="20.6" text-anchor="end">-12</text><text x="769.5" y="120.6" text-anchor="end">-8</text><text x="769.5" y="220.5" text-anchor="end">-4</text><text x="769.5" y="320.5" text-anchor="end">0</text><text x="769.5" y="420.5" text-anchor="end">4</text><text x="769.5" y="520.4" text-anchor="end">8</text><text x="769.5" y="620.4" text-anchor="end">12</text><text x="1076.7" y="672.9" text-anchor="middle" font-size="28.5" fill="#1a1a1a" stroke="#1a1a1a" stroke-width="0.55">x/w</text><text transform="translate(731.5 313.5) rotate(-90)" text-anchor="middle" font-size="28.5" fill="#1a1a1a" stroke="#1a1a1a" stroke-width="0.55">y/w</text></g><text x="787.5" y="75.5" font-family="Liberation Serif" font-size="62" fill="#fff">(b)</text><rect x="74" y="723" width="597.2" height="599.2" fill="#0000D6"/><path d="M104 1006.4Q109 1007.2 114 1008.2" fill="none" stroke="#20a8e0" stroke-opacity="0.85" stroke-width="2.2" stroke-linecap="round"/><linearGradient id="gc1" gradientUnits="userSpaceOnUse" x1="113.9" y1="1007.7" x2="482.2" y2="931.7"><stop offset="0" stop-color="#50e818"/><stop offset="0.08" stop-color="#22ee22"/><stop offset="0.5" stop-color="#20ea50"/><stop offset="0.7" stop-color="#20e0b0"/><stop offset="0.9" stop-color="#30c8e8"/><stop offset="1" stop-color="#3090ff"/></linearGradient><path d="M114.6 1009.8 117.8 1009.5 121 1009.2 124.1 1008.5 127.1 1007.5 130.1 1006.5 133.1 1005.5 136.1 1004.5 139.1 1003.5 142.1 1002.5 145.1 1001.5 148.1 1000.5 151.1 999.6 154.1 998.6 157.1 997.6 160.1 996.6 163.1 995.6 166.1 994.6 169.2 993.6 172.2 992.6 175.2 991.6 178.2 990.7 181.2 989.7 184.3 988.7 187.3 987.7 190.3 986.7 193.4 985.8 196.4 984.8 199.4 983.8 202.5 982.9 205.5 981.9 208.5 981 211.6 980 214.6 979.1 217.7 978.1 220.7 977.2 223.8 976.3 226.8 975.3 229.8 974.4 232.9 973.5 236 972.6 239 971.7 242.1 970.8 245.1 969.9 248.2 969 251.2 968.1 254.3 967.2 257.4 966.4 260.4 965.5 263.5 964.6 266.6 963.8 269.7 963 272.7 962.1 275.8 961.3 278.9 960.5 282 959.7 285 958.9 288.1 958.1 291.2 957.3 294.3 956.5 297.4 955.8 300.5 955 303.5 954.3 306.6 953.6 309.7 952.8 312.8 952.1 315.9 951.4 319 950.7 322.1 950 325.2 949.4 328.3 948.7 331.4 948.1 334.5 947.4 337.6 946.8 340.7 946.2 343.8 945.6 347 945 350.1 944.4 353.2 943.9 356.3 943.3 359.4 942.8 362.5 942.3 365.7 941.8 368.8 941.3 371.9 940.8 375 940.3 378.1 939.9 381.3 939.4 384.4 939 387.5 938.6 390.7 938.2 393.8 937.8 396.9 937.4 400.1 937.1 403.2 936.8 406.3 936.5 409.5 936.2 412.6 935.9 415.8 935.6 418.9 935.3 422.1 935.1 425.2 934.9 428.4 934.7 431.5 934.5 434.7 934.4 437.8 934.2 441 934.1 444.1 934 447.3 933.9 450.4 933.8 453.6 933.8 456.8 933.7 459.9 933.7 463.1 933.7 466.2 933.7 469.4 933.4 472.6 932.9 475.8 932.5 479 932.2 482.2 932.3 L482.2 931.1 479 931 475.9 930.4 472.7 929.8 469.5 929.2 466.3 928.7 463.1 928.7 459.9 928.6 456.7 928.6 453.5 928.6 450.3 928.7 447.2 928.7 444 928.8 440.8 928.9 437.6 929 434.4 929.1 431.2 929.2 428.1 929.4 424.9 929.6 421.7 929.8 418.5 930 415.3 930.2 412.2 930.5 409 930.7 405.8 931 402.7 931.3 399.5 931.6 396.3 931.9 393.2 932.3 390 932.6 386.8 933 383.7 933.4 380.5 933.8 377.4 934.2 374.2 934.6 371.1 935.1 367.9 935.6 364.8 936 361.6 936.5 358.5 937 355.3 937.5 352.2 938.1 349 938.6 345.9 939.2 342.8 939.7 339.6 940.3 336.5 940.9 333.3 941.5 330.2 942.1 327.1 942.8 324 943.4 320.8 944 317.7 944.7 314.6 945.4 311.5 946.1 308.3 946.8 305.2 947.5 302.1 948.2 299 948.9 295.9 949.6 292.8 950.4 289.7 951.1 286.6 951.9 283.5 952.7 280.4 953.4 277.3 954.2 274.2 955 271.1 955.8 268 956.6 264.9 957.5 261.8 958.3 258.7 959.1 255.6 960 252.5 960.8 249.4 961.7 246.3 962.5 243.3 963.4 240.2 964.3 237.1 965.2 234 966 231 966.9 227.9 967.8 224.8 968.7 221.8 969.6 218.7 970.6 215.6 971.5 212.6 972.4 209.5 973.3 206.5 974.3 203.4 975.2 200.3 976.1 197.3 977.1 194.2 978 191.2 979 188.2 979.9 185.1 980.9 182.1 981.8 179 982.8 176 983.7 173 984.7 169.9 985.7 166.9 986.6 163.9 987.6 160.8 988.6 157.8 989.5 154.8 990.5 151.8 991.5 148.8 992.4 145.7 993.4 142.7 994.4 139.7 995.3 136.7 996.3 133.7 997.3 130.7 998.3 127.7 999.2 124.7 1000.2 121.7 1001.2 118.8 1002.4 116 1004 113.2 1005.7Z" fill="#18c0e0" fill-opacity="0.6" stroke="#1880f0" stroke-opacity="0.3" stroke-width="0.8" stroke-linejoin="round"/><path d="M114.4 1009.2 117.5 1008.7 120.7 1008.2 123.7 1007.4 126.7 1006.4 129.7 1005.4 132.7 1004.4 135.7 1003.4 138.7 1002.4 141.7 1001.4 144.7 1000.4 147.7 999.5 150.7 998.5 153.7 997.5 156.7 996.5 159.8 995.5 162.8 994.5 165.8 993.5 168.8 992.5 171.8 991.6 174.9 990.6 177.9 989.6 180.9 988.6 183.9 987.6 187 986.7 190 985.7 193 984.7 196.1 983.8 199.1 982.8 202.1 981.8 205.2 980.9 208.2 979.9 211.3 979 214.3 978 217.3 977.1 220.4 976.2 223.4 975.2 226.5 974.3 229.6 973.4 232.6 972.5 235.7 971.6 238.7 970.7 241.8 969.8 244.8 968.9 247.9 968 251 967.1 254 966.2 257.1 965.4 260.2 964.5 263.2 963.7 266.3 962.8 269.4 962 272.5 961.2 275.6 960.3 278.6 959.5 281.7 958.7 284.8 957.9 287.9 957.1 291 956.4 294.1 955.6 297.1 954.8 300.2 954.1 303.3 953.4 306.4 952.6 309.5 951.9 312.6 951.2 315.7 950.5 318.8 949.8 321.9 949.1 325 948.5 328.1 947.8 331.2 947.2 334.3 946.5 337.5 945.9 340.6 945.3 343.7 944.7 346.8 944.1 349.9 943.5 353 943 356.1 942.4 359.3 941.9 362.4 941.4 365.5 940.9 368.6 940.4 371.8 939.9 374.9 939.4 378 939 381.2 938.6 384.3 938.1 387.4 937.7 390.6 937.3 393.7 937 396.8 936.6 400 936.3 403.1 935.9 406.3 935.6 409.4 935.3 412.6 935 415.7 934.8 418.8 934.5 422 934.3 425.2 934.1 428.3 933.9 431.5 933.7 434.6 933.6 437.8 933.4 440.9 933.3 444.1 933.2 447.3 933.1 450.4 933 453.6 933 456.8 932.9 459.9 932.9 463.1 932.9 466.3 933 469.4 932.7 472.6 932.4 475.8 932.2 479 932 482.2 932.1 L482.2 931.3 479 931.1 475.9 930.7 472.7 930.3 469.5 929.8 466.3 929.5 463.1 929.4 459.9 929.4 456.7 929.4 453.5 929.4 450.4 929.5 447.2 929.5 444 929.6 440.8 929.7 437.6 929.8 434.5 929.9 431.3 930 428.1 930.2 424.9 930.4 421.7 930.6 418.6 930.8 415.4 931 412.2 931.3 409.1 931.5 405.9 931.8 402.7 932.1 399.6 932.4 396.4 932.8 393.3 933.1 390.1 933.5 386.9 933.9 383.8 934.3 380.6 934.7 377.5 935.1 374.3 935.5 371.2 936 368 936.4 364.9 936.9 361.7 937.4 358.6 937.9 355.5 938.4 352.3 939 349.2 939.5 346.1 940.1 342.9 940.6 339.8 941.2 336.7 941.8 333.5 942.4 330.4 943 327.3 943.7 324.2 944.3 321 945 317.9 945.6 314.8 946.3 311.7 947 308.6 947.7 305.4 948.4 302.3 949.1 299.2 949.8 296.1 950.6 293 951.3 289.9 952.1 286.8 952.8 283.7 953.6 280.6 954.4 277.5 955.2 274.4 956 271.3 956.8 268.2 957.6 265.1 958.4 262 959.3 259 960.1 255.9 960.9 252.8 961.8 249.7 962.7 246.6 963.5 243.6 964.4 240.5 965.3 237.4 966.1 234.3 967 231.3 967.9 228.2 968.8 225.1 969.7 222.1 970.7 219 971.6 215.9 972.5 212.9 973.4 209.8 974.3 206.8 975.3 203.7 976.2 200.7 977.2 197.6 978.1 194.6 979 191.5 980 188.5 981 185.4 981.9 182.4 982.9 179.4 983.8 176.3 984.8 173.3 985.8 170.3 986.7 167.2 987.7 164.2 988.7 161.2 989.6 158.2 990.6 155.1 991.6 152.1 992.6 149.1 993.5 146.1 994.5 143.1 995.5 140.1 996.4 137.1 997.4 134.1 998.4 131.1 999.4 128.1 1000.3 125.1 1001.3 122.1 1002.3 119.1 1003.4 116.3 1004.9 113.5 1006.3Z" fill="url(#gc1)" stroke="url(#gc1)" stroke-width="0.6" stroke-linejoin="round"/><linearGradient id="gc2" gradientUnits="userSpaceOnUse" x1="220.4" y1="1025.2" x2="625.5" y2="1010.5"><stop offset="0" stop-color="#2090f0"/><stop offset="0.1" stop-color="#20c0e8"/><stop offset="0.3" stop-color="#20d8c8"/><stop offset="0.5" stop-color="#20e890"/><stop offset="0.7" stop-color="#20ee50"/><stop offset="1" stop-color="#30e838"/></linearGradient><path d="M220.5 1026.7 224 1026.9 227.4 1027.2 230.8 1027.1 234.2 1026.9 237.6 1026.7 241 1026.5 244.4 1026.3 247.8 1026.1 251.2 1025.9 254.6 1025.7 258 1025.6 261.4 1025.4 264.8 1025.2 268.2 1025.1 271.6 1024.9 275 1024.8 278.4 1024.6 281.8 1024.5 285.2 1024.4 288.6 1024.2 292 1024.1 295.4 1024 298.8 1023.8 302.2 1023.7 305.6 1023.6 309 1023.5 312.4 1023.4 315.8 1023.3 319.3 1023.1 322.7 1023 326.1 1022.9 329.5 1022.8 332.9 1022.7 336.3 1022.6 339.7 1022.5 343.1 1022.4 346.5 1022.3 350 1022.2 353.4 1022.1 356.8 1022 360.2 1021.9 363.6 1021.7 367 1021.6 370.4 1021.5 373.8 1021.4 377.3 1021.3 380.7 1021.2 384.1 1021 387.5 1020.9 390.9 1020.8 394.3 1020.6 397.8 1020.5 401.2 1020.3 404.6 1020.2 408 1020 411.4 1019.9 414.8 1019.7 418.2 1019.6 421.7 1019.4 425.1 1019.2 428.5 1019 431.9 1018.8 435.3 1018.6 438.7 1018.4 442.2 1018.2 445.6 1018 449 1017.8 452.4 1017.5 455.8 1017.3 459.2 1017 462.6 1016.8 466.1 1016.5 469.5 1016.2 472.9 1016 476.3 1015.7 479.7 1015.4 483.1 1015.1 486.5 1014.8 489.9 1014.4 493.4 1014.1 496.8 1013.8 500.2 1013.5 503.6 1013.2 507 1012.9 510.4 1012.6 513.8 1012.3 517.2 1012 520.6 1011.7 524 1011.4 527.4 1011.1 530.7 1010.9 534.1 1010.6 537.5 1010.4 540.9 1010.2 544.3 1010 547.7 1009.8 551.1 1009.6 554.5 1009.5 557.8 1009.3 561.2 1009.2 564.6 1009.1 568 1009.1 571.4 1009 574.7 1009 578.1 1009 581.5 1009.1 584.9 1009.1 588.2 1009.3 591.6 1009.4 595 1009.6 598.3 1009.8 601.7 1010 605 1010.3 608.4 1010.6 611.8 1010.6 615.2 1010.5 618.7 1010.4 622.1 1010.5 625.5 1011.1 L625.6 1009.9 622.3 1009.4 618.9 1008.5 615.6 1007.6 612.2 1006.7 608.9 1006 605.5 1005.7 602 1005.4 598.6 1005.1 595.2 1004.9 591.8 1004.7 588.4 1004.6 585 1004.5 581.6 1004.4 578.2 1004.4 574.7 1004.3 571.3 1004.3 567.9 1004.4 564.5 1004.4 561.1 1004.5 557.7 1004.6 554.3 1004.7 550.9 1004.9 547.5 1005.1 544 1005.2 540.6 1005.4 537.2 1005.7 533.8 1005.9 530.4 1006.1 527 1006.4 523.6 1006.7 520.2 1006.9 516.8 1007.2 513.4 1007.5 509.9 1007.8 506.5 1008.1 503.1 1008.4 499.7 1008.7 496.3 1009 492.9 1009.3 489.5 1009.7 486.1 1010 482.7 1010.3 479.3 1010.6 475.9 1010.9 472.5 1011.1 469.1 1011.4 465.7 1011.7 462.3 1012 458.9 1012.2 455.5 1012.5 452.1 1012.7 448.7 1012.9 445.3 1013.1 441.9 1013.3 438.4 1013.6 435 1013.8 431.6 1013.9 428.2 1014.1 424.8 1014.3 421.4 1014.5 418 1014.7 414.6 1014.8 411.2 1015 407.8 1015.1 404.4 1015.3 401 1015.4 397.6 1015.6 394.1 1015.7 390.7 1015.8 387.3 1016 383.9 1016.1 380.5 1016.2 377.1 1016.3 373.7 1016.4 370.3 1016.5 366.9 1016.7 363.4 1016.8 360 1016.9 356.6 1017 353.2 1017.1 349.8 1017.2 346.4 1017.3 343 1017.4 339.6 1017.5 336.2 1017.6 332.7 1017.7 329.3 1017.8 325.9 1017.9 322.5 1018 319.1 1018.1 315.7 1018.2 312.3 1018.3 308.9 1018.4 305.5 1018.5 302 1018.7 298.6 1018.8 295.2 1018.9 291.8 1019 288.4 1019.1 285 1019.3 281.6 1019.4 278.2 1019.5 274.8 1019.7 271.4 1019.8 267.9 1020 264.5 1020.1 261.1 1020.3 257.7 1020.4 254.3 1020.6 250.9 1020.8 247.5 1021 244.1 1021.1 240.7 1021.3 237.3 1021.5 233.9 1021.7 230.5 1022 227.1 1022.4 223.7 1023.1 220.3 1023.8Z" fill="#18c0e0" fill-opacity="0.6" stroke="#1880f0" stroke-opacity="0.3" stroke-width="0.8" stroke-linejoin="round"/><path d="M220.5 1026.2 223.9 1026.3 227.3 1026.4 230.7 1026.3 234.1 1026.1 237.5 1025.9 240.9 1025.7 244.3 1025.5 247.7 1025.3 251.1 1025.1 254.5 1025 257.9 1024.8 261.3 1024.6 264.7 1024.4 268.1 1024.3 271.5 1024.1 274.9 1024 278.3 1023.8 281.8 1023.7 285.2 1023.6 288.6 1023.4 292 1023.3 295.4 1023.2 298.8 1023.1 302.2 1022.9 305.6 1022.8 309 1022.7 312.4 1022.6 315.8 1022.5 319.2 1022.4 322.6 1022.3 326.1 1022.2 329.5 1022.1 332.9 1022 336.3 1021.8 339.7 1021.7 343.1 1021.6 346.5 1021.5 349.9 1021.4 353.3 1021.3 356.8 1021.2 360.2 1021.1 363.6 1021 367 1020.9 370.4 1020.8 373.8 1020.6 377.2 1020.5 380.7 1020.4 384.1 1020.3 387.5 1020.1 390.9 1020 394.3 1019.9 397.7 1019.7 401.1 1019.6 404.6 1019.4 408 1019.3 411.4 1019.1 414.8 1019 418.2 1018.8 421.6 1018.6 425 1018.5 428.5 1018.3 431.9 1018.1 435.3 1017.9 438.7 1017.7 442.1 1017.5 445.5 1017.2 448.9 1017 452.4 1016.8 455.8 1016.5 459.2 1016.3 462.6 1016 466 1015.8 469.4 1015.5 472.8 1015.2 476.2 1014.9 479.7 1014.6 483.1 1014.3 486.5 1014 489.9 1013.7 493.3 1013.4 496.7 1013.1 500.1 1012.8 503.5 1012.5 506.9 1012.1 510.3 1011.8 513.7 1011.5 517.1 1011.2 520.5 1011 523.9 1010.7 527.3 1010.4 530.7 1010.1 534.1 1009.9 537.5 1009.7 540.9 1009.4 544.3 1009.2 547.7 1009.1 551 1008.9 554.4 1008.7 557.8 1008.6 561.2 1008.5 564.6 1008.4 568 1008.3 571.4 1008.3 574.7 1008.3 578.1 1008.3 581.5 1008.4 584.9 1008.4 588.2 1008.5 591.6 1008.7 595 1008.8 598.4 1009.1 601.7 1009.3 605.1 1009.6 608.5 1009.9 611.9 1010 615.3 1010 618.7 1010.1 622.1 1010.4 625.5 1010.9 L625.6 1010.1 622.2 1009.6 618.9 1008.8 615.5 1008 612.2 1007.3 608.8 1006.7 605.4 1006.4 602 1006.1 598.6 1005.8 595.2 1005.6 591.8 1005.4 588.4 1005.3 585 1005.2 581.6 1005.1 578.1 1005.1 574.7 1005.1 571.3 1005.1 567.9 1005.1 564.5 1005.2 561.1 1005.2 557.7 1005.3 554.3 1005.5 550.9 1005.6 547.5 1005.8 544.1 1006 540.7 1006.2 537.3 1006.4 533.9 1006.6 530.5 1006.9 527 1007.1 523.6 1007.4 520.2 1007.7 516.8 1007.9 513.4 1008.2 510 1008.5 506.6 1008.8 503.2 1009.1 499.8 1009.5 496.4 1009.8 493 1010.1 489.6 1010.4 486.2 1010.7 482.8 1011 479.4 1011.3 476 1011.6 472.6 1011.9 469.1 1012.2 465.7 1012.4 462.3 1012.7 458.9 1012.9 455.5 1013.2 452.1 1013.4 448.7 1013.7 445.3 1013.9 441.9 1014.1 438.5 1014.3 435.1 1014.5 431.7 1014.7 428.3 1014.9 424.9 1015.1 421.5 1015.2 418 1015.4 414.6 1015.6 411.2 1015.7 407.8 1015.9 404.4 1016 401 1016.2 397.6 1016.3 394.2 1016.4 390.8 1016.6 387.3 1016.7 383.9 1016.8 380.5 1017 377.1 1017.1 373.7 1017.2 370.3 1017.3 366.9 1017.4 363.5 1017.5 360.1 1017.6 356.6 1017.7 353.2 1017.8 349.8 1018 346.4 1018.1 343 1018.2 339.6 1018.3 336.2 1018.4 332.8 1018.5 329.4 1018.6 325.9 1018.7 322.5 1018.8 319.1 1018.9 315.7 1019 312.3 1019.1 308.9 1019.2 305.5 1019.3 302.1 1019.4 298.7 1019.5 295.2 1019.7 291.8 1019.8 288.4 1019.9 285 1020 281.6 1020.2 278.2 1020.3 274.8 1020.4 271.4 1020.6 268 1020.7 264.6 1020.9 261.2 1021.1 257.8 1021.2 254.3 1021.4 250.9 1021.6 247.5 1021.7 244.1 1021.9 240.7 1022.1 237.3 1022.3 233.9 1022.5 230.5 1022.8 227.1 1023.1 223.7 1023.7 220.4 1024.2Z" fill="url(#gc2)" stroke="url(#gc2)" stroke-width="0.6" stroke-linejoin="round"/><linearGradient id="gc3" gradientUnits="userSpaceOnUse" x1="623.8" y1="1031.1" x2="668.1" y2="1113"><stop offset="0" stop-color="#20e860"/><stop offset="0.35" stop-color="#20d8c8"/><stop offset="0.7" stop-color="#20b0f0"/><stop offset="1" stop-color="#2060ff"/></linearGradient><path d="M622.8 1032.2 623 1033.1 623.2 1034 623.6 1034.7 624.2 1035.3 624.7 1035.8 625.3 1036.4 625.8 1037 626.3 1037.5 626.9 1038.1 627.4 1038.7 627.9 1039.2 628.4 1039.8 628.9 1040.4 629.5 1041 630 1041.6 630.5 1042.2 630.9 1042.8 631.4 1043.4 631.9 1044 632.4 1044.6 632.9 1045.2 633.4 1045.8 633.8 1046.4 634.3 1047 634.8 1047.6 635.2 1048.3 635.7 1048.9 636.1 1049.5 636.6 1050.1 637 1050.8 637.4 1051.4 637.9 1052 638.3 1052.7 638.7 1053.3 639.2 1054 639.6 1054.6 640 1055.3 640.4 1055.9 640.8 1056.6 641.2 1057.2 641.6 1057.9 642 1058.5 642.4 1059.2 642.8 1059.9 643.2 1060.5 643.6 1061.2 644 1061.9 644.3 1062.6 644.7 1063.2 645.1 1063.9 645.5 1064.6 645.8 1065.3 646.2 1065.9 646.6 1066.6 646.9 1067.3 647.3 1068 647.6 1068.7 648 1069.4 648.4 1070.1 648.7 1070.8 649 1071.5 649.4 1072.2 649.7 1072.9 650.1 1073.6 650.4 1074.3 650.7 1075 651.1 1075.7 651.4 1076.4 651.7 1077.1 652.1 1077.8 652.4 1078.5 652.7 1079.2 653 1080 653.4 1080.7 653.7 1081.4 654 1082.1 654.3 1082.8 654.6 1083.5 654.9 1084.3 655.2 1085 655.5 1085.7 655.9 1086.4 656.2 1087.2 656.5 1087.9 656.8 1088.6 657.1 1089.3 657.4 1090.1 657.7 1090.8 658 1091.5 658.3 1092.3 658.6 1093 658.9 1093.7 659.1 1094.5 659.4 1095.2 659.7 1095.9 660 1096.7 660.3 1097.4 660.6 1098.1 660.9 1098.9 661.2 1099.6 661.5 1100.3 661.8 1101.1 662.1 1101.8 662.3 1102.5 662.6 1103.3 662.9 1104 663.2 1104.7 663.5 1105.5 663.8 1106.2 664.1 1107 664.4 1107.7 664.6 1108.4 664.9 1109.2 665.2 1109.9 665.8 1110.6 666.4 1111.2 667 1111.8 667.5 1112.4 667.8 1113.2 L668.5 1112.9 668.2 1112.2 668.2 1111.3 668.3 1110.5 668.3 1109.6 668.3 1108.8 668 1108 667.7 1107.3 667.5 1106.5 667.2 1105.8 666.9 1105 666.7 1104.3 666.4 1103.6 666.1 1102.8 665.9 1102.1 665.6 1101.3 665.3 1100.6 665 1099.8 664.8 1099.1 664.5 1098.3 664.2 1097.6 663.9 1096.8 663.7 1096.1 663.4 1095.4 663.1 1094.6 662.8 1093.9 662.6 1093.1 662.3 1092.4 662 1091.6 661.7 1090.9 661.5 1090.2 661.2 1089.4 660.9 1088.7 660.6 1087.9 660.3 1087.2 660 1086.4 659.7 1085.7 659.4 1085 659.2 1084.2 658.9 1083.5 658.6 1082.8 658.3 1082 658 1081.3 657.7 1080.5 657.4 1079.8 657.1 1079.1 656.8 1078.3 656.4 1077.6 656.1 1076.9 655.8 1076.1 655.5 1075.4 655.2 1074.7 654.9 1074 654.6 1073.2 654.2 1072.5 653.9 1071.8 653.6 1071.1 653.3 1070.3 652.9 1069.6 652.6 1068.9 652.2 1068.2 651.9 1067.5 651.6 1066.8 651.2 1066 650.9 1065.3 650.5 1064.6 650.2 1063.9 649.8 1063.2 649.4 1062.5 649.1 1061.8 648.7 1061.1 648.3 1060.4 648 1059.7 647.6 1059 647.2 1058.3 646.8 1057.6 646.4 1056.9 646 1056.2 645.6 1055.5 645.2 1054.8 644.8 1054.1 644.4 1053.4 644 1052.8 643.6 1052.1 643.2 1051.4 642.8 1050.7 642.4 1050 641.9 1049.4 641.5 1048.7 641.1 1048 640.6 1047.4 640.2 1046.7 639.7 1046 639.3 1045.4 638.8 1044.7 638.3 1044.1 637.9 1043.4 637.4 1042.8 636.9 1042.1 636.4 1041.5 635.9 1040.8 635.5 1040.2 635 1039.6 634.5 1038.9 633.9 1038.3 633.4 1037.7 632.9 1037 632.4 1036.4 631.9 1035.8 631.3 1035.2 630.8 1034.6 630.3 1033.9 629.7 1033.3 629.2 1032.7 628.6 1032.1 628 1031.5 627.5 1030.9 626.7 1030.5 625.8 1030.2 624.9 1030Z" fill="#18c0e0" fill-opacity="0.6" stroke="#1880f0" stroke-opacity="0.3" stroke-width="0.8" stroke-linejoin="round"/><path d="M623.1 1031.9 623.4 1032.7 623.7 1033.5 624.2 1034.1 624.8 1034.7 625.3 1035.3 625.9 1035.8 626.4 1036.4 626.9 1037 627.5 1037.6 628 1038.1 628.5 1038.7 629 1039.3 629.6 1039.9 630.1 1040.5 630.6 1041.1 631.1 1041.7 631.6 1042.3 632.1 1042.9 632.5 1043.5 633 1044.1 633.5 1044.7 634 1045.3 634.4 1046 634.9 1046.6 635.4 1047.2 635.8 1047.8 636.3 1048.5 636.7 1049.1 637.2 1049.7 637.6 1050.4 638.1 1051 638.5 1051.6 638.9 1052.3 639.3 1052.9 639.8 1053.6 640.2 1054.2 640.6 1054.9 641 1055.5 641.4 1056.2 641.8 1056.9 642.2 1057.5 642.6 1058.2 643 1058.9 643.4 1059.5 643.8 1060.2 644.2 1060.9 644.6 1061.5 645 1062.2 645.3 1062.9 645.7 1063.6 646.1 1064.3 646.4 1064.9 646.8 1065.6 647.2 1066.3 647.5 1067 647.9 1067.7 648.2 1068.4 648.6 1069.1 648.9 1069.8 649.3 1070.5 649.6 1071.2 650 1071.9 650.3 1072.6 650.7 1073.3 651 1074 651.3 1074.7 651.7 1075.4 652 1076.1 652.3 1076.8 652.6 1077.6 653 1078.3 653.3 1079 653.6 1079.7 653.9 1080.4 654.2 1081.1 654.5 1081.9 654.9 1082.6 655.2 1083.3 655.5 1084 655.8 1084.8 656.1 1085.5 656.4 1086.2 656.7 1086.9 657 1087.7 657.3 1088.4 657.6 1089.1 657.9 1089.9 658.2 1090.6 658.5 1091.3 658.8 1092 659.1 1092.8 659.4 1093.5 659.7 1094.2 660 1095 660.3 1095.7 660.5 1096.5 660.8 1097.2 661.1 1097.9 661.4 1098.7 661.7 1099.4 662 1100.1 662.3 1100.9 662.6 1101.6 662.8 1102.4 663.1 1103.1 663.4 1103.8 663.7 1104.6 664 1105.3 664.3 1106 664.5 1106.8 664.8 1107.5 665.1 1108.3 665.4 1109 665.7 1109.7 666.1 1110.4 666.6 1111.1 667.1 1111.7 667.6 1112.4 667.9 1113.1 L668.4 1112.9 668.1 1112.2 668 1111.4 668 1110.6 667.9 1109.7 667.8 1108.9 667.5 1108.2 667.3 1107.5 667 1106.7 666.7 1106 666.4 1105.2 666.2 1104.5 665.9 1103.7 665.6 1103 665.4 1102.2 665.1 1101.5 664.8 1100.8 664.5 1100 664.3 1099.3 664 1098.5 663.7 1097.8 663.4 1097 663.2 1096.3 662.9 1095.6 662.6 1094.8 662.3 1094.1 662 1093.3 661.8 1092.6 661.5 1091.8 661.2 1091.1 660.9 1090.4 660.6 1089.6 660.3 1088.9 660.1 1088.1 659.8 1087.4 659.5 1086.7 659.2 1085.9 658.9 1085.2 658.6 1084.5 658.3 1083.7 658 1083 657.7 1082.2 657.4 1081.5 657.1 1080.8 656.8 1080 656.5 1079.3 656.2 1078.6 655.9 1077.9 655.6 1077.1 655.3 1076.4 654.9 1075.7 654.6 1075 654.3 1074.2 654 1073.5 653.7 1072.8 653.3 1072.1 653 1071.3 652.7 1070.6 652.3 1069.9 652 1069.2 651.6 1068.5 651.3 1067.8 651 1067 650.6 1066.3 650.3 1065.6 649.9 1064.9 649.6 1064.2 649.2 1063.5 648.8 1062.8 648.5 1062.1 648.1 1061.4 647.7 1060.7 647.4 1060 647 1059.3 646.6 1058.6 646.2 1057.9 645.8 1057.2 645.4 1056.6 645 1055.9 644.6 1055.2 644.2 1054.5 643.8 1053.8 643.4 1053.1 643 1052.5 642.6 1051.8 642.2 1051.1 641.7 1050.5 641.3 1049.8 640.9 1049.1 640.4 1048.5 640 1047.8 639.5 1047.1 639.1 1046.5 638.6 1045.8 638.2 1045.2 637.7 1044.5 637.2 1043.9 636.8 1043.2 636.3 1042.6 635.8 1041.9 635.3 1041.3 634.8 1040.7 634.3 1040 633.8 1039.4 633.3 1038.8 632.8 1038.2 632.3 1037.5 631.8 1036.9 631.3 1036.3 630.7 1035.7 630.2 1035.1 629.7 1034.5 629.1 1033.9 628.6 1033.3 628 1032.7 627.4 1032.1 626.9 1031.5 626.2 1031 625.4 1030.7 624.5 1030.4Z" fill="url(#gc3)" stroke="url(#gc3)" stroke-width="0.6" stroke-linejoin="round"/><path d="M74 1009.6H111.6A12.2 12.2 0 0 1 111.6 1034H74Z" fill="#fffff8" stroke="#000028" stroke-opacity="0.55" stroke-width="1.3"/><path d="M671.2 1009.6H634.9A12.2 12.2 0 0 0 634.9 1034H671.2Z" fill="#fffff8" stroke="#000028" stroke-opacity="0.55" stroke-width="1.3"/><line x1="125.8" y1="1024.7" x2="219.8" y2="1024.7" stroke="#fff" stroke-width="3.4" stroke-dasharray="12.8 5.3"/><path d="M214.3 993Q217.5 999 217.8 1008" stroke="#fff" stroke-width="2.6" fill="none"/><path d="M208.4 982.1L223.2 992.3L214.5 993.2L210.6 997.6Z" fill="#fff"/><path d="M210.2 1004.8Q218 1008.8 226.4 1003.4L219.1 1019.6Z" fill="#fff"/><text x="238.5" y="1003.5" font-family="Liberation Sans" font-size="21" fill="#fff" textLength="105" lengthAdjust="spacingAndGlyphs">θ=14.25 °</text><rect x="547" y="733.3" width="115.5" height="224.6" fill="#fff"/><rect x="551.5" y="780.8" width="21.5" height="14.6" fill="#ff0000"/><rect x="551.5" y="795.1" width="21.5" height="14.6" fill="#ff5d00"/><rect x="551.5" y="809.3" width="21.5" height="14.6" fill="#ffb900"/><rect x="551.5" y="823.6" width="21.5" height="14.6" fill="#e8ff00"/><rect x="551.5" y="837.9" width="21.5" height="14.6" fill="#8bff00"/><rect x="551.5" y="852.1" width="21.5" height="14.6" fill="#2eff00"/><rect x="551.5" y="866.4" width="21.5" height="14.6" fill="#00ff2e"/><rect x="551.5" y="880.7" width="21.5" height="14.6" fill="#00ff8b"/><rect x="551.5" y="894.9" width="21.5" height="14.6" fill="#00ffe8"/><rect x="551.5" y="909.2" width="21.5" height="14.6" fill="#00b9ff"/><rect x="551.5" y="923.5" width="21.5" height="14.6" fill="#005dff"/><rect x="551.5" y="937.7" width="21.5" height="14.6" fill="#0000ff"/><path d="M551.5 795.1H573M551.5 809.3H573M551.5 823.6H573M551.5 837.9H573M551.5 852.1H573M551.5 866.4H573M551.5 880.7H573M551.5 894.9H573M551.5 909.2H573M551.5 923.5H573M551.5 937.7H573" stroke="#000" stroke-opacity="0.22" stroke-width="1.2"/><path d="M573 780.8h5M573 795.1h5M573 809.3h5M573 823.6h5M573 837.9h5M573 852.1h5M573 866.4h5M573 880.7h5M573 894.9h5M573 909.2h5M573 923.5h5M573 937.7h5M573 952h5" stroke="#999" stroke-width="1"/><g font-family="Liberation Sans" fill="#262626" font-size="13" stroke="#333" stroke-width="0.2"><text x="551.5" y="747.9" fill="#444" textLength="34.5" lengthAdjust="spacingAndGlyphs">SDV1</text><text x="551.2" y="766.3" fill="#444" textLength="70" lengthAdjust="spacingAndGlyphs">(Avg: 75%)</text><text x="588.5" y="785.4" textLength="70" lengthAdjust="spacingAndGlyphs">+9.649e-01</text><text x="588.5" y="799.7" textLength="70" lengthAdjust="spacingAndGlyphs">+8.863e-01</text><text x="588.5" y="813.9" textLength="70" lengthAdjust="spacingAndGlyphs">+8.077e-01</text><text x="588.5" y="828.2" textLength="70" lengthAdjust="spacingAndGlyphs">+7.291e-01</text><text x="588.5" y="842.5" textLength="70" lengthAdjust="spacingAndGlyphs">+6.505e-01</text><text x="588.5" y="856.7" textLength="70" lengthAdjust="spacingAndGlyphs">+5.719e-01</text><text x="588.5" y="871" textLength="70" lengthAdjust="spacingAndGlyphs">+4.932e-01</text><text x="588.5" y="885.3" textLength="70" lengthAdjust="spacingAndGlyphs">+4.146e-01</text><text x="588.5" y="899.5" textLength="70" lengthAdjust="spacingAndGlyphs">+3.360e-01</text><text x="588.5" y="913.8" textLength="70" lengthAdjust="spacingAndGlyphs">+2.574e-01</text><text x="588.5" y="928.1" textLength="70" lengthAdjust="spacingAndGlyphs">+1.788e-01</text><text x="588.5" y="942.3" textLength="70" lengthAdjust="spacingAndGlyphs">+1.002e-01</text><text x="588.5" y="956.6" textLength="70" lengthAdjust="spacingAndGlyphs">+2.156e-02</text></g><g font-family="Liberation Serif" font-size="21.5" fill="#eef" stroke="#eef" stroke-width="0.5"><text x="460" y="756.5" textLength="79" lengthAdjust="spacing"><tspan font-style="italic">M</tspan><tspan font-style="italic" font-size="12" dy="-8">e</tspan><tspan dy="8"> = 0.0</tspan></text><text x="460" y="783.5" textLength="81" lengthAdjust="spacing"><tspan font-style="italic">ε</tspan> = 4.7%</text></g><rect x="74" y="723" width="597.2" height="599.2" fill="none" stroke="#000" stroke-width="2.6"/><path d="M82.4 1322.2L84 1318.2L85.6 1322.2ZM82.4 723L84 727L85.6 723ZM74 731.4L78 733L74 734.6ZM671.2 731.4L667.2 733L671.2 734.6ZM92.3 1322.2L93.9 1318.2L95.5 1322.2ZM92.3 723L93.9 727L95.5 723ZM74 741.4L78 743L74 744.6ZM671.2 741.4L667.2 743L671.2 744.6ZM102.3 1322.2L103.9 1318.2L105.5 1322.2ZM102.3 723L103.9 727L105.5 723ZM74 751.4L78 753L74 754.6ZM671.2 751.4L667.2 753L671.2 754.6ZM112.2 1322.2L113.8 1318.2L115.4 1322.2ZM112.2 723L113.8 727L115.4 723ZM74 761.3L78 762.9L74 764.5ZM671.2 761.3L667.2 762.9L671.2 764.5ZM122.2 1322.2L123.8 1318.2L125.4 1322.2ZM122.2 723L123.8 727L125.4 723ZM74 771.3L78 772.9L74 774.5ZM671.2 771.3L667.2 772.9L671.2 774.5ZM132.1 1322.2L133.7 1318.2L135.3 1322.2ZM132.1 723L133.7 727L135.3 723ZM74 781.3L78 782.9L74 784.5ZM671.2 781.3L667.2 782.9L671.2 784.5ZM142.1 1322.2L143.7 1318.2L145.3 1322.2ZM142.1 723L143.7 727L145.3 723ZM74 791.3L78 792.9L74 794.5ZM671.2 791.3L667.2 792.9L671.2 794.5ZM152 1322.2L153.6 1318.2L155.2 1322.2ZM152 723L153.6 727L155.2 723ZM74 801.3L78 802.9L74 804.5ZM671.2 801.3L667.2 802.9L671.2 804.5ZM162 1322.2L163.6 1318.2L165.2 1322.2ZM162 723L163.6 727L165.2 723ZM74 811.3L78 812.9L74 814.5ZM671.2 811.3L667.2 812.9L671.2 814.5ZM181.9 1322.2L183.5 1318.2L185.1 1322.2ZM181.9 723L183.5 727L185.1 723ZM74 831.3L78 832.9L74 834.5ZM671.2 831.3L667.2 832.9L671.2 834.5ZM191.8 1322.2L193.4 1318.2L195 1322.2ZM191.8 723L193.4 727L195 723ZM74 841.2L78 842.8L74 844.4ZM671.2 841.2L667.2 842.8L671.2 844.4ZM201.8 1322.2L203.4 1318.2L205 1322.2ZM201.8 723L203.4 727L205 723ZM74 851.2L78 852.8L74 854.4ZM671.2 851.2L667.2 852.8L671.2 854.4ZM211.7 1322.2L213.3 1318.2L214.9 1322.2ZM211.7 723L213.3 727L214.9 723ZM74 861.2L78 862.8L74 864.4ZM671.2 861.2L667.2 862.8L671.2 864.4ZM221.7 1322.2L223.3 1318.2L224.9 1322.2ZM221.7 723L223.3 727L224.9 723ZM74 871.2L78 872.8L74 874.4ZM671.2 871.2L667.2 872.8L671.2 874.4ZM231.7 1322.2L233.3 1318.2L234.9 1322.2ZM231.7 723L233.3 727L234.9 723ZM74 881.2L78 882.8L74 884.4ZM671.2 881.2L667.2 882.8L671.2 884.4ZM241.6 1322.2L243.2 1318.2L244.8 1322.2ZM241.6 723L243.2 727L244.8 723ZM74 891.2L78 892.8L74 894.4ZM671.2 891.2L667.2 892.8L671.2 894.4ZM251.6 1322.2L253.2 1318.2L254.8 1322.2ZM251.6 723L253.2 727L254.8 723ZM74 901.2L78 902.8L74 904.4ZM671.2 901.2L667.2 902.8L671.2 904.4ZM261.5 1322.2L263.1 1318.2L264.7 1322.2ZM261.5 723L263.1 727L264.7 723ZM74 911.1L78 912.7L74 914.3ZM671.2 911.1L667.2 912.7L671.2 914.3ZM281.4 1322.2L283 1318.2L284.6 1322.2ZM281.4 723L283 727L284.6 723ZM74 931.1L78 932.7L74 934.3ZM671.2 931.1L667.2 932.7L671.2 934.3ZM291.4 1322.2L293 1318.2L294.6 1322.2ZM291.4 723L293 727L294.6 723ZM74 941.1L78 942.7L74 944.3ZM671.2 941.1L667.2 942.7L671.2 944.3ZM301.3 1322.2L302.9 1318.2L304.5 1322.2ZM301.3 723L302.9 727L304.5 723ZM74 951.1L78 952.7L74 954.3ZM671.2 951.1L667.2 952.7L671.2 954.3ZM311.3 1322.2L312.9 1318.2L314.5 1322.2ZM311.3 723L312.9 727L314.5 723ZM74 961.1L78 962.7L74 964.3ZM671.2 961.1L667.2 962.7L671.2 964.3ZM321.2 1322.2L322.8 1318.2L324.4 1322.2ZM321.2 723L322.8 727L324.4 723ZM74 971.1L78 972.7L74 974.3ZM671.2 971.1L667.2 972.7L671.2 974.3ZM331.2 1322.2L332.8 1318.2L334.4 1322.2ZM331.2 723L332.8 727L334.4 723ZM74 981.1L78 982.7L74 984.3ZM671.2 981.1L667.2 982.7L671.2 984.3ZM341.1 1322.2L342.7 1318.2L344.3 1322.2ZM341.1 723L342.7 727L344.3 723ZM74 991L78 992.6L74 994.2ZM671.2 991L667.2 992.6L671.2 994.2ZM351.1 1322.2L352.7 1318.2L354.3 1322.2ZM351.1 723L352.7 727L354.3 723ZM74 1001L78 1002.6L74 1004.2ZM671.2 1001L667.2 1002.6L671.2 1004.2ZM361 1322.2L362.6 1318.2L364.2 1322.2ZM361 723L362.6 727L364.2 723ZM74 1011L78 1012.6L74 1014.2ZM671.2 1011L667.2 1012.6L671.2 1014.2ZM381 1322.2L382.6 1318.2L384.2 1322.2ZM381 723L382.6 727L384.2 723ZM74 1031L78 1032.6L74 1034.2ZM671.2 1031L667.2 1032.6L671.2 1034.2ZM390.9 1322.2L392.5 1318.2L394.1 1322.2ZM390.9 723L392.5 727L394.1 723ZM74 1041L78 1042.6L74 1044.2ZM671.2 1041L667.2 1042.6L671.2 1044.2ZM400.9 1322.2L402.5 1318.2L404.1 1322.2ZM400.9 723L402.5 727L404.1 723ZM74 1051L78 1052.6L74 1054.2ZM671.2 1051L667.2 1052.6L671.2 1054.2ZM410.8 1322.2L412.4 1318.2L414 1322.2ZM410.8 723L412.4 727L414 723ZM74 1060.9L78 1062.5L74 1064.1ZM671.2 1060.9L667.2 1062.5L671.2 1064.1ZM420.8 1322.2L422.4 1318.2L424 1322.2ZM420.8 723L422.4 727L424 723ZM74 1070.9L78 1072.5L74 1074.1ZM671.2 1070.9L667.2 1072.5L671.2 1074.1ZM430.7 1322.2L432.3 1318.2L433.9 1322.2ZM430.7 723L432.3 727L433.9 723ZM74 1080.9L78 1082.5L74 1084.1ZM671.2 1080.9L667.2 1082.5L671.2 1084.1ZM440.7 1322.2L442.3 1318.2L443.9 1322.2ZM440.7 723L442.3 727L443.9 723ZM74 1090.9L78 1092.5L74 1094.1ZM671.2 1090.9L667.2 1092.5L671.2 1094.1ZM450.6 1322.2L452.2 1318.2L453.8 1322.2ZM450.6 723L452.2 727L453.8 723ZM74 1100.9L78 1102.5L74 1104.1ZM671.2 1100.9L667.2 1102.5L671.2 1104.1ZM460.6 1322.2L462.2 1318.2L463.8 1322.2ZM460.6 723L462.2 727L463.8 723ZM74 1110.9L78 1112.5L74 1114.1ZM671.2 1110.9L667.2 1112.5L671.2 1114.1ZM480.5 1322.2L482.1 1318.2L483.7 1322.2ZM480.5 723L482.1 727L483.7 723ZM74 1130.9L78 1132.5L74 1134.1ZM671.2 1130.9L667.2 1132.5L671.2 1134.1ZM490.4 1322.2L492 1318.2L493.6 1322.2ZM490.4 723L492 727L493.6 723ZM74 1140.8L78 1142.4L74 1144ZM671.2 1140.8L667.2 1142.4L671.2 1144ZM500.4 1322.2L502 1318.2L503.6 1322.2ZM500.4 723L502 727L503.6 723ZM74 1150.8L78 1152.4L74 1154ZM671.2 1150.8L667.2 1152.4L671.2 1154ZM510.3 1322.2L511.9 1318.2L513.5 1322.2ZM510.3 723L511.9 727L513.5 723ZM74 1160.8L78 1162.4L74 1164ZM671.2 1160.8L667.2 1162.4L671.2 1164ZM520.3 1322.2L521.9 1318.2L523.5 1322.2ZM520.3 723L521.9 727L523.5 723ZM74 1170.8L78 1172.4L74 1174ZM671.2 1170.8L667.2 1172.4L671.2 1174ZM530.3 1322.2L531.9 1318.2L533.5 1322.2ZM530.3 723L531.9 727L533.5 723ZM74 1180.8L78 1182.4L74 1184ZM671.2 1180.8L667.2 1182.4L671.2 1184ZM540.2 1322.2L541.8 1318.2L543.4 1322.2ZM540.2 723L541.8 727L543.4 723ZM74 1190.8L78 1192.4L74 1194ZM671.2 1190.8L667.2 1192.4L671.2 1194ZM550.2 1322.2L551.8 1318.2L553.4 1322.2ZM550.2 723L551.8 727L553.4 723ZM74 1200.8L78 1202.4L74 1204ZM671.2 1200.8L667.2 1202.4L671.2 1204ZM560.1 1322.2L561.7 1318.2L563.3 1322.2ZM560.1 723L561.7 727L563.3 723ZM74 1210.7L78 1212.3L74 1213.9ZM671.2 1210.7L667.2 1212.3L671.2 1213.9ZM580 1322.2L581.6 1318.2L583.2 1322.2ZM580 723L581.6 727L583.2 723ZM74 1230.7L78 1232.3L74 1233.9ZM671.2 1230.7L667.2 1232.3L671.2 1233.9ZM590 1322.2L591.6 1318.2L593.2 1322.2ZM590 723L591.6 727L593.2 723ZM74 1240.7L78 1242.3L74 1243.9ZM671.2 1240.7L667.2 1242.3L671.2 1243.9ZM599.9 1322.2L601.5 1318.2L603.1 1322.2ZM599.9 723L601.5 727L603.1 723ZM74 1250.7L78 1252.3L74 1253.9ZM671.2 1250.7L667.2 1252.3L671.2 1253.9ZM609.9 1322.2L611.5 1318.2L613.1 1322.2ZM609.9 723L611.5 727L613.1 723ZM74 1260.7L78 1262.3L74 1263.9ZM671.2 1260.7L667.2 1262.3L671.2 1263.9ZM619.8 1322.2L621.4 1318.2L623 1322.2ZM619.8 723L621.4 727L623 723ZM74 1270.7L78 1272.3L74 1273.9ZM671.2 1270.7L667.2 1272.3L671.2 1273.9ZM629.8 1322.2L631.4 1318.2L633 1322.2ZM629.8 723L631.4 727L633 723ZM74 1280.7L78 1282.3L74 1283.9ZM671.2 1280.7L667.2 1282.3L671.2 1283.9ZM639.7 1322.2L641.3 1318.2L642.9 1322.2ZM639.7 723L641.3 727L642.9 723ZM74 1290.6L78 1292.2L74 1293.8ZM671.2 1290.6L667.2 1292.2L671.2 1293.8ZM649.7 1322.2L651.3 1318.2L652.9 1322.2ZM649.7 723L651.3 727L652.9 723ZM74 1300.6L78 1302.2L74 1303.8ZM671.2 1300.6L667.2 1302.2L671.2 1303.8ZM659.6 1322.2L661.2 1318.2L662.8 1322.2ZM659.6 723L661.2 727L662.8 723ZM74 1310.6L78 1312.2L74 1313.8ZM671.2 1310.6L667.2 1312.2L671.2 1313.8Z" fill="#000" stroke="#000" stroke-width="0.5" stroke-linejoin="round"/><path d="M173.5 1322.2v-6.5M173.5 723v6.5M74 822.9h6.5M671.2 822.9h-6.5M273.1 1322.2v-6.5M273.1 723v6.5M74 922.7h6.5M671.2 922.7h-6.5M372.6 1322.2v-6.5M372.6 723v6.5M74 1022.6h6.5M671.2 1022.6h-6.5M472.1 1322.2v-6.5M472.1 723v6.5M74 1122.5h6.5M671.2 1122.5h-6.5M571.7 1322.2v-6.5M571.7 723v6.5M74 1222.3h6.5M671.2 1222.3h-6.5" stroke="#000" stroke-width="2.0" fill="none"/><g font-family="Liberation Serif" font-size="19" fill="#151515" stroke="#151515" stroke-width="0.4"><text x="74" y="1349" text-anchor="middle">-12</text><text x="173.5" y="1349" text-anchor="middle">-8</text><text x="273.1" y="1349" text-anchor="middle">-4</text><text x="372.6" y="1349" text-anchor="middle">0</text><text x="472.1" y="1349" text-anchor="middle">4</text><text x="571.7" y="1349" text-anchor="middle">8</text><text x="671.2" y="1349" text-anchor="middle">12</text><text x="66.5" y="730" text-anchor="end">-12</text><text x="66.5" y="829.9" text-anchor="end">-8</text><text x="66.5" y="929.7" text-anchor="end">-4</text><text x="66.5" y="1029.6" text-anchor="end">0</text><text x="66.5" y="1129.5" text-anchor="end">4</text><text x="66.5" y="1229.3" text-anchor="end">8</text><text x="66.5" y="1329.2" text-anchor="end">12</text><text x="372.6" y="1381.7" text-anchor="middle" font-size="28.5" fill="#1a1a1a" stroke="#1a1a1a" stroke-width="0.55">x/w</text><text transform="translate(28.5 1022.6) rotate(-90)" text-anchor="middle" font-size="28.5" fill="#1a1a1a" stroke="#1a1a1a" stroke-width="0.55">y/w</text></g><text x="82" y="779.5" font-family="Liberation Serif" font-size="62" fill="#fff">(c)</text><rect x="776" y="723.4" width="598.4" height="598.8" fill="#0000D6"/><path d="M808 1007.2Q814 1007.8 820 1008.8" fill="none" stroke="#20a8e0" stroke-opacity="0.85" stroke-width="2.2" stroke-linecap="round"/><linearGradient id="gd1" gradientUnits="userSpaceOnUse" x1="820.3" y1="1009" x2="1209.1" y2="933.5"><stop offset="0" stop-color="#20e8a0"/><stop offset="0.3" stop-color="#10e0c8"/><stop offset="0.8" stop-color="#10d0e8"/><stop offset="0.93" stop-color="#10b0ff"/><stop offset="1" stop-color="#1060ff"/></linearGradient><path d="M820.9 1010.5 824.2 1009.8 827.5 1009.1 830.7 1008 833.8 1006.8 836.9 1005.6 840 1004.3 843.1 1003.1 846.2 1001.9 849.3 1000.7 852.4 999.5 855.5 998.3 858.6 997.1 861.7 996 864.9 994.8 868 993.6 871.1 992.5 874.3 991.3 877.4 990.2 880.6 989 883.7 987.9 886.9 986.8 890.1 985.7 893.2 984.6 896.4 983.5 899.6 982.4 902.8 981.4 906 980.3 909.1 979.2 912.3 978.2 915.5 977.2 918.7 976.1 921.9 975.1 925.1 974.1 928.3 973.1 931.5 972.1 934.8 971.1 938 970.2 941.2 969.2 944.4 968.3 947.7 967.3 950.9 966.4 954.1 965.5 957.4 964.6 960.6 963.7 963.8 962.8 967.1 961.9 970.3 961.1 973.6 960.2 976.8 959.4 980.1 958.6 983.4 957.7 986.6 956.9 989.9 956.2 993.2 955.4 996.4 954.6 999.7 953.9 1003 953.1 1006.3 952.4 1009.5 951.7 1012.8 951 1016.1 950.3 1019.4 949.6 1022.7 948.9 1026 948.3 1029.3 947.6 1032.6 947 1035.9 946.4 1039.2 945.8 1042.5 945.2 1045.8 944.7 1049.1 944.1 1052.4 943.6 1055.7 943 1059 942.5 1062.3 942 1065.6 941.6 1068.9 941.1 1072.2 940.6 1075.6 940.2 1078.9 939.8 1082.2 939.4 1085.5 939 1088.8 938.6 1092.2 938.2 1095.5 937.9 1098.8 937.6 1102.1 937.3 1105.5 937 1108.8 936.7 1112.1 936.4 1115.4 936.2 1118.8 936 1122.1 935.7 1125.4 935.5 1128.8 935.4 1132.1 935.2 1135.4 935.1 1138.8 934.9 1142.1 934.8 1145.4 934.7 1148.8 934.7 1152.1 934.6 1155.5 934.6 1158.8 934.5 1162.1 934.5 1165.5 934.6 1168.8 934.6 1172.1 934.6 1175.5 934.7 1178.8 934.8 1182.1 934.9 1185.5 935 1188.8 935.2 1192.2 935.4 1195.5 935.1 1198.9 934.6 1202.3 934.2 1205.7 934 1209 934.2 L1209.2 932.7 1205.8 932.4 1202.5 931.7 1199.2 930.8 1195.8 930 1192.5 929.3 1189.1 929.1 1185.7 929 1182.4 928.9 1179 928.8 1175.6 928.7 1172.2 928.6 1168.9 928.5 1165.5 928.5 1162.1 928.5 1158.8 928.5 1155.4 928.5 1152 928.6 1148.7 928.6 1145.3 928.7 1141.9 928.8 1138.6 928.9 1135.2 929 1131.8 929.2 1128.5 929.3 1125.1 929.5 1121.7 929.7 1118.4 929.9 1115 930.1 1111.7 930.4 1108.3 930.7 1104.9 930.9 1101.6 931.2 1098.2 931.6 1094.9 931.9 1091.5 932.2 1088.2 932.6 1084.8 933 1081.5 933.4 1078.1 933.8 1074.8 934.2 1071.4 934.6 1068.1 935.1 1064.7 935.6 1061.4 936.1 1058.1 936.6 1054.7 937.1 1051.4 937.6 1048.1 938.1 1044.7 938.7 1041.4 939.3 1038.1 939.9 1034.8 940.5 1031.4 941.1 1028.1 941.7 1024.8 942.3 1021.5 943 1018.2 943.7 1014.9 944.4 1011.6 945.1 1008.3 945.8 1005 946.5 1001.7 947.2 998.4 948 995.1 948.7 991.8 949.5 988.5 950.3 985.2 951.1 981.9 951.9 978.6 952.7 975.3 953.5 972.1 954.4 968.8 955.2 965.5 956.1 962.3 957 959 957.9 955.7 958.8 952.5 959.7 949.2 960.6 946 961.5 942.7 962.5 939.5 963.4 936.2 964.4 933 965.4 929.8 966.3 926.5 967.3 923.3 968.3 920.1 969.3 916.9 970.4 913.7 971.4 910.5 972.4 907.2 973.5 904 974.6 900.8 975.6 897.6 976.7 894.5 977.8 891.3 978.9 888.1 980 884.9 981.1 881.7 982.2 878.6 983.4 875.4 984.5 872.2 985.6 869.1 986.8 865.9 987.9 862.8 989.1 859.6 990.3 856.5 991.5 853.3 992.7 850.2 993.9 847.1 995.1 844 996.3 840.8 997.5 837.7 998.7 834.6 999.9 831.5 1001.2 828.4 1002.4 825.4 1003.9 822.5 1005.7 819.7 1007.4Z" fill="#18c0e0" fill-opacity="0.6" stroke="#1880f0" stroke-opacity="0.3" stroke-width="0.8" stroke-linejoin="round"/><path d="M820.7 1010 824 1009.2 827.2 1008.3 830.3 1007.2 833.4 1005.9 836.5 1004.7 839.6 1003.5 842.7 1002.3 845.8 1001 848.9 999.8 852 998.6 855.2 997.4 858.3 996.3 861.4 995.1 864.6 993.9 867.7 992.8 870.8 991.6 874 990.4 877.1 989.3 880.3 988.2 883.4 987.1 886.6 985.9 889.8 984.8 892.9 983.7 896.1 982.6 899.3 981.6 902.5 980.5 905.7 979.4 908.8 978.4 912 977.3 915.2 976.3 918.4 975.3 921.6 974.2 924.9 973.2 928.1 972.2 931.3 971.2 934.5 970.3 937.7 969.3 940.9 968.3 944.2 967.4 947.4 966.4 950.6 965.5 953.9 964.6 957.1 963.7 960.4 962.8 963.6 961.9 966.9 961 970.1 960.2 973.4 959.3 976.6 958.5 979.9 957.7 983.1 956.9 986.4 956 989.7 955.3 992.9 954.5 996.2 953.7 999.5 953 1002.8 952.2 1006.1 951.5 1009.3 950.8 1012.6 950.1 1015.9 949.4 1019.2 948.7 1022.5 948 1025.8 947.4 1029.1 946.7 1032.4 946.1 1035.7 945.5 1039 944.9 1042.3 944.3 1045.6 943.8 1048.9 943.2 1052.2 942.7 1055.5 942.1 1058.8 941.6 1062.2 941.1 1065.5 940.6 1068.8 940.2 1072.1 939.7 1075.4 939.3 1078.8 938.9 1082.1 938.5 1085.4 938.1 1088.7 937.7 1092.1 937.3 1095.4 937 1098.7 936.7 1102 936.3 1105.4 936.1 1108.7 935.8 1112 935.5 1115.4 935.3 1118.7 935 1122 934.8 1125.4 934.6 1128.7 934.4 1132.1 934.3 1135.4 934.1 1138.7 934 1142.1 933.9 1145.4 933.8 1148.8 933.7 1152.1 933.7 1155.4 933.6 1158.8 933.6 1162.1 933.6 1165.5 933.6 1168.8 933.7 1172.2 933.7 1175.5 933.8 1178.8 933.9 1182.2 934 1185.5 934.1 1188.9 934.3 1192.2 934.4 1195.6 934.3 1198.9 934 1202.3 933.8 1205.7 933.7 1209.1 934 L1209.1 932.9 1205.8 932.7 1202.4 932.1 1199.1 931.4 1195.8 930.8 1192.4 930.2 1189.1 930.1 1185.7 929.9 1182.3 929.8 1179 929.7 1175.6 929.6 1172.2 929.5 1168.9 929.5 1165.5 929.4 1162.1 929.4 1158.8 929.4 1155.4 929.4 1152 929.5 1148.7 929.5 1145.3 929.6 1142 929.7 1138.6 929.8 1135.2 929.9 1131.9 930.1 1128.5 930.2 1125.1 930.4 1121.8 930.6 1118.4 930.8 1115.1 931.1 1111.7 931.3 1108.4 931.6 1105 931.9 1101.7 932.2 1098.3 932.5 1095 932.8 1091.6 933.2 1088.3 933.5 1084.9 933.9 1081.6 934.3 1078.2 934.7 1074.9 935.1 1071.6 935.6 1068.2 936 1064.9 936.5 1061.5 937 1058.2 937.5 1054.9 938 1051.6 938.5 1048.2 939.1 1044.9 939.6 1041.6 940.2 1038.3 940.8 1034.9 941.4 1031.6 942 1028.3 942.6 1025 943.3 1021.7 943.9 1018.4 944.6 1015.1 945.3 1011.8 946 1008.5 946.7 1005.2 947.4 1001.9 948.1 998.6 948.9 995.3 949.6 992 950.4 988.7 951.2 985.4 952 982.1 952.8 978.9 953.6 975.6 954.4 972.3 955.3 969 956.1 965.8 957 962.5 957.9 959.2 958.8 956 959.6 952.7 960.6 949.5 961.5 946.2 962.4 943 963.4 939.8 964.3 936.5 965.3 933.3 966.2 930 967.2 926.8 968.2 923.6 969.2 920.4 970.2 917.2 971.3 913.9 972.3 910.7 973.3 907.5 974.4 904.3 975.4 901.1 976.5 897.9 977.6 894.8 978.7 891.6 979.8 888.4 980.9 885.2 982 882 983.1 878.9 984.2 875.7 985.4 872.5 986.5 869.4 987.7 866.2 988.8 863.1 990 859.9 991.2 856.8 992.3 853.7 993.5 850.5 994.7 847.4 995.9 844.3 997.1 841.2 998.3 838.1 999.6 835 1000.8 831.9 1002 828.8 1003.3 825.7 1004.7 822.8 1006.3 819.9 1007.9Z" fill="url(#gd1)" stroke="url(#gd1)" stroke-width="0.6" stroke-linejoin="round"/><linearGradient id="gd2" gradientUnits="userSpaceOnUse" x1="820" y1="1009.2" x2="1325.6" y2="1012.2"><stop offset="0" stop-color="#10e040"/><stop offset="0.5" stop-color="#08e038"/><stop offset="1" stop-color="#10e040"/></linearGradient><path d="M819.4 1011.7 823.5 1013.5 827.5 1015.3 831.7 1016.5 836 1017.4 840.2 1018.2 844.5 1019 848.7 1019.7 853 1020.5 857.3 1021.1 861.5 1021.8 865.8 1022.4 870.1 1023 874.3 1023.6 878.6 1024.1 882.9 1024.6 887.1 1025 891.4 1025.5 895.7 1025.9 899.9 1026.2 904.2 1026.6 908.5 1026.9 912.8 1027.2 917 1027.5 921.3 1027.7 925.6 1027.9 929.8 1028.1 934.1 1028.3 938.4 1028.4 942.7 1028.6 947 1028.7 951.2 1028.7 955.5 1028.8 959.8 1028.8 964.1 1028.8 968.3 1028.8 972.6 1028.8 976.9 1028.8 981.2 1028.7 985.4 1028.6 989.7 1028.5 994 1028.4 998.3 1028.3 1002.6 1028.2 1006.8 1028 1011.1 1027.8 1015.4 1027.7 1019.7 1027.5 1023.9 1027.2 1028.2 1027 1032.5 1026.8 1036.8 1026.5 1041 1026.3 1045.3 1026 1049.6 1025.7 1053.9 1025.5 1058.1 1025.2 1062.4 1024.9 1066.7 1024.6 1071 1024.2 1075.2 1023.9 1079.5 1023.6 1083.8 1023.3 1088.1 1022.9 1092.3 1022.6 1096.6 1022.3 1100.9 1021.9 1105.1 1021.6 1109.4 1021.2 1113.7 1020.9 1117.9 1020.5 1122.2 1020.2 1126.4 1019.8 1130.7 1019.5 1135 1019.1 1139.2 1018.8 1143.5 1018.5 1147.7 1018.1 1152 1017.8 1156.3 1017.5 1160.5 1017.2 1164.8 1016.9 1169 1016.6 1173.3 1016.3 1177.5 1016 1181.8 1015.7 1186 1015.5 1190.2 1015.2 1194.5 1015 1198.7 1014.8 1203 1014.6 1207.2 1014.4 1211.4 1014.2 1215.7 1014 1219.9 1013.9 1224.1 1013.7 1228.4 1013.6 1232.6 1013.5 1236.8 1013.4 1241.1 1013.3 1245.3 1013.3 1249.5 1013.3 1253.7 1013.3 1257.9 1013.3 1262.2 1013.3 1266.4 1013.4 1270.6 1013.4 1274.8 1013.6 1279 1013.7 1283.2 1013.8 1287.4 1014 1291.6 1014.2 1295.8 1014.5 1300 1014.7 1304.2 1015 1308.4 1014.6 1312.7 1013.9 1317 1013.3 1321.3 1013 1325.5 1013.4 L1325.8 1011.1 1321.5 1010.6 1317.4 1009.4 1313.2 1008.1 1309.1 1006.7 1304.9 1005.7 1300.6 1005.4 1296.4 1005.1 1292.1 1004.9 1287.8 1004.7 1283.6 1004.5 1279.3 1004.3 1275 1004.2 1270.8 1004.1 1266.5 1004 1262.3 1004 1258 1003.9 1253.7 1003.9 1249.5 1003.9 1245.2 1003.9 1240.9 1004 1236.7 1004.1 1232.4 1004.1 1228.1 1004.2 1223.9 1004.4 1219.6 1004.5 1215.3 1004.7 1211.1 1004.8 1206.8 1005 1202.5 1005.2 1198.3 1005.4 1194 1005.6 1189.7 1005.9 1185.4 1006.1 1181.2 1006.4 1176.9 1006.7 1172.6 1006.9 1168.4 1007.2 1164.1 1007.5 1159.8 1007.8 1155.6 1008.2 1151.3 1008.5 1147 1008.8 1142.8 1009.1 1138.5 1009.5 1134.2 1009.8 1130 1010.1 1125.7 1010.5 1121.4 1010.8 1117.2 1011.2 1112.9 1011.5 1108.6 1011.9 1104.4 1012.2 1100.1 1012.6 1095.8 1012.9 1091.6 1013.3 1087.3 1013.6 1083.1 1013.9 1078.8 1014.3 1074.5 1014.6 1070.3 1014.9 1066 1015.2 1061.8 1015.5 1057.5 1015.8 1053.2 1016.1 1049 1016.4 1044.7 1016.7 1040.5 1016.9 1036.2 1017.2 1032 1017.4 1027.7 1017.7 1023.5 1017.9 1019.2 1018.1 1015 1018.3 1010.7 1018.5 1006.5 1018.7 1002.2 1018.8 998 1019 993.7 1019.1 989.5 1019.2 985.3 1019.3 981 1019.4 976.8 1019.4 972.5 1019.5 968.3 1019.5 964.1 1019.5 959.8 1019.5 955.6 1019.4 951.4 1019.4 947.1 1019.3 942.9 1019.2 938.7 1019.1 934.5 1018.9 930.2 1018.8 926 1018.6 921.8 1018.4 917.6 1018.1 913.4 1017.9 909.2 1017.6 904.9 1017.3 900.7 1016.9 896.5 1016.5 892.3 1016.1 888.1 1015.7 883.9 1015.3 879.7 1014.8 875.5 1014.3 871.3 1013.7 867.1 1013.1 862.9 1012.5 858.7 1011.9 854.5 1011.2 850.3 1010.5 846.1 1009.8 842 1009 837.8 1008.2 833.6 1007.4 829.3 1006.8 825 1006.7 820.6 1006.7Z" fill="#18c0e0" fill-opacity="0.6" stroke="#1880f0" stroke-opacity="0.3" stroke-width="0.8" stroke-linejoin="round"/><path d="M819.6 1010.9 823.7 1012.5 827.8 1014 832 1015.1 836.2 1016 840.5 1016.8 844.7 1017.6 849 1018.3 853.2 1019 857.5 1019.7 861.7 1020.4 866 1021 870.2 1021.6 874.5 1022.1 878.8 1022.7 883 1023.1 887.3 1023.6 891.5 1024 895.8 1024.4 900.1 1024.8 904.3 1025.2 908.6 1025.5 912.8 1025.8 917.1 1026 921.4 1026.3 925.6 1026.5 929.9 1026.7 934.2 1026.9 938.4 1027 942.7 1027.1 947 1027.2 951.3 1027.3 955.5 1027.4 959.8 1027.4 964.1 1027.4 968.3 1027.4 972.6 1027.4 976.9 1027.3 981.1 1027.3 985.4 1027.2 989.7 1027.1 994 1027 998.2 1026.9 1002.5 1026.7 1006.8 1026.6 1011.1 1026.4 1015.3 1026.2 1019.6 1026 1023.9 1025.8 1028.1 1025.6 1032.4 1025.4 1036.7 1025.1 1041 1024.9 1045.2 1024.6 1049.5 1024.3 1053.8 1024 1058.1 1023.7 1062.3 1023.4 1066.6 1023.1 1070.9 1022.8 1075.1 1022.5 1079.4 1022.2 1083.7 1021.8 1087.9 1021.5 1092.2 1021.2 1096.5 1020.8 1100.7 1020.5 1105 1020.1 1109.3 1019.8 1113.5 1019.4 1117.8 1019.1 1122.1 1018.7 1126.3 1018.4 1130.6 1018.1 1134.9 1017.7 1139.1 1017.4 1143.4 1017 1147.6 1016.7 1151.9 1016.4 1156.2 1016.1 1160.4 1015.8 1164.7 1015.4 1168.9 1015.2 1173.2 1014.9 1177.4 1014.6 1181.7 1014.3 1185.9 1014.1 1190.2 1013.8 1194.4 1013.6 1198.7 1013.3 1202.9 1013.1 1207.1 1012.9 1211.4 1012.7 1215.6 1012.6 1219.9 1012.4 1224.1 1012.3 1228.3 1012.2 1232.6 1012.1 1236.8 1012 1241 1011.9 1245.3 1011.9 1249.5 1011.8 1253.7 1011.8 1257.9 1011.8 1262.2 1011.9 1266.4 1011.9 1270.6 1012 1274.8 1012.1 1279 1012.3 1283.3 1012.4 1287.5 1012.6 1291.7 1012.8 1295.9 1013 1300.1 1013.3 1304.3 1013.6 1308.5 1013.4 1312.8 1013 1317.1 1012.7 1321.3 1012.6 1325.6 1013 L1325.7 1011.4 1321.5 1011 1317.3 1010 1313.2 1009 1309 1007.9 1304.8 1007.1 1300.5 1006.8 1296.3 1006.5 1292 1006.3 1287.8 1006.1 1283.5 1005.9 1279.3 1005.8 1275 1005.6 1270.8 1005.5 1266.5 1005.4 1262.2 1005.4 1258 1005.3 1253.7 1005.3 1249.5 1005.3 1245.2 1005.4 1240.9 1005.4 1236.7 1005.5 1232.4 1005.6 1228.2 1005.7 1223.9 1005.8 1219.6 1005.9 1215.4 1006.1 1211.1 1006.3 1206.9 1006.4 1202.6 1006.6 1198.3 1006.9 1194.1 1007.1 1189.8 1007.3 1185.5 1007.6 1181.3 1007.8 1177 1008.1 1172.7 1008.4 1168.5 1008.7 1164.2 1009 1159.9 1009.3 1155.7 1009.6 1151.4 1009.9 1147.1 1010.2 1142.9 1010.6 1138.6 1010.9 1134.3 1011.2 1130.1 1011.6 1125.8 1011.9 1121.5 1012.3 1117.3 1012.6 1113 1013 1108.7 1013.3 1104.5 1013.7 1100.2 1014 1096 1014.3 1091.7 1014.7 1087.4 1015 1083.2 1015.4 1078.9 1015.7 1074.6 1016 1070.4 1016.3 1066.1 1016.7 1061.9 1017 1057.6 1017.3 1053.3 1017.6 1049.1 1017.8 1044.8 1018.1 1040.6 1018.4 1036.3 1018.6 1032.1 1018.9 1027.8 1019.1 1023.5 1019.3 1019.3 1019.5 1015 1019.7 1010.8 1019.9 1006.5 1020.1 1002.3 1020.2 998 1020.4 993.8 1020.5 989.5 1020.6 985.3 1020.7 981 1020.8 976.8 1020.8 972.6 1020.9 968.3 1020.9 964.1 1020.9 959.8 1020.9 955.6 1020.9 951.4 1020.8 947.1 1020.7 942.9 1020.6 938.6 1020.5 934.4 1020.4 930.2 1020.2 926 1020 921.7 1019.8 917.5 1019.6 913.3 1019.3 909 1019 904.8 1018.7 900.6 1018.3 896.4 1018 892.2 1017.6 888 1017.1 883.7 1016.7 879.5 1016.2 875.3 1015.7 871.1 1015.1 866.9 1014.6 862.7 1013.9 858.5 1013.3 854.3 1012.6 850.1 1011.9 845.9 1011.2 841.7 1010.4 837.5 1009.6 833.3 1008.8 829.1 1008.1 824.7 1007.8 820.4 1007.4Z" fill="url(#gd2)" stroke="url(#gd2)" stroke-width="0.6" stroke-linejoin="round"/><linearGradient id="gd3" gradientUnits="userSpaceOnUse" x1="1328" y1="1031.6" x2="1372.2" y2="1110.9"><stop offset="0" stop-color="#20d8d0"/><stop offset="0.5" stop-color="#20b0f0"/><stop offset="1" stop-color="#2060ff"/></linearGradient><path d="M1327 1032.2 1327 1033.1 1327 1033.9 1327.3 1034.7 1327.6 1035.3 1328 1036 1328.4 1036.6 1328.8 1037.3 1329.2 1038 1329.6 1038.6 1329.9 1039.3 1330.3 1039.9 1330.7 1040.6 1331.1 1041.2 1331.5 1041.9 1331.9 1042.6 1332.3 1043.2 1332.6 1043.9 1333 1044.5 1333.4 1045.2 1333.8 1045.9 1334.2 1046.5 1334.6 1047.2 1335 1047.8 1335.3 1048.5 1335.7 1049.2 1336.1 1049.8 1336.5 1050.5 1336.9 1051.1 1337.3 1051.8 1337.7 1052.4 1338 1053.1 1338.4 1053.8 1338.8 1054.4 1339.2 1055.1 1339.6 1055.7 1340 1056.4 1340.4 1057.1 1340.7 1057.7 1341.1 1058.4 1341.5 1059 1341.9 1059.7 1342.3 1060.3 1342.7 1061 1343 1061.7 1343.4 1062.3 1343.8 1063 1344.2 1063.6 1344.6 1064.3 1345 1065 1345.4 1065.6 1345.7 1066.3 1346.1 1066.9 1346.5 1067.6 1346.9 1068.3 1347.3 1068.9 1347.6 1069.6 1348 1070.2 1348.4 1070.9 1348.8 1071.6 1349.2 1072.2 1349.6 1072.9 1349.9 1073.5 1350.3 1074.2 1350.7 1074.9 1351.1 1075.5 1351.5 1076.2 1351.8 1076.8 1352.2 1077.5 1352.6 1078.2 1353 1078.8 1353.4 1079.5 1353.7 1080.1 1354.1 1080.8 1354.5 1081.5 1354.9 1082.1 1355.2 1082.8 1355.6 1083.5 1356 1084.1 1356.4 1084.8 1356.7 1085.4 1357.1 1086.1 1357.5 1086.8 1357.9 1087.4 1358.2 1088.1 1358.6 1088.8 1359 1089.4 1359.4 1090.1 1359.7 1090.8 1360.1 1091.4 1360.5 1092.1 1360.9 1092.8 1361.2 1093.4 1361.6 1094.1 1362 1094.8 1362.3 1095.4 1362.7 1096.1 1363.1 1096.8 1363.4 1097.4 1363.8 1098.1 1364.2 1098.8 1364.5 1099.4 1364.9 1100.1 1365.3 1100.8 1365.6 1101.4 1366 1102.1 1366.4 1102.8 1366.7 1103.4 1367.1 1104.1 1367.5 1104.8 1367.8 1105.4 1368.2 1106.1 1368.5 1106.8 1368.9 1107.5 1369.3 1108.1 1369.8 1108.7 1370.4 1109.3 1371 1109.8 1371.5 1110.4 1371.9 1111.1 L1372.5 1110.8 1372.1 1110.1 1372 1109.3 1371.9 1108.5 1371.8 1107.7 1371.6 1106.9 1371.3 1106.2 1370.9 1105.5 1370.6 1104.9 1370.2 1104.2 1369.9 1103.5 1369.5 1102.8 1369.2 1102.1 1368.8 1101.5 1368.5 1100.8 1368.1 1100.1 1367.8 1099.4 1367.4 1098.8 1367.1 1098.1 1366.7 1097.4 1366.3 1096.7 1366 1096 1365.6 1095.4 1365.3 1094.7 1364.9 1094 1364.6 1093.3 1364.2 1092.7 1363.8 1092 1363.5 1091.3 1363.1 1090.6 1362.8 1090 1362.4 1089.3 1362 1088.6 1361.7 1087.9 1361.3 1087.3 1361 1086.6 1360.6 1085.9 1360.2 1085.3 1359.9 1084.6 1359.5 1083.9 1359.1 1083.2 1358.8 1082.6 1358.4 1081.9 1358.1 1081.2 1357.7 1080.6 1357.3 1079.9 1357 1079.2 1356.6 1078.5 1356.2 1077.9 1355.9 1077.2 1355.5 1076.5 1355.1 1075.9 1354.8 1075.2 1354.4 1074.5 1354 1073.9 1353.7 1073.2 1353.3 1072.5 1352.9 1071.9 1352.5 1071.2 1352.2 1070.5 1351.8 1069.8 1351.4 1069.2 1351.1 1068.5 1350.7 1067.8 1350.3 1067.2 1350 1066.5 1349.6 1065.8 1349.2 1065.2 1348.8 1064.5 1348.5 1063.8 1348.1 1063.2 1347.7 1062.5 1347.4 1061.8 1347 1061.2 1346.6 1060.5 1346.2 1059.8 1345.9 1059.2 1345.5 1058.5 1345.1 1057.8 1344.8 1057.2 1344.4 1056.5 1344 1055.8 1343.6 1055.2 1343.3 1054.5 1342.9 1053.8 1342.5 1053.2 1342.1 1052.5 1341.8 1051.8 1341.4 1051.2 1341 1050.5 1340.7 1049.9 1340.3 1049.2 1339.9 1048.5 1339.5 1047.9 1339.2 1047.2 1338.8 1046.5 1338.4 1045.9 1338 1045.2 1337.7 1044.5 1337.3 1043.9 1336.9 1043.2 1336.6 1042.5 1336.2 1041.9 1335.8 1041.2 1335.4 1040.5 1335.1 1039.9 1334.7 1039.2 1334.3 1038.5 1333.9 1037.9 1333.6 1037.2 1333.2 1036.5 1332.8 1035.9 1332.5 1035.2 1332.1 1034.5 1331.7 1033.9 1331.3 1033.2 1331 1032.5 1330.5 1031.9 1329.7 1031.5 1329 1031Z" fill="#18c0e0" fill-opacity="0.6" stroke="#1880f0" stroke-opacity="0.3" stroke-width="0.8" stroke-linejoin="round"/><path d="M1327.3 1032 1327.4 1032.8 1327.5 1033.6 1327.8 1034.3 1328.2 1035 1328.6 1035.7 1329 1036.3 1329.4 1037 1329.7 1037.6 1330.1 1038.3 1330.5 1039 1330.9 1039.6 1331.3 1040.3 1331.7 1040.9 1332 1041.6 1332.4 1042.3 1332.8 1042.9 1333.2 1043.6 1333.6 1044.2 1334 1044.9 1334.3 1045.6 1334.7 1046.2 1335.1 1046.9 1335.5 1047.5 1335.9 1048.2 1336.3 1048.9 1336.6 1049.5 1337 1050.2 1337.4 1050.8 1337.8 1051.5 1338.2 1052.2 1338.6 1052.8 1338.9 1053.5 1339.3 1054.1 1339.7 1054.8 1340.1 1055.4 1340.5 1056.1 1340.9 1056.8 1341.2 1057.4 1341.6 1058.1 1342 1058.7 1342.4 1059.4 1342.8 1060.1 1343.2 1060.7 1343.5 1061.4 1343.9 1062 1344.3 1062.7 1344.7 1063.4 1345.1 1064 1345.4 1064.7 1345.8 1065.3 1346.2 1066 1346.6 1066.7 1347 1067.3 1347.4 1068 1347.7 1068.7 1348.1 1069.3 1348.5 1070 1348.9 1070.6 1349.3 1071.3 1349.6 1072 1350 1072.6 1350.4 1073.3 1350.8 1073.9 1351.2 1074.6 1351.5 1075.3 1351.9 1075.9 1352.3 1076.6 1352.7 1077.2 1353 1077.9 1353.4 1078.6 1353.8 1079.2 1354.2 1079.9 1354.5 1080.6 1354.9 1081.2 1355.3 1081.9 1355.7 1082.6 1356 1083.2 1356.4 1083.9 1356.8 1084.5 1357.2 1085.2 1357.5 1085.9 1357.9 1086.5 1358.3 1087.2 1358.7 1087.9 1359 1088.5 1359.4 1089.2 1359.8 1089.9 1360.1 1090.5 1360.5 1091.2 1360.9 1091.9 1361.3 1092.5 1361.6 1093.2 1362 1093.9 1362.4 1094.5 1362.7 1095.2 1363.1 1095.9 1363.5 1096.5 1363.8 1097.2 1364.2 1097.9 1364.6 1098.5 1364.9 1099.2 1365.3 1099.9 1365.7 1100.6 1366 1101.2 1366.4 1101.9 1366.7 1102.6 1367.1 1103.2 1367.5 1103.9 1367.8 1104.6 1368.2 1105.3 1368.5 1105.9 1368.9 1106.6 1369.3 1107.3 1369.6 1107.9 1370.1 1108.6 1370.6 1109.1 1371.1 1109.7 1371.6 1110.3 1372 1111 L1372.4 1110.8 1372 1110.1 1371.8 1109.4 1371.6 1108.6 1371.5 1107.8 1371.3 1107.1 1370.9 1106.4 1370.6 1105.7 1370.2 1105.1 1369.9 1104.4 1369.5 1103.7 1369.2 1103 1368.8 1102.3 1368.4 1101.7 1368.1 1101 1367.7 1100.3 1367.4 1099.6 1367 1099 1366.7 1098.3 1366.3 1097.6 1366 1096.9 1365.6 1096.3 1365.2 1095.6 1364.9 1094.9 1364.5 1094.2 1364.2 1093.6 1363.8 1092.9 1363.4 1092.2 1363.1 1091.5 1362.7 1090.9 1362.4 1090.2 1362 1089.5 1361.6 1088.8 1361.3 1088.2 1360.9 1087.5 1360.5 1086.8 1360.2 1086.2 1359.8 1085.5 1359.5 1084.8 1359.1 1084.1 1358.7 1083.5 1358.4 1082.8 1358 1082.1 1357.6 1081.5 1357.3 1080.8 1356.9 1080.1 1356.5 1079.5 1356.2 1078.8 1355.8 1078.1 1355.4 1077.5 1355.1 1076.8 1354.7 1076.1 1354.3 1075.4 1353.9 1074.8 1353.6 1074.1 1353.2 1073.4 1352.8 1072.8 1352.5 1072.1 1352.1 1071.4 1351.7 1070.8 1351.3 1070.1 1351 1069.4 1350.6 1068.8 1350.2 1068.1 1349.9 1067.4 1349.5 1066.8 1349.1 1066.1 1348.7 1065.4 1348.4 1064.8 1348 1064.1 1347.6 1063.4 1347.3 1062.8 1346.9 1062.1 1346.5 1061.5 1346.1 1060.8 1345.8 1060.1 1345.4 1059.5 1345 1058.8 1344.6 1058.1 1344.3 1057.5 1343.9 1056.8 1343.5 1056.1 1343.1 1055.5 1342.8 1054.8 1342.4 1054.1 1342 1053.5 1341.6 1052.8 1341.3 1052.1 1340.9 1051.5 1340.5 1050.8 1340.1 1050.1 1339.8 1049.5 1339.4 1048.8 1339 1048.2 1338.6 1047.5 1338.3 1046.8 1337.9 1046.2 1337.5 1045.5 1337.1 1044.8 1336.8 1044.2 1336.4 1043.5 1336 1042.8 1335.6 1042.2 1335.3 1041.5 1334.9 1040.8 1334.5 1040.2 1334.1 1039.5 1333.8 1038.8 1333.4 1038.2 1333 1037.5 1332.6 1036.9 1332.3 1036.2 1331.9 1035.5 1331.5 1034.9 1331.2 1034.2 1330.8 1033.5 1330.4 1032.9 1329.9 1032.3 1329.3 1031.7 1328.7 1031.2Z" fill="url(#gd3)" stroke="url(#gd3)" stroke-width="0.6" stroke-linejoin="round"/><path d="M776 1009.4H814.4A12.2 12.2 0 0 1 814.4 1033.8H776Z" fill="#fffff8" stroke="#000028" stroke-opacity="0.55" stroke-width="1.3"/><path d="M1374.4 1009.4H1337.8A12.2 12.2 0 0 0 1337.8 1033.8H1374.4Z" fill="#fffff8" stroke="#000028" stroke-opacity="0.55" stroke-width="1.3"/><rect x="1249" y="732.6" width="117" height="224.4" fill="#fff"/><rect x="1253" y="777.2" width="20.6" height="14.6" fill="#ff0000"/><rect x="1253" y="791.6" width="20.6" height="14.6" fill="#ff5d00"/><rect x="1253" y="805.9" width="20.6" height="14.6" fill="#ffb900"/><rect x="1253" y="820.2" width="20.6" height="14.6" fill="#e8ff00"/><rect x="1253" y="834.6" width="20.6" height="14.6" fill="#8bff00"/><rect x="1253" y="849" width="20.6" height="14.6" fill="#2eff00"/><rect x="1253" y="863.3" width="20.6" height="14.6" fill="#00ff2e"/><rect x="1253" y="877.6" width="20.6" height="14.6" fill="#00ff8b"/><rect x="1253" y="892" width="20.6" height="14.6" fill="#00ffe8"/><rect x="1253" y="906.4" width="20.6" height="14.6" fill="#00b9ff"/><rect x="1253" y="920.7" width="20.6" height="14.6" fill="#005dff"/><rect x="1253" y="935" width="20.6" height="14.6" fill="#0000ff"/><path d="M1253 791.6H1273.6M1253 805.9H1273.6M1253 820.2H1273.6M1253 834.6H1273.6M1253 849H1273.6M1253 863.3H1273.6M1253 877.6H1273.6M1253 892H1273.6M1253 906.4H1273.6M1253 920.7H1273.6M1253 935H1273.6" stroke="#000" stroke-opacity="0.22" stroke-width="1.2"/><path d="M1273.6 777.2h5M1273.6 791.6h5M1273.6 805.9h5M1273.6 820.2h5M1273.6 834.6h5M1273.6 849h5M1273.6 863.3h5M1273.6 877.6h5M1273.6 892h5M1273.6 906.4h5M1273.6 920.7h5M1273.6 935h5M1273.6 949.4h5" stroke="#999" stroke-width="1"/><g font-family="Liberation Sans" fill="#262626" font-size="13" stroke="#333" stroke-width="0.2"><text x="1253.5" y="747.2" fill="#444" textLength="34.5" lengthAdjust="spacingAndGlyphs">SDV1</text><text x="1253.2" y="765.6" fill="#444" textLength="70" lengthAdjust="spacingAndGlyphs">(Avg: 75%)</text><text x="1289.5" y="781.8" textLength="70" lengthAdjust="spacingAndGlyphs">+1.542e+00</text><text x="1289.5" y="796.2" textLength="70" lengthAdjust="spacingAndGlyphs">+1.415e+00</text><text x="1289.5" y="810.5" textLength="70" lengthAdjust="spacingAndGlyphs">+1.288e+00</text><text x="1289.5" y="824.9" textLength="70" lengthAdjust="spacingAndGlyphs">+1.161e+00</text><text x="1289.5" y="839.2" textLength="70" lengthAdjust="spacingAndGlyphs">+1.034e+00</text><text x="1289.5" y="853.6" textLength="70" lengthAdjust="spacingAndGlyphs">+9.065e-01</text><text x="1289.5" y="867.9" textLength="70" lengthAdjust="spacingAndGlyphs">+7.790e-01</text><text x="1289.5" y="882.2" textLength="70" lengthAdjust="spacingAndGlyphs">+6.520e-01</text><text x="1289.5" y="896.6" textLength="70" lengthAdjust="spacingAndGlyphs">+5.256e-01</text><text x="1289.5" y="911" textLength="70" lengthAdjust="spacingAndGlyphs">+3.986e-01</text><text x="1289.5" y="925.3" textLength="70" lengthAdjust="spacingAndGlyphs">+2.716e-01</text><text x="1289.5" y="939.6" textLength="70" lengthAdjust="spacingAndGlyphs">+1.446e-01</text><text x="1289.5" y="954" textLength="70" lengthAdjust="spacingAndGlyphs">+1.759e-02</text></g><g font-family="Liberation Serif" font-size="21.5" fill="#eef" stroke="#eef" stroke-width="0.5"><text x="1161" y="756.5" textLength="79" lengthAdjust="spacing"><tspan font-style="italic">M</tspan><tspan font-style="italic" font-size="12" dy="-8">e</tspan><tspan dy="8"> = 0.0</tspan></text><text x="1161" y="783.5" textLength="81" lengthAdjust="spacing"><tspan font-style="italic">ε</tspan> = 6.5%</text></g><rect x="776" y="723.4" width="598.4" height="598.8" fill="none" stroke="#000" stroke-width="2.6"/><path d="M784.4 1322.2L786 1318.2L787.6 1322.2ZM784.4 723.4L786 727.4L787.6 723.4ZM776 731.8L780 733.4L776 735ZM1374.4 731.8L1370.4 733.4L1374.4 735ZM794.3 1322.2L795.9 1318.2L797.5 1322.2ZM794.3 723.4L795.9 727.4L797.5 723.4ZM776 741.8L780 743.4L776 745ZM1374.4 741.8L1370.4 743.4L1374.4 745ZM804.3 1322.2L805.9 1318.2L807.5 1322.2ZM804.3 723.4L805.9 727.4L807.5 723.4ZM776 751.7L780 753.3L776 754.9ZM1374.4 751.7L1370.4 753.3L1374.4 754.9ZM814.3 1322.2L815.9 1318.2L817.5 1322.2ZM814.3 723.4L815.9 727.4L817.5 723.4ZM776 761.7L780 763.3L776 764.9ZM1374.4 761.7L1370.4 763.3L1374.4 764.9ZM824.3 1322.2L825.9 1318.2L827.5 1322.2ZM824.3 723.4L825.9 727.4L827.5 723.4ZM776 771.7L780 773.3L776 774.9ZM1374.4 771.7L1370.4 773.3L1374.4 774.9ZM834.2 1322.2L835.8 1318.2L837.4 1322.2ZM834.2 723.4L835.8 727.4L837.4 723.4ZM776 781.7L780 783.3L776 784.9ZM1374.4 781.7L1370.4 783.3L1374.4 784.9ZM844.2 1322.2L845.8 1318.2L847.4 1322.2ZM844.2 723.4L845.8 727.4L847.4 723.4ZM776 791.7L780 793.3L776 794.9ZM1374.4 791.7L1370.4 793.3L1374.4 794.9ZM854.2 1322.2L855.8 1318.2L857.4 1322.2ZM854.2 723.4L855.8 727.4L857.4 723.4ZM776 801.6L780 803.2L776 804.8ZM1374.4 801.6L1370.4 803.2L1374.4 804.8ZM864.2 1322.2L865.8 1318.2L867.4 1322.2ZM864.2 723.4L865.8 727.4L867.4 723.4ZM776 811.6L780 813.2L776 814.8ZM1374.4 811.6L1370.4 813.2L1374.4 814.8ZM884.1 1322.2L885.7 1318.2L887.3 1322.2ZM884.1 723.4L885.7 727.4L887.3 723.4ZM776 831.6L780 833.2L776 834.8ZM1374.4 831.6L1370.4 833.2L1374.4 834.8ZM894.1 1322.2L895.7 1318.2L897.3 1322.2ZM894.1 723.4L895.7 727.4L897.3 723.4ZM776 841.6L780 843.2L776 844.8ZM1374.4 841.6L1370.4 843.2L1374.4 844.8ZM904.1 1322.2L905.7 1318.2L907.3 1322.2ZM904.1 723.4L905.7 727.4L907.3 723.4ZM776 851.5L780 853.1L776 854.7ZM1374.4 851.5L1370.4 853.1L1374.4 854.7ZM914 1322.2L915.6 1318.2L917.2 1322.2ZM914 723.4L915.6 727.4L917.2 723.4ZM776 861.5L780 863.1L776 864.7ZM1374.4 861.5L1370.4 863.1L1374.4 864.7ZM924 1322.2L925.6 1318.2L927.2 1322.2ZM924 723.4L925.6 727.4L927.2 723.4ZM776 871.5L780 873.1L776 874.7ZM1374.4 871.5L1370.4 873.1L1374.4 874.7ZM934 1322.2L935.6 1318.2L937.2 1322.2ZM934 723.4L935.6 727.4L937.2 723.4ZM776 881.5L780 883.1L776 884.7ZM1374.4 881.5L1370.4 883.1L1374.4 884.7ZM943.9 1322.2L945.5 1318.2L947.1 1322.2ZM943.9 723.4L945.5 727.4L947.1 723.4ZM776 891.5L780 893.1L776 894.7ZM1374.4 891.5L1370.4 893.1L1374.4 894.7ZM953.9 1322.2L955.5 1318.2L957.1 1322.2ZM953.9 723.4L955.5 727.4L957.1 723.4ZM776 901.4L780 903L776 904.6ZM1374.4 901.4L1370.4 903L1374.4 904.6ZM963.9 1322.2L965.5 1318.2L967.1 1322.2ZM963.9 723.4L965.5 727.4L967.1 723.4ZM776 911.4L780 913L776 914.6ZM1374.4 911.4L1370.4 913L1374.4 914.6ZM983.8 1322.2L985.4 1318.2L987 1322.2ZM983.8 723.4L985.4 727.4L987 723.4ZM776 931.4L780 933L776 934.6ZM1374.4 931.4L1370.4 933L1374.4 934.6ZM993.8 1322.2L995.4 1318.2L997 1322.2ZM993.8 723.4L995.4 727.4L997 723.4ZM776 941.4L780 943L776 944.6ZM1374.4 941.4L1370.4 943L1374.4 944.6ZM1003.8 1322.2L1005.4 1318.2L1007 1322.2ZM1003.8 723.4L1005.4 727.4L1007 723.4ZM776 951.3L780 952.9L776 954.5ZM1374.4 951.3L1370.4 952.9L1374.4 954.5ZM1013.8 1322.2L1015.4 1318.2L1017 1322.2ZM1013.8 723.4L1015.4 727.4L1017 723.4ZM776 961.3L780 962.9L776 964.5ZM1374.4 961.3L1370.4 962.9L1374.4 964.5ZM1023.7 1322.2L1025.3 1318.2L1026.9 1322.2ZM1023.7 723.4L1025.3 727.4L1026.9 723.4ZM776 971.3L780 972.9L776 974.5ZM1374.4 971.3L1370.4 972.9L1374.4 974.5ZM1033.7 1322.2L1035.3 1318.2L1036.9 1322.2ZM1033.7 723.4L1035.3 727.4L1036.9 723.4ZM776 981.3L780 982.9L776 984.5ZM1374.4 981.3L1370.4 982.9L1374.4 984.5ZM1043.7 1322.2L1045.3 1318.2L1046.9 1322.2ZM1043.7 723.4L1045.3 727.4L1046.9 723.4ZM776 991.3L780 992.9L776 994.5ZM1374.4 991.3L1370.4 992.9L1374.4 994.5ZM1053.7 1322.2L1055.3 1318.2L1056.9 1322.2ZM1053.7 723.4L1055.3 727.4L1056.9 723.4ZM776 1001.2L780 1002.8L776 1004.4ZM1374.4 1001.2L1370.4 1002.8L1374.4 1004.4ZM1063.6 1322.2L1065.2 1318.2L1066.8 1322.2ZM1063.6 723.4L1065.2 727.4L1066.8 723.4ZM776 1011.2L780 1012.8L776 1014.4ZM1374.4 1011.2L1370.4 1012.8L1374.4 1014.4ZM1083.6 1322.2L1085.2 1318.2L1086.8 1322.2ZM1083.6 723.4L1085.2 727.4L1086.8 723.4ZM776 1031.2L780 1032.8L776 1034.4ZM1374.4 1031.2L1370.4 1032.8L1374.4 1034.4ZM1093.5 1322.2L1095.1 1318.2L1096.7 1322.2ZM1093.5 723.4L1095.1 727.4L1096.7 723.4ZM776 1041.2L780 1042.8L776 1044.4ZM1374.4 1041.2L1370.4 1042.8L1374.4 1044.4ZM1103.5 1322.2L1105.1 1318.2L1106.7 1322.2ZM1103.5 723.4L1105.1 727.4L1106.7 723.4ZM776 1051.1L780 1052.7L776 1054.3ZM1374.4 1051.1L1370.4 1052.7L1374.4 1054.3ZM1113.5 1322.2L1115.1 1318.2L1116.7 1322.2ZM1113.5 723.4L1115.1 727.4L1116.7 723.4ZM776 1061.1L780 1062.7L776 1064.3ZM1374.4 1061.1L1370.4 1062.7L1374.4 1064.3ZM1123.5 1322.2L1125.1 1318.2L1126.7 1322.2ZM1123.5 723.4L1125.1 727.4L1126.7 723.4ZM776 1071.1L780 1072.7L776 1074.3ZM1374.4 1071.1L1370.4 1072.7L1374.4 1074.3ZM1133.4 1322.2L1135 1318.2L1136.6 1322.2ZM1133.4 723.4L1135 727.4L1136.6 723.4ZM776 1081.1L780 1082.7L776 1084.3ZM1374.4 1081.1L1370.4 1082.7L1374.4 1084.3ZM1143.4 1322.2L1145 1318.2L1146.6 1322.2ZM1143.4 723.4L1145 727.4L1146.6 723.4ZM776 1091.1L780 1092.7L776 1094.3ZM1374.4 1091.1L1370.4 1092.7L1374.4 1094.3ZM1153.4 1322.2L1155 1318.2L1156.6 1322.2ZM1153.4 723.4L1155 727.4L1156.6 723.4ZM776 1101L780 1102.6L776 1104.2ZM1374.4 1101L1370.4 1102.6L1374.4 1104.2ZM1163.4 1322.2L1165 1318.2L1166.6 1322.2ZM1163.4 723.4L1165 727.4L1166.6 723.4ZM776 1111L780 1112.6L776 1114.2ZM1374.4 1111L1370.4 1112.6L1374.4 1114.2ZM1183.3 1322.2L1184.9 1318.2L1186.5 1322.2ZM1183.3 723.4L1184.9 727.4L1186.5 723.4ZM776 1131L780 1132.6L776 1134.2ZM1374.4 1131L1370.4 1132.6L1374.4 1134.2ZM1193.3 1322.2L1194.9 1318.2L1196.5 1322.2ZM1193.3 723.4L1194.9 727.4L1196.5 723.4ZM776 1141L780 1142.6L776 1144.2ZM1374.4 1141L1370.4 1142.6L1374.4 1144.2ZM1203.3 1322.2L1204.9 1318.2L1206.5 1322.2ZM1203.3 723.4L1204.9 727.4L1206.5 723.4ZM776 1150.9L780 1152.5L776 1154.1ZM1374.4 1150.9L1370.4 1152.5L1374.4 1154.1ZM1213.2 1322.2L1214.8 1318.2L1216.4 1322.2ZM1213.2 723.4L1214.8 727.4L1216.4 723.4ZM776 1160.9L780 1162.5L776 1164.1ZM1374.4 1160.9L1370.4 1162.5L1374.4 1164.1ZM1223.2 1322.2L1224.8 1318.2L1226.4 1322.2ZM1223.2 723.4L1224.8 727.4L1226.4 723.4ZM776 1170.9L780 1172.5L776 1174.1ZM1374.4 1170.9L1370.4 1172.5L1374.4 1174.1ZM1233.2 1322.2L1234.8 1318.2L1236.4 1322.2ZM1233.2 723.4L1234.8 727.4L1236.4 723.4ZM776 1180.9L780 1182.5L776 1184.1ZM1374.4 1180.9L1370.4 1182.5L1374.4 1184.1ZM1243.1 1322.2L1244.7 1318.2L1246.3 1322.2ZM1243.1 723.4L1244.7 727.4L1246.3 723.4ZM776 1190.9L780 1192.5L776 1194.1ZM1374.4 1190.9L1370.4 1192.5L1374.4 1194.1ZM1253.1 1322.2L1254.7 1318.2L1256.3 1322.2ZM1253.1 723.4L1254.7 727.4L1256.3 723.4ZM776 1200.8L780 1202.4L776 1204ZM1374.4 1200.8L1370.4 1202.4L1374.4 1204ZM1263.1 1322.2L1264.7 1318.2L1266.3 1322.2ZM1263.1 723.4L1264.7 727.4L1266.3 723.4ZM776 1210.8L780 1212.4L776 1214ZM1374.4 1210.8L1370.4 1212.4L1374.4 1214ZM1283 1322.2L1284.6 1318.2L1286.2 1322.2ZM1283 723.4L1284.6 727.4L1286.2 723.4ZM776 1230.8L780 1232.4L776 1234ZM1374.4 1230.8L1370.4 1232.4L1374.4 1234ZM1293 1322.2L1294.6 1318.2L1296.2 1322.2ZM1293 723.4L1294.6 727.4L1296.2 723.4ZM776 1240.8L780 1242.4L776 1244ZM1374.4 1240.8L1370.4 1242.4L1374.4 1244ZM1303 1322.2L1304.6 1318.2L1306.2 1322.2ZM1303 723.4L1304.6 727.4L1306.2 723.4ZM776 1250.7L780 1252.3L776 1253.9ZM1374.4 1250.7L1370.4 1252.3L1374.4 1253.9ZM1313 1322.2L1314.6 1318.2L1316.2 1322.2ZM1313 723.4L1314.6 727.4L1316.2 723.4ZM776 1260.7L780 1262.3L776 1263.9ZM1374.4 1260.7L1370.4 1262.3L1374.4 1263.9ZM1322.9 1322.2L1324.5 1318.2L1326.1 1322.2ZM1322.9 723.4L1324.5 727.4L1326.1 723.4ZM776 1270.7L780 1272.3L776 1273.9ZM1374.4 1270.7L1370.4 1272.3L1374.4 1273.9ZM1332.9 1322.2L1334.5 1318.2L1336.1 1322.2ZM1332.9 723.4L1334.5 727.4L1336.1 723.4ZM776 1280.7L780 1282.3L776 1283.9ZM1374.4 1280.7L1370.4 1282.3L1374.4 1283.9ZM1342.9 1322.2L1344.5 1318.2L1346.1 1322.2ZM1342.9 723.4L1344.5 727.4L1346.1 723.4ZM776 1290.7L780 1292.3L776 1293.9ZM1374.4 1290.7L1370.4 1292.3L1374.4 1293.9ZM1352.9 1322.2L1354.5 1318.2L1356.1 1322.2ZM1352.9 723.4L1354.5 727.4L1356.1 723.4ZM776 1300.6L780 1302.2L776 1303.8ZM1374.4 1300.6L1370.4 1302.2L1374.4 1303.8ZM1362.8 1322.2L1364.4 1318.2L1366 1322.2ZM1362.8 723.4L1364.4 727.4L1366 723.4ZM776 1310.6L780 1312.2L776 1313.8ZM1374.4 1310.6L1370.4 1312.2L1374.4 1313.8Z" fill="#000" stroke="#000" stroke-width="0.5" stroke-linejoin="round"/><path d="M875.7 1322.2v-6.5M875.7 723.4v6.5M776 823.2h6.5M1374.4 823.2h-6.5M975.5 1322.2v-6.5M975.5 723.4v6.5M776 923h6.5M1374.4 923h-6.5M1075.2 1322.2v-6.5M1075.2 723.4v6.5M776 1022.8h6.5M1374.4 1022.8h-6.5M1174.9 1322.2v-6.5M1174.9 723.4v6.5M776 1122.6h6.5M1374.4 1122.6h-6.5M1274.7 1322.2v-6.5M1274.7 723.4v6.5M776 1222.4h6.5M1374.4 1222.4h-6.5" stroke="#000" stroke-width="2.0" fill="none"/><g font-family="Liberation Serif" font-size="19" fill="#151515" stroke="#151515" stroke-width="0.4"><text x="776" y="1349" text-anchor="middle">-12</text><text x="875.7" y="1349" text-anchor="middle">-8</text><text x="975.5" y="1349" text-anchor="middle">-4</text><text x="1075.2" y="1349" text-anchor="middle">0</text><text x="1174.9" y="1349" text-anchor="middle">4</text><text x="1274.7" y="1349" text-anchor="middle">8</text><text x="1374.4" y="1349" text-anchor="middle">12</text><text x="768.5" y="730.4" text-anchor="end">-12</text><text x="768.5" y="830.2" text-anchor="end">-8</text><text x="768.5" y="930" text-anchor="end">-4</text><text x="768.5" y="1029.8" text-anchor="end">0</text><text x="768.5" y="1129.6" text-anchor="end">4</text><text x="768.5" y="1229.4" text-anchor="end">8</text><text x="768.5" y="1329.2" text-anchor="end">12</text><text x="1075.2" y="1381.7" text-anchor="middle" font-size="28.5" fill="#1a1a1a" stroke="#1a1a1a" stroke-width="0.55">x/w</text><text transform="translate(730.5 1022.8) rotate(-90)" text-anchor="middle" font-size="28.5" fill="#1a1a1a" stroke="#1a1a1a" stroke-width="0.55">y/w</text></g><text x="785.5" y="779.5" font-family="Liberation Serif" font-size="62" fill="#fff">(d)</text></svg></body></html>
